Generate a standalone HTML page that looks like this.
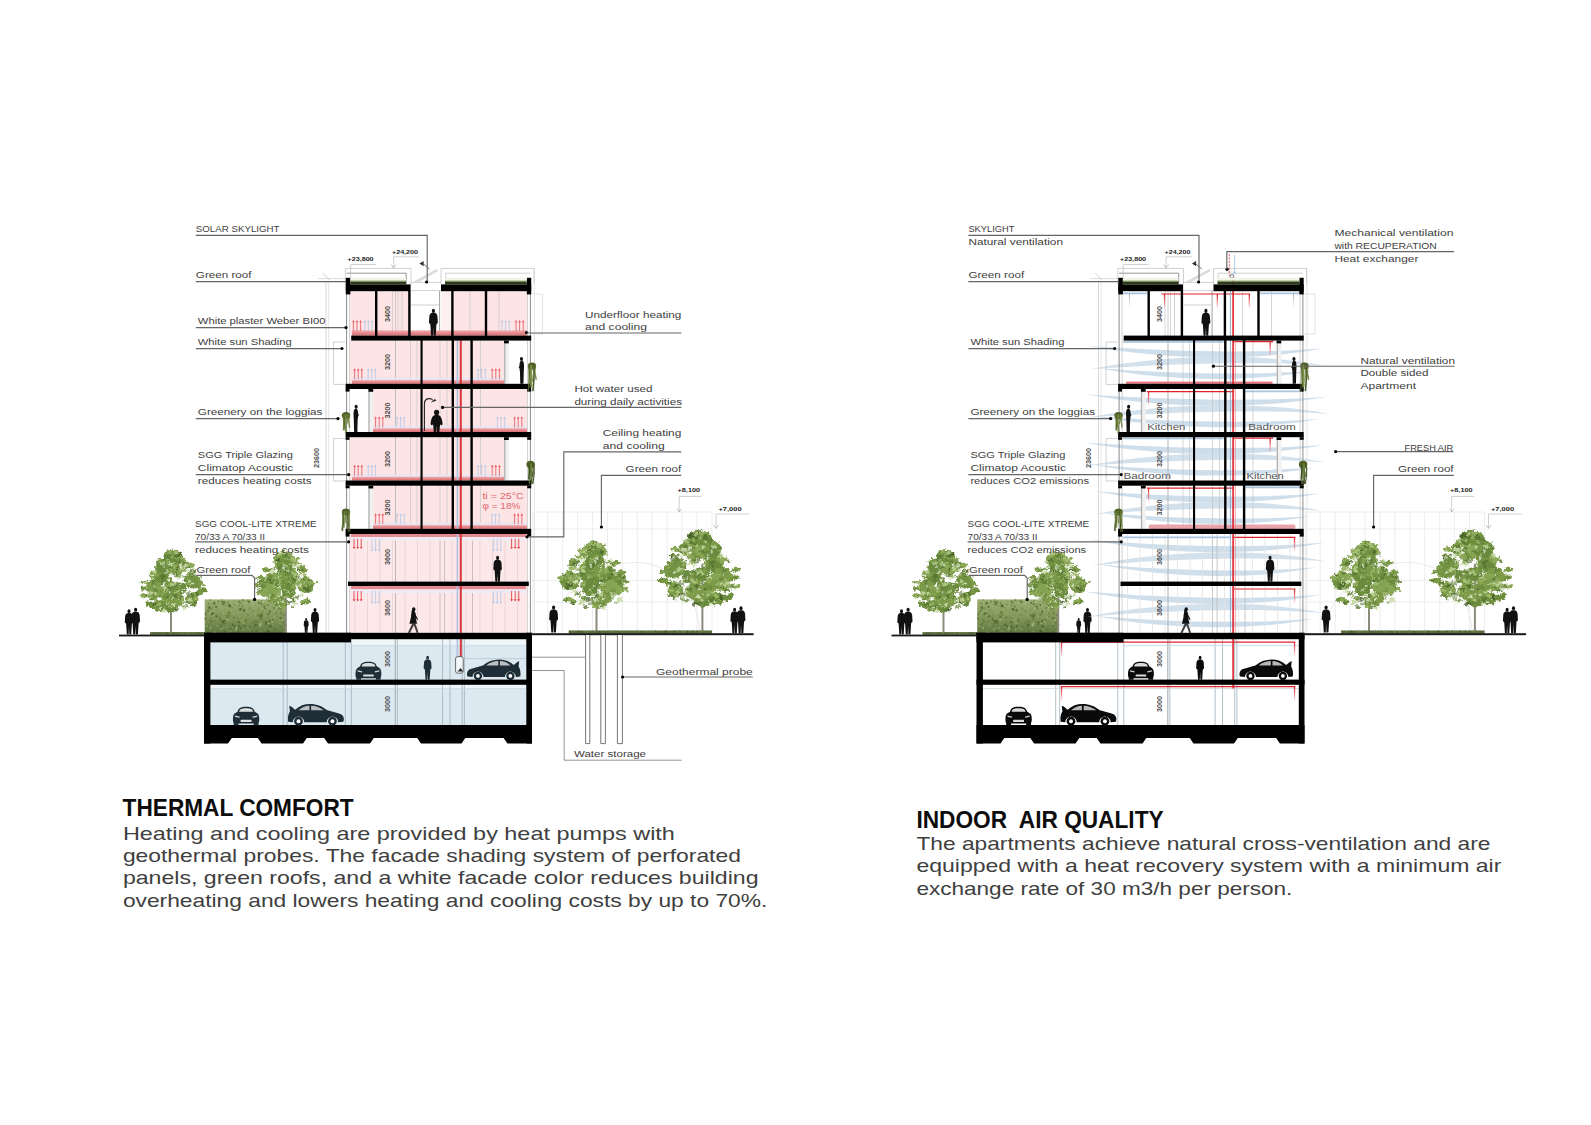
<!DOCTYPE html>
<html lang="en"><head><meta charset="utf-8"><title>Thermal comfort and indoor air quality</title>
<style>html,body{margin:0;padding:0;background:#fff}body{width:1591px;height:1125px;overflow:hidden}svg{display:block;font-family:"Liberation Sans",sans-serif}text{white-space:pre}</style></head><body>
<svg width="1591" height="1125" viewBox="0 0 1591 1125">
<defs><linearGradient id="hg" x1="0" y1="0" x2="0" y2="1"><stop offset="0" stop-color="#9cae76"/><stop offset="0.5" stop-color="#83975a"/><stop offset="1" stop-color="#5f7842"/></linearGradient><linearGradient id="rd" x1="0" y1="0" x2="0" y2="1"><stop offset="0" stop-color="#e0232b"/><stop offset="1" stop-color="#e0232b" stop-opacity="0.1"/></linearGradient><linearGradient id="sg" x1="0" y1="0" x2="0" y2="1"><stop offset="0" stop-color="#f0a9ab"/><stop offset="1" stop-color="#d96c70"/></linearGradient><linearGradient id="gd" x1="0" y1="0" x2="0" y2="1"><stop offset="0" stop-color="#999"/><stop offset="1" stop-color="#999" stop-opacity="0.1"/></linearGradient>
<filter id="rough" x="-15%" y="-15%" width="130%" height="130%"><feTurbulence type="fractalNoise" baseFrequency="0.3" numOctaves="2" seed="4" result="n"/><feDisplacementMap in="SourceGraphic" in2="n" scale="6" xChannelSelector="R" yChannelSelector="G"/></filter>
<g id="trA"><ellipse cx="29.8" cy="46.5" rx="11.9" ry="9.7" fill="#6b8b3d"/><ellipse cx="-21" cy="46.4" rx="13.5" ry="11" fill="#6b8b3d"/><ellipse cx="-31.3" cy="61.5" rx="13.2" ry="10.8" fill="#86a453"/><ellipse cx="11.5" cy="20.1" rx="11.8" ry="9.6" fill="#7b9a48"/><ellipse cx="-3.8" cy="58.6" rx="11" ry="9" fill="#739243"/><ellipse cx="-33.6" cy="61" rx="13.4" ry="10.9" fill="#7b9a48"/><ellipse cx="-18.7" cy="24.2" rx="10.1" ry="8.3" fill="#6b8b3d"/><ellipse cx="-16.9" cy="35.7" rx="12.1" ry="9.9" fill="#739243"/><ellipse cx="12.9" cy="62.4" rx="11.5" ry="9.4" fill="#6b8b3d"/><ellipse cx="4.1" cy="63.7" rx="11" ry="9" fill="#7b9a48"/><ellipse cx="-21.7" cy="68.2" rx="10.5" ry="8.6" fill="#86a453"/><ellipse cx="-4.5" cy="10.5" rx="11.9" ry="9.7" fill="#7b9a48"/><ellipse cx="33.1" cy="80" rx="10.9" ry="8.9" fill="#7b9a48"/><ellipse cx="-16.6" cy="26.1" rx="13.9" ry="11.4" fill="#6b8b3d"/><ellipse cx="-23.6" cy="91.3" rx="11" ry="9" fill="#739243"/><ellipse cx="-32.8" cy="74.2" rx="10.3" ry="8.4" fill="#86a453"/><ellipse cx="4.4" cy="9.3" rx="11.1" ry="9" fill="#739243"/><ellipse cx="-21.6" cy="28.9" rx="9.4" ry="7.7" fill="#6b8b3d"/><ellipse cx="-1.8" cy="23.1" rx="11.9" ry="9.7" fill="#739243"/><ellipse cx="-4.1" cy="91.7" rx="13" ry="10.7" fill="#6b8b3d"/><ellipse cx="-7.6" cy="17.9" rx="11.1" ry="9.1" fill="#86a453"/><ellipse cx="6" cy="81.5" rx="14.2" ry="11.6" fill="#7b9a48"/><ellipse cx="14.7" cy="25.9" rx="11" ry="9" fill="#7b9a48"/><ellipse cx="-1" cy="11.6" rx="9.6" ry="7.9" fill="#7b9a48"/><ellipse cx="-16.1" cy="73.7" rx="10.6" ry="8.7" fill="#7b9a48"/><ellipse cx="3" cy="14.3" rx="9.9" ry="8.1" fill="#7b9a48"/><ellipse cx="-3.8" cy="59.1" rx="10.8" ry="8.9" fill="#6b8b3d"/><ellipse cx="-8.6" cy="78.8" rx="9.5" ry="7.8" fill="#739243"/><ellipse cx="6.3" cy="34.4" rx="10.1" ry="8.2" fill="#739243"/><ellipse cx="1.7" cy="21.5" rx="12.3" ry="10" fill="#6b8b3d"/><ellipse cx="-5.2" cy="83" rx="12.1" ry="9.9" fill="#7b9a48"/><ellipse cx="-6" cy="17.3" rx="11.6" ry="9.5" fill="#6b8b3d"/><ellipse cx="4.2" cy="29.8" rx="13.3" ry="10.9" fill="#86a453"/><ellipse cx="35.3" cy="52.2" rx="13.9" ry="11.4" fill="#739243"/><ellipse cx="-1.6" cy="3" rx="2.5" ry="3.4" fill="#6f8f3e"/><ellipse cx="0.4" cy="6.2" rx="4.1" ry="3.4" fill="#6f8f3e"/><ellipse cx="2.1" cy="9.4" rx="5.7" ry="3.4" fill="#6f8f3e"/><ellipse cx="0.7" cy="12.6" rx="7.3" ry="3.4" fill="#6f8f3e"/><ellipse cx="-1.3" cy="15.8" rx="8.9" ry="3.4" fill="#6f8f3e"/><ellipse cx="-40.4" cy="88.4" rx="5.1" ry="2.2" fill="#6f8f3e" transform="rotate(17.2 -40.4 88.4)"/><ellipse cx="-21.3" cy="19.8" rx="6.9" ry="3" fill="#7a9a47" transform="rotate(31.3 -21.3 19.8)"/><ellipse cx="32.1" cy="26.1" rx="7.4" ry="3.2" fill="#8aa856" transform="rotate(-14.1 32.1 26.1)"/><ellipse cx="-39.9" cy="90.7" rx="6.7" ry="2.9" fill="#6f8f3e" transform="rotate(7 -39.9 90.7)"/><ellipse cx="-34.2" cy="92" rx="5.1" ry="2.2" fill="#7a9a47" transform="rotate(5.8 -34.2 92)"/><ellipse cx="-33.9" cy="40.5" rx="7" ry="3.1" fill="#8aa856" transform="rotate(33.2 -33.9 40.5)"/><ellipse cx="-39.9" cy="89.9" rx="8.5" ry="3.7" fill="#6f8f3e" transform="rotate(31.6 -39.9 89.9)"/><ellipse cx="-50.9" cy="52.9" rx="6.5" ry="2.8" fill="#7a9a47" transform="rotate(0.5 -50.9 52.9)"/><ellipse cx="44.8" cy="60.8" rx="4.8" ry="2.1" fill="#7a9a47" transform="rotate(-31.8 44.8 60.8)"/><ellipse cx="51.2" cy="66.2" rx="7.7" ry="3.4" fill="#6f8f3e" transform="rotate(2.4 51.2 66.2)"/><ellipse cx="44.7" cy="70.5" rx="8.2" ry="3.6" fill="#7a9a47" transform="rotate(-14.3 44.7 70.5)"/><ellipse cx="48.3" cy="56.2" rx="6.7" ry="2.9" fill="#7a9a47" transform="rotate(3.3 48.3 56.2)"/><ellipse cx="24.5" cy="24" rx="4.8" ry="2.1" fill="#6f8f3e" transform="rotate(-29.3 24.5 24)"/><ellipse cx="-49.6" cy="63.9" rx="6.2" ry="2.7" fill="#6f8f3e" transform="rotate(15.1 -49.6 63.9)"/><ellipse cx="36" cy="34.3" rx="5.6" ry="2.4" fill="#6f8f3e" transform="rotate(-2.9 36 34.3)"/><ellipse cx="-50" cy="75.4" rx="6.3" ry="2.8" fill="#8aa856" transform="rotate(-1.8 -50 75.4)"/><ellipse cx="-19.5" cy="23.1" rx="2.6" ry="1.7" fill="#4f6c2b" opacity="0.78"/><ellipse cx="-13.8" cy="94.2" rx="2.1" ry="1.4" fill="#d6e4b8" opacity="0.69"/><ellipse cx="23.1" cy="91.9" rx="2.7" ry="1.8" fill="#68883e" opacity="0.70"/><ellipse cx="23.7" cy="33.3" rx="4.3" ry="2.8" fill="#d6e4b8" opacity="0.63"/><ellipse cx="-18.9" cy="82.6" rx="3.3" ry="2.2" fill="#bbd18c" opacity="0.73"/><ellipse cx="20.1" cy="32.7" rx="1.7" ry="1.2" fill="#8fad57" opacity="0.66"/><ellipse cx="13.4" cy="21.2" rx="2.4" ry="1.6" fill="#8fad57" opacity="0.82"/><ellipse cx="-19.3" cy="97.5" rx="2" ry="1.3" fill="#68883e" opacity="0.76"/><ellipse cx="40.2" cy="80.5" rx="3.5" ry="2.3" fill="#a3bf6e" opacity="0.83"/><ellipse cx="13" cy="27.6" rx="3.7" ry="2.4" fill="#68883e" opacity="0.79"/><ellipse cx="-10.9" cy="20.2" rx="2.6" ry="1.7" fill="#68883e" opacity="0.70"/><ellipse cx="-15.6" cy="98.7" rx="3.9" ry="2.6" fill="#a3bf6e" opacity="0.53"/><ellipse cx="15" cy="92.5" rx="2" ry="1.3" fill="#d6e4b8" opacity="0.58"/><ellipse cx="-38.8" cy="88.2" rx="3.1" ry="2.1" fill="#68883e" opacity="0.82"/><ellipse cx="-2.3" cy="93.6" rx="3.4" ry="2.3" fill="#a3bf6e" opacity="0.54"/><ellipse cx="24.2" cy="86.2" rx="4.1" ry="2.7" fill="#425c23" opacity="0.59"/><ellipse cx="37.1" cy="89.4" rx="4.3" ry="2.8" fill="#68883e" opacity="0.89"/><ellipse cx="-16.1" cy="92.5" rx="3.6" ry="2.4" fill="#4f6c2b" opacity="0.64"/><ellipse cx="-1.8" cy="10.9" rx="3.1" ry="2.1" fill="#bbd18c" opacity="0.69"/><ellipse cx="6.2" cy="5.7" rx="1.8" ry="1.2" fill="#4f6c2b" opacity="0.57"/><ellipse cx="21" cy="35.2" rx="2.1" ry="1.4" fill="#8fad57" opacity="0.90"/><ellipse cx="1.4" cy="89.5" rx="3.5" ry="2.3" fill="#d6e4b8" opacity="0.88"/><ellipse cx="41.5" cy="50.3" rx="1.9" ry="1.3" fill="#a3bf6e" opacity="0.68"/><ellipse cx="32.3" cy="56.6" rx="3.2" ry="2.1" fill="#8fad57" opacity="0.71"/><ellipse cx="5" cy="84" rx="2.5" ry="1.7" fill="#80a04c" opacity="0.88"/><ellipse cx="8.8" cy="86.5" rx="2.5" ry="1.7" fill="#8fad57" opacity="0.89"/><ellipse cx="7" cy="53.3" rx="2.2" ry="1.5" fill="#68883e" opacity="0.55"/><ellipse cx="-1.9" cy="3.5" rx="3.1" ry="2.1" fill="#4f6c2b" opacity="0.71"/><ellipse cx="24.7" cy="41.5" rx="3.2" ry="2.1" fill="#d6e4b8" opacity="0.54"/><ellipse cx="19.8" cy="19" rx="2.9" ry="1.9" fill="#80a04c" opacity="0.61"/><ellipse cx="-33.7" cy="48.4" rx="2.8" ry="1.9" fill="#d6e4b8" opacity="0.71"/><ellipse cx="-2.9" cy="13.4" rx="1.8" ry="1.2" fill="#bbd18c" opacity="0.55"/><ellipse cx="-43.3" cy="77.8" rx="2.2" ry="1.5" fill="#a3bf6e" opacity="0.50"/><ellipse cx="14.6" cy="30.3" rx="2.3" ry="1.6" fill="#d6e4b8" opacity="0.54"/><ellipse cx="-35.6" cy="73.2" rx="3" ry="2" fill="#bbd18c" opacity="0.79"/><ellipse cx="36" cy="70.3" rx="1.7" ry="1.2" fill="#80a04c" opacity="0.83"/><ellipse cx="3.7" cy="62.1" rx="4" ry="2.6" fill="#68883e" opacity="0.76"/><ellipse cx="33.9" cy="53.8" rx="3.3" ry="2.2" fill="#8fad57" opacity="0.59"/><ellipse cx="29.3" cy="74.1" rx="4.1" ry="2.7" fill="#5a7832" opacity="0.74"/><ellipse cx="-23.9" cy="88.5" rx="3.7" ry="2.5" fill="#a3bf6e" opacity="0.86"/><ellipse cx="-10.5" cy="15.9" rx="3.6" ry="2.4" fill="#bbd18c" opacity="0.66"/><ellipse cx="37.9" cy="44.7" rx="3.1" ry="2.1" fill="#8fad57" opacity="0.58"/><ellipse cx="28.8" cy="63.3" rx="1.9" ry="1.3" fill="#c3d79b" opacity="0.77"/><ellipse cx="35" cy="90.5" rx="2" ry="1.3" fill="#68883e" opacity="0.75"/><ellipse cx="36.9" cy="36" rx="3.9" ry="2.6" fill="#425c23" opacity="0.69"/><ellipse cx="5.1" cy="5.3" rx="3.3" ry="2.2" fill="#c3d79b" opacity="0.69"/><ellipse cx="-19.2" cy="21.2" rx="2.1" ry="1.4" fill="#8fad57" opacity="0.90"/><ellipse cx="-28.1" cy="92" rx="1.8" ry="1.2" fill="#d6e4b8" opacity="0.53"/><ellipse cx="-3.7" cy="12.3" rx="2.8" ry="1.9" fill="#5a7832" opacity="0.67"/><ellipse cx="-47.2" cy="60.7" rx="3.5" ry="2.4" fill="#a3bf6e" opacity="0.57"/><ellipse cx="21.1" cy="46.6" rx="2.7" ry="1.8" fill="#a3bf6e" opacity="0.74"/><ellipse cx="9.7" cy="12.1" rx="2.5" ry="1.7" fill="#425c23" opacity="0.82"/><ellipse cx="34.2" cy="70.6" rx="3.3" ry="2.2" fill="#80a04c" opacity="0.73"/><ellipse cx="4.2" cy="21.3" rx="2.6" ry="1.7" fill="#bbd18c" opacity="0.61"/><ellipse cx="9" cy="14.2" rx="2.1" ry="1.4" fill="#80a04c" opacity="0.55"/><ellipse cx="2.8" cy="34.7" rx="2.7" ry="1.8" fill="#80a04c" opacity="0.81"/><ellipse cx="18.4" cy="42" rx="1.9" ry="1.2" fill="#5a7832" opacity="0.62"/><ellipse cx="13.3" cy="12.7" rx="4.3" ry="2.9" fill="#c3d79b" opacity="0.52"/><ellipse cx="29.3" cy="29.2" rx="2.5" ry="1.6" fill="#a3bf6e" opacity="0.76"/><ellipse cx="3.2" cy="57.7" rx="2.7" ry="1.8" fill="#d6e4b8" opacity="0.76"/><ellipse cx="24.9" cy="70.3" rx="4.3" ry="2.8" fill="#4f6c2b" opacity="0.55"/><ellipse cx="-9.4" cy="13.4" rx="2.9" ry="1.9" fill="#68883e" opacity="0.52"/><ellipse cx="-6.3" cy="21.8" rx="1.9" ry="1.3" fill="#bbd18c" opacity="0.61"/><ellipse cx="3" cy="35.7" rx="2.8" ry="1.9" fill="#68883e" opacity="0.73"/><ellipse cx="6.4" cy="98.5" rx="3.8" ry="2.5" fill="#425c23" opacity="0.72"/><ellipse cx="43.5" cy="67.2" rx="2.7" ry="1.8" fill="#8fad57" opacity="0.65"/><ellipse cx="19.5" cy="96.1" rx="3.1" ry="2.1" fill="#c3d79b" opacity="0.52"/><ellipse cx="-5" cy="93.7" rx="3.1" ry="2" fill="#c3d79b" opacity="0.62"/><ellipse cx="-1.6" cy="53.9" rx="2.4" ry="1.6" fill="#bbd18c" opacity="0.77"/><ellipse cx="-44.5" cy="74.8" rx="3.7" ry="2.5" fill="#c3d79b" opacity="0.52"/><ellipse cx="11.2" cy="18" rx="2.7" ry="1.8" fill="#5a7832" opacity="0.80"/><ellipse cx="12.1" cy="7.8" rx="4.2" ry="2.8" fill="#425c23" opacity="0.82"/><ellipse cx="12.2" cy="24.5" rx="2.3" ry="1.6" fill="#a3bf6e" opacity="0.52"/><ellipse cx="10.5" cy="12.5" rx="4.1" ry="2.7" fill="#8fad57" opacity="0.89"/><ellipse cx="9" cy="81.4" rx="2" ry="1.3" fill="#c3d79b" opacity="0.67"/><ellipse cx="13.5" cy="14.3" rx="2.6" ry="1.7" fill="#8fad57" opacity="0.55"/><ellipse cx="14.6" cy="45.5" rx="2.9" ry="1.9" fill="#bbd18c" opacity="0.76"/><ellipse cx="-13" cy="68.5" rx="3.6" ry="2.4" fill="#8fad57" opacity="0.88"/><ellipse cx="-24.7" cy="73.5" rx="2" ry="1.3" fill="#bbd18c" opacity="0.81"/><ellipse cx="-13.6" cy="63" rx="2.4" ry="1.6" fill="#c3d79b" opacity="0.78"/><ellipse cx="-11.1" cy="21.2" rx="2.3" ry="1.5" fill="#a3bf6e" opacity="0.70"/><ellipse cx="-29.2" cy="65.7" rx="3.5" ry="2.3" fill="#4f6c2b" opacity="0.50"/><ellipse cx="-29.1" cy="27.9" rx="1.8" ry="1.2" fill="#a3bf6e" opacity="0.72"/><ellipse cx="-12.1" cy="10" rx="3.5" ry="2.3" fill="#68883e" opacity="0.59"/><ellipse cx="-0.8" cy="97.2" rx="2.6" ry="1.7" fill="#5a7832" opacity="0.64"/><ellipse cx="31.9" cy="74.5" rx="1.9" ry="1.3" fill="#425c23" opacity="0.68"/><ellipse cx="29" cy="81.9" rx="3.7" ry="2.5" fill="#d6e4b8" opacity="0.67"/><ellipse cx="19" cy="27.8" rx="2.7" ry="1.8" fill="#c3d79b" opacity="0.63"/><ellipse cx="24.1" cy="55.7" rx="4.1" ry="2.7" fill="#80a04c" opacity="0.76"/><ellipse cx="-3.7" cy="58.7" rx="2.5" ry="1.7" fill="#68883e" opacity="0.53"/><ellipse cx="-1.5" cy="57.2" rx="3.5" ry="2.3" fill="#bbd18c" opacity="0.83"/><ellipse cx="-3.1" cy="3.9" rx="4.1" ry="2.7" fill="#c3d79b" opacity="0.53"/><ellipse cx="15.3" cy="32.2" rx="3.5" ry="2.3" fill="#bbd18c" opacity="0.85"/><ellipse cx="8.7" cy="24" rx="2.5" ry="1.7" fill="#425c23" opacity="0.63"/><ellipse cx="8.2" cy="45.3" rx="4.1" ry="2.7" fill="#bbd18c" opacity="0.68"/><ellipse cx="-17.2" cy="80.1" rx="2.5" ry="1.7" fill="#80a04c" opacity="0.89"/><ellipse cx="1.5" cy="73.1" rx="1.9" ry="1.3" fill="#5a7832" opacity="0.51"/><ellipse cx="8.1" cy="68" rx="3.8" ry="2.5" fill="#c3d79b" opacity="0.65"/><ellipse cx="-27.9" cy="40.5" rx="3.2" ry="2.2" fill="#8fad57" opacity="0.57"/><ellipse cx="35.5" cy="75.9" rx="2.4" ry="1.6" fill="#4f6c2b" opacity="0.59"/><ellipse cx="-9" cy="8.5" rx="2.5" ry="1.6" fill="#4f6c2b" opacity="0.76"/><ellipse cx="-38.3" cy="80.2" rx="3.1" ry="2.1" fill="#68883e" opacity="0.53"/><ellipse cx="7.3" cy="10.8" rx="4.1" ry="2.7" fill="#425c23" opacity="0.51"/><ellipse cx="-38.6" cy="65.7" rx="3.8" ry="2.6" fill="#80a04c" opacity="0.60"/><ellipse cx="14.7" cy="24.2" rx="3.1" ry="2" fill="#d6e4b8" opacity="0.66"/><ellipse cx="34.3" cy="35.4" rx="3.5" ry="2.3" fill="#d6e4b8" opacity="0.70"/><ellipse cx="-37.6" cy="80.3" rx="3.3" ry="2.2" fill="#4f6c2b" opacity="0.66"/><ellipse cx="14.3" cy="82.3" rx="3.9" ry="2.6" fill="#80a04c" opacity="0.83"/><ellipse cx="35.9" cy="88.3" rx="3.4" ry="2.2" fill="#68883e" opacity="0.64"/><ellipse cx="-6.4" cy="4" rx="4.1" ry="2.7" fill="#8fad57" opacity="0.60"/><ellipse cx="6.1" cy="18.6" rx="3.5" ry="2.3" fill="#5a7832" opacity="0.58"/><ellipse cx="-17.6" cy="43.8" rx="4.2" ry="2.8" fill="#4f6c2b" opacity="0.69"/><ellipse cx="-18.6" cy="73.2" rx="2.1" ry="1.4" fill="#8fad57" opacity="0.86"/><ellipse cx="-45.3" cy="75.3" rx="3" ry="2" fill="#4f6c2b" opacity="0.63"/><ellipse cx="-7.2" cy="22" rx="3.2" ry="2.2" fill="#c3d79b" opacity="0.79"/><ellipse cx="-26.8" cy="60.1" rx="2.2" ry="1.4" fill="#bbd18c" opacity="0.66"/><ellipse cx="32.8" cy="90.4" rx="3.3" ry="2.2" fill="#68883e" opacity="0.69"/><ellipse cx="23.8" cy="28" rx="4.1" ry="2.7" fill="#5a7832" opacity="0.76"/><ellipse cx="-37.3" cy="77.1" rx="4" ry="2.6" fill="#80a04c" opacity="0.52"/><ellipse cx="18.8" cy="94" rx="2.7" ry="1.8" fill="#68883e" opacity="0.82"/><ellipse cx="26.3" cy="77.3" rx="1.8" ry="1.2" fill="#a3bf6e" opacity="0.86"/><ellipse cx="32.4" cy="86.9" rx="2.9" ry="1.9" fill="#a3bf6e" opacity="0.79"/><ellipse cx="-33.2" cy="61.2" rx="2.1" ry="1.4" fill="#5a7832" opacity="0.56"/><ellipse cx="23.5" cy="90.2" rx="2" ry="1.4" fill="#c3d79b" opacity="0.61"/><ellipse cx="-34" cy="54.3" rx="3.7" ry="2.5" fill="#4f6c2b" opacity="0.58"/><ellipse cx="-25.6" cy="91" rx="2" ry="1.3" fill="#5a7832" opacity="0.61"/><ellipse cx="-38.2" cy="71.8" rx="2.9" ry="2" fill="#d6e4b8" opacity="0.53"/><ellipse cx="4.1" cy="74.9" rx="3" ry="2" fill="#4f6c2b" opacity="0.82"/><ellipse cx="35" cy="43" rx="1.9" ry="1.3" fill="#d6e4b8" opacity="0.58"/><ellipse cx="2.5" cy="55.2" rx="2.1" ry="1.4" fill="#bbd18c" opacity="0.63"/><ellipse cx="4.7" cy="41.9" rx="4.3" ry="2.9" fill="#425c23" opacity="0.64"/><ellipse cx="-37.6" cy="69" rx="2.7" ry="1.8" fill="#d6e4b8" opacity="0.80"/><ellipse cx="-34.1" cy="78.3" rx="2.9" ry="1.9" fill="#80a04c" opacity="0.78"/><ellipse cx="-18.7" cy="48.6" rx="2" ry="1.3" fill="#4f6c2b" opacity="0.84"/><ellipse cx="18.3" cy="84.1" rx="4.1" ry="2.7" fill="#8fad57" opacity="0.62"/><ellipse cx="3.1" cy="39.1" rx="2.5" ry="1.6" fill="#5a7832" opacity="0.80"/><ellipse cx="-40.4" cy="56.3" rx="2.2" ry="1.5" fill="#80a04c" opacity="0.79"/><ellipse cx="32" cy="34.6" rx="3.2" ry="2.1" fill="#5a7832" opacity="0.68"/><ellipse cx="-31.8" cy="39.7" rx="3.3" ry="2.2" fill="#8fad57" opacity="0.77"/><ellipse cx="-30.4" cy="71" rx="2.7" ry="1.8" fill="#d6e4b8" opacity="0.74"/><ellipse cx="-8.9" cy="11.6" rx="2.1" ry="1.4" fill="#425c23" opacity="0.67"/><ellipse cx="-14.5" cy="77" rx="3.9" ry="2.6" fill="#68883e" opacity="0.56"/><ellipse cx="-18.5" cy="22.7" rx="3.5" ry="2.3" fill="#d6e4b8" opacity="0.63"/><ellipse cx="-40.4" cy="42.6" rx="2.7" ry="1.8" fill="#5a7832" opacity="0.89"/><ellipse cx="14.4" cy="78.8" rx="3.3" ry="2.2" fill="#4f6c2b" opacity="0.60"/><ellipse cx="-9.6" cy="21.1" rx="2.8" ry="1.9" fill="#68883e" opacity="0.65"/><ellipse cx="27.2" cy="51.9" rx="3.9" ry="2.6" fill="#c3d79b" opacity="0.79"/><ellipse cx="2.4" cy="27.4" rx="2.5" ry="1.6" fill="#a3bf6e" opacity="0.64"/><ellipse cx="-33.4" cy="51" rx="3.6" ry="2.4" fill="#68883e" opacity="0.90"/><ellipse cx="41.4" cy="70.9" rx="3.2" ry="2.1" fill="#4f6c2b" opacity="0.75"/><ellipse cx="-21.4" cy="22" rx="2.3" ry="1.6" fill="#c3d79b" opacity="0.67"/><ellipse cx="-29.6" cy="35" rx="4" ry="2.7" fill="#bbd18c" opacity="0.69"/><ellipse cx="18.2" cy="14.9" rx="2" ry="1.4" fill="#c3d79b" opacity="0.72"/><ellipse cx="5.9" cy="56.8" rx="2.4" ry="1.6" fill="#5a7832" opacity="0.74"/><ellipse cx="12.4" cy="14.8" rx="2.4" ry="1.6" fill="#5a7832" opacity="0.60"/><ellipse cx="32.2" cy="58.1" rx="2.2" ry="1.4" fill="#68883e" opacity="0.82"/><ellipse cx="-8.5" cy="46.6" rx="3.7" ry="2.5" fill="#8fad57" opacity="0.62"/><ellipse cx="22.7" cy="67.4" rx="2.7" ry="1.8" fill="#c3d79b" opacity="0.76"/><ellipse cx="-31.6" cy="76.3" rx="2.8" ry="1.8" fill="#4f6c2b" opacity="0.56"/><ellipse cx="5.6" cy="40.1" rx="2.1" ry="1.4" fill="#68883e" opacity="0.55"/><ellipse cx="25.5" cy="26.4" rx="1.8" ry="1.2" fill="#4f6c2b" opacity="0.79"/><ellipse cx="-8.7" cy="78.6" rx="3" ry="2" fill="#425c23" opacity="0.69"/><ellipse cx="10.3" cy="42.5" rx="3.5" ry="2.3" fill="#80a04c" opacity="0.80"/><ellipse cx="45.4" cy="49.6" rx="3.9" ry="2.6" fill="#80a04c" opacity="0.83"/><ellipse cx="-14.3" cy="14.3" rx="4.2" ry="2.8" fill="#5a7832" opacity="0.71"/><ellipse cx="34.6" cy="44.5" rx="2.5" ry="1.7" fill="#4f6c2b" opacity="0.62"/><ellipse cx="-6.5" cy="62.2" rx="2.7" ry="1.8" fill="#5a7832" opacity="0.80"/><ellipse cx="6.4" cy="32.3" rx="1.9" ry="1.2" fill="#425c23" opacity="0.84"/><ellipse cx="21.9" cy="26.3" rx="4.2" ry="2.8" fill="#d6e4b8" opacity="0.78"/><ellipse cx="-25.1" cy="53.5" rx="2.5" ry="1.7" fill="#80a04c" opacity="0.88"/><ellipse cx="39.7" cy="87.5" rx="3.6" ry="2.4" fill="#5a7832" opacity="0.85"/><ellipse cx="25.8" cy="43.5" rx="2.3" ry="1.5" fill="#80a04c" opacity="0.73"/><ellipse cx="-30.8" cy="89.7" rx="3.8" ry="2.5" fill="#425c23" opacity="0.85"/><ellipse cx="-4.6" cy="58.3" rx="2.5" ry="1.6" fill="#bbd18c" opacity="0.51"/><ellipse cx="-2.8" cy="19.5" rx="2.9" ry="1.9" fill="#68883e" opacity="0.66"/><ellipse cx="6.5" cy="37.2" rx="1.8" ry="1.2" fill="#4f6c2b" opacity="0.68"/><ellipse cx="-12.2" cy="33.1" rx="2.1" ry="1.4" fill="#d6e4b8" opacity="0.85"/><ellipse cx="18.7" cy="22.5" rx="3.5" ry="2.3" fill="#4f6c2b" opacity="0.58"/><ellipse cx="-12.3" cy="83.4" rx="2.9" ry="2" fill="#8fad57" opacity="0.75"/><ellipse cx="5.7" cy="70" rx="3.1" ry="2.1" fill="#a3bf6e" opacity="0.58"/><ellipse cx="-35.7" cy="87.5" rx="2" ry="1.3" fill="#5a7832" opacity="0.88"/><ellipse cx="-5.1" cy="29.3" rx="4" ry="2.7" fill="#5a7832" opacity="0.78"/><ellipse cx="-3.6" cy="93" rx="1.9" ry="1.3" fill="#a3bf6e" opacity="0.84"/><ellipse cx="7.2" cy="14.6" rx="2.4" ry="1.6" fill="#a3bf6e" opacity="0.70"/><ellipse cx="-15.1" cy="31.4" rx="3.8" ry="2.5" fill="#68883e" opacity="0.85"/><ellipse cx="-26.3" cy="59.6" rx="2.5" ry="1.6" fill="#8fad57" opacity="0.77"/><ellipse cx="9" cy="29.6" rx="1.9" ry="1.3" fill="#425c23" opacity="0.68"/><ellipse cx="3" cy="53.7" rx="1.8" ry="1.2" fill="#c3d79b" opacity="0.73"/><ellipse cx="-7.5" cy="54.6" rx="3.2" ry="2.1" fill="#8fad57" opacity="0.61"/><ellipse cx="-23.7" cy="75.5" rx="2.4" ry="1.6" fill="#68883e" opacity="0.51"/><circle cx="-24.9" cy="80.9" r="2.1" fill="#fff" opacity="0.6"/><circle cx="32.5" cy="67.9" r="1.6" fill="#fff" opacity="0.6"/><circle cx="15.4" cy="20.2" r="0.9" fill="#fff" opacity="0.6"/><circle cx="12.8" cy="24.9" r="2.1" fill="#fff" opacity="0.6"/><circle cx="-1.2" cy="44.7" r="0.8" fill="#fff" opacity="0.6"/><circle cx="22.2" cy="42.4" r="1.7" fill="#fff" opacity="0.6"/><circle cx="11.2" cy="95.7" r="1.5" fill="#fff" opacity="0.6"/><circle cx="21.2" cy="65.7" r="1" fill="#fff" opacity="0.6"/><circle cx="13.2" cy="53.5" r="1.6" fill="#fff" opacity="0.6"/><circle cx="14.1" cy="39.7" r="1.8" fill="#fff" opacity="0.6"/><circle cx="2.9" cy="40" r="2" fill="#fff" opacity="0.6"/><circle cx="-18.7" cy="66.5" r="1.1" fill="#fff" opacity="0.6"/><circle cx="-21.8" cy="94.7" r="1.4" fill="#fff" opacity="0.6"/><circle cx="-11.3" cy="87.8" r="1.7" fill="#fff" opacity="0.6"/><circle cx="23.9" cy="66.9" r="1.5" fill="#fff" opacity="0.6"/><circle cx="27.2" cy="75.7" r="0.8" fill="#fff" opacity="0.6"/><circle cx="-16.5" cy="28.8" r="1.7" fill="#fff" opacity="0.6"/><circle cx="17.4" cy="64.6" r="1.7" fill="#fff" opacity="0.6"/><circle cx="-3.4" cy="24.2" r="1.8" fill="#fff" opacity="0.6"/><circle cx="16.5" cy="83.1" r="1.9" fill="#fff" opacity="0.6"/><circle cx="-0.1" cy="78.9" r="1.7" fill="#fff" opacity="0.6"/><circle cx="-9.6" cy="59.3" r="1.1" fill="#fff" opacity="0.6"/><circle cx="12.6" cy="58.3" r="1.6" fill="#fff" opacity="0.6"/><circle cx="-14.7" cy="55" r="1.5" fill="#fff" opacity="0.6"/><circle cx="15.7" cy="73.8" r="2.1" fill="#fff" opacity="0.6"/><circle cx="13.4" cy="29.9" r="1.6" fill="#fff" opacity="0.6"/><circle cx="13" cy="30.4" r="1.5" fill="#fff" opacity="0.6"/><circle cx="-22.6" cy="95.9" r="1.4" fill="#fff" opacity="0.6"/><circle cx="-32.3" cy="60.5" r="1.6" fill="#fff" opacity="0.6"/><circle cx="34.8" cy="56.3" r="2.2" fill="#fff" opacity="0.6"/><circle cx="16.8" cy="72.3" r="2.2" fill="#fff" opacity="0.6"/><circle cx="-15.9" cy="67.2" r="1" fill="#fff" opacity="0.6"/><circle cx="-5.4" cy="85.9" r="0.9" fill="#fff" opacity="0.6"/><circle cx="-11.9" cy="37.5" r="2.1" fill="#fff" opacity="0.6"/></g>
<g id="trB"><ellipse cx="11.9" cy="48.3" rx="12.4" ry="10.2" fill="#739243"/><ellipse cx="-1" cy="40.4" rx="14.3" ry="11.7" fill="#6b8b3d"/><ellipse cx="4.5" cy="66.7" rx="12.1" ry="9.9" fill="#739243"/><ellipse cx="-9" cy="91.1" rx="10.8" ry="8.9" fill="#739243"/><ellipse cx="-5.9" cy="13" rx="13.3" ry="10.9" fill="#86a453"/><ellipse cx="-31.5" cy="65.9" rx="13.2" ry="10.8" fill="#7b9a48"/><ellipse cx="-20" cy="77.7" rx="12.4" ry="10.2" fill="#6b8b3d"/><ellipse cx="-4.9" cy="88.5" rx="9.4" ry="7.7" fill="#739243"/><ellipse cx="4.4" cy="53.9" rx="13.7" ry="11.2" fill="#7b9a48"/><ellipse cx="-33.7" cy="55.2" rx="11.6" ry="9.5" fill="#6b8b3d"/><ellipse cx="8.7" cy="64.8" rx="11.4" ry="9.3" fill="#7b9a48"/><ellipse cx="-25.7" cy="62.5" rx="9.3" ry="7.6" fill="#86a453"/><ellipse cx="11.7" cy="38.3" rx="10.8" ry="8.8" fill="#86a453"/><ellipse cx="-3.8" cy="17.7" rx="10.1" ry="8.3" fill="#739243"/><ellipse cx="-0.6" cy="10.4" rx="13.3" ry="10.9" fill="#7b9a48"/><ellipse cx="-4.8" cy="26.9" rx="11.1" ry="9.1" fill="#7b9a48"/><ellipse cx="-33.8" cy="72" rx="10" ry="8.2" fill="#86a453"/><ellipse cx="-2.4" cy="11.1" rx="10.3" ry="8.4" fill="#7b9a48"/><ellipse cx="-12.6" cy="51.7" rx="10.8" ry="8.9" fill="#6b8b3d"/><ellipse cx="-1.3" cy="48.5" rx="14.1" ry="11.5" fill="#739243"/><ellipse cx="-22.8" cy="47.5" rx="11.8" ry="9.7" fill="#739243"/><ellipse cx="-16" cy="85.5" rx="8.8" ry="7.2" fill="#86a453"/><ellipse cx="0" cy="23.3" rx="13.2" ry="10.8" fill="#739243"/><ellipse cx="37.7" cy="60.6" rx="14.2" ry="11.6" fill="#739243"/><ellipse cx="3.7" cy="10" rx="10.6" ry="8.7" fill="#86a453"/><ellipse cx="2.2" cy="62.3" rx="10.1" ry="8.2" fill="#6b8b3d"/><ellipse cx="14" cy="49.6" rx="10.7" ry="8.8" fill="#6b8b3d"/><ellipse cx="-14.5" cy="84" rx="9.7" ry="7.9" fill="#7b9a48"/><ellipse cx="0.7" cy="31.7" rx="14" ry="11.4" fill="#6b8b3d"/><ellipse cx="-17.4" cy="67.9" rx="10" ry="8.2" fill="#86a453"/><ellipse cx="-7.7" cy="10.4" rx="8.8" ry="7.2" fill="#86a453"/><ellipse cx="-4.5" cy="43.7" rx="10.1" ry="8.3" fill="#7b9a48"/><ellipse cx="33.5" cy="55.6" rx="12.2" ry="10" fill="#86a453"/><ellipse cx="6.9" cy="72.6" rx="11.1" ry="9.1" fill="#6b8b3d"/><ellipse cx="1.7" cy="3" rx="2.5" ry="3.4" fill="#6f8f3e"/><ellipse cx="0.5" cy="6.2" rx="4.1" ry="3.4" fill="#6f8f3e"/><ellipse cx="-0.9" cy="9.4" rx="5.7" ry="3.4" fill="#6f8f3e"/><ellipse cx="-0.8" cy="12.6" rx="7.3" ry="3.4" fill="#6f8f3e"/><ellipse cx="1.4" cy="15.8" rx="8.9" ry="3.4" fill="#6f8f3e"/><ellipse cx="-49.1" cy="60.1" rx="5.4" ry="2.4" fill="#7a9a47" transform="rotate(3.1 -49.1 60.1)"/><ellipse cx="38.9" cy="86.8" rx="8" ry="3.5" fill="#6f8f3e" transform="rotate(-3.3 38.9 86.8)"/><ellipse cx="-42.9" cy="71.8" rx="8.5" ry="3.7" fill="#8aa856" transform="rotate(7.5 -42.9 71.8)"/><ellipse cx="-42.6" cy="54.3" rx="7.2" ry="3.1" fill="#8aa856" transform="rotate(19.2 -42.6 54.3)"/><ellipse cx="33" cy="34.7" rx="5.1" ry="2.2" fill="#6f8f3e" transform="rotate(-29.3 33 34.7)"/><ellipse cx="23.4" cy="22.2" rx="5.5" ry="2.4" fill="#8aa856" transform="rotate(-8.6 23.4 22.2)"/><ellipse cx="33.2" cy="89.8" rx="5.6" ry="2.5" fill="#8aa856" transform="rotate(-17.3 33.2 89.8)"/><ellipse cx="30.1" cy="29.3" rx="8.3" ry="3.6" fill="#7a9a47" transform="rotate(2.8 30.1 29.3)"/><ellipse cx="18.3" cy="15.6" rx="8.2" ry="3.6" fill="#8aa856" transform="rotate(-17.7 18.3 15.6)"/><ellipse cx="-33" cy="32.6" rx="7.6" ry="3.3" fill="#7a9a47" transform="rotate(15 -33 32.6)"/><ellipse cx="-41.5" cy="46.1" rx="7.9" ry="3.5" fill="#7a9a47" transform="rotate(1.7 -41.5 46.1)"/><ellipse cx="33.6" cy="33.2" rx="6.6" ry="2.9" fill="#7a9a47" transform="rotate(3.9 33.6 33.2)"/><ellipse cx="44.5" cy="59.3" rx="7.7" ry="3.4" fill="#6f8f3e" transform="rotate(-4 44.5 59.3)"/><ellipse cx="34.8" cy="86.7" rx="6.7" ry="2.9" fill="#8aa856" transform="rotate(-29.6 34.8 86.7)"/><ellipse cx="51" cy="54.6" rx="5.9" ry="2.6" fill="#8aa856" transform="rotate(-11 51 54.6)"/><ellipse cx="37.6" cy="46.1" rx="5.8" ry="2.6" fill="#7a9a47" transform="rotate(-1.3 37.6 46.1)"/><ellipse cx="27.5" cy="61.4" rx="2.8" ry="1.8" fill="#c3d79b" opacity="0.76"/><ellipse cx="19.7" cy="35.6" rx="3" ry="2" fill="#80a04c" opacity="0.83"/><ellipse cx="14.1" cy="20.5" rx="3.9" ry="2.6" fill="#425c23" opacity="0.89"/><ellipse cx="-42.9" cy="53.2" rx="3.9" ry="2.6" fill="#5a7832" opacity="0.89"/><ellipse cx="19.9" cy="90.8" rx="3.9" ry="2.6" fill="#bbd18c" opacity="0.83"/><ellipse cx="20.4" cy="23.3" rx="1.7" ry="1.2" fill="#bbd18c" opacity="0.52"/><ellipse cx="-26.6" cy="80.8" rx="2.2" ry="1.5" fill="#bbd18c" opacity="0.87"/><ellipse cx="13.9" cy="97.2" rx="3.1" ry="2.1" fill="#4f6c2b" opacity="0.74"/><ellipse cx="6.4" cy="12.8" rx="3.1" ry="2.1" fill="#d6e4b8" opacity="0.54"/><ellipse cx="-5.8" cy="3.6" rx="2.7" ry="1.8" fill="#d6e4b8" opacity="0.75"/><ellipse cx="12" cy="47.9" rx="2.7" ry="1.8" fill="#80a04c" opacity="0.86"/><ellipse cx="6.9" cy="5.7" rx="1.7" ry="1.2" fill="#8fad57" opacity="0.70"/><ellipse cx="15.6" cy="85.1" rx="4.2" ry="2.8" fill="#80a04c" opacity="0.72"/><ellipse cx="-7.2" cy="95.4" rx="1.9" ry="1.2" fill="#8fad57" opacity="0.64"/><ellipse cx="-4.4" cy="25.2" rx="3.8" ry="2.5" fill="#4f6c2b" opacity="0.87"/><ellipse cx="3.9" cy="6" rx="3.2" ry="2.1" fill="#4f6c2b" opacity="0.74"/><ellipse cx="29.5" cy="59.4" rx="3.3" ry="2.2" fill="#d6e4b8" opacity="0.80"/><ellipse cx="3.6" cy="43.7" rx="2.5" ry="1.7" fill="#a3bf6e" opacity="0.66"/><ellipse cx="-15.6" cy="66" rx="1.8" ry="1.2" fill="#5a7832" opacity="0.56"/><ellipse cx="-0.5" cy="14.8" rx="2" ry="1.4" fill="#bbd18c" opacity="0.51"/><ellipse cx="-1" cy="24.9" rx="3.6" ry="2.4" fill="#80a04c" opacity="0.80"/><ellipse cx="-8.7" cy="35.6" rx="4" ry="2.6" fill="#d6e4b8" opacity="0.64"/><ellipse cx="10.6" cy="88.4" rx="3.3" ry="2.2" fill="#425c23" opacity="0.59"/><ellipse cx="9" cy="40" rx="2" ry="1.3" fill="#68883e" opacity="0.77"/><ellipse cx="-19.1" cy="45.3" rx="2.6" ry="1.7" fill="#425c23" opacity="0.55"/><ellipse cx="-0.7" cy="59.3" rx="2.6" ry="1.8" fill="#8fad57" opacity="0.74"/><ellipse cx="-11.8" cy="58.4" rx="2.5" ry="1.7" fill="#5a7832" opacity="0.86"/><ellipse cx="32.4" cy="91" rx="3.3" ry="2.2" fill="#425c23" opacity="0.57"/><ellipse cx="-24.2" cy="41.4" rx="2.5" ry="1.7" fill="#5a7832" opacity="0.75"/><ellipse cx="-29.3" cy="85.4" rx="2.6" ry="1.7" fill="#80a04c" opacity="0.52"/><ellipse cx="2.7" cy="34.5" rx="3.9" ry="2.6" fill="#68883e" opacity="0.54"/><ellipse cx="18.6" cy="27" rx="4.3" ry="2.9" fill="#bbd18c" opacity="0.57"/><ellipse cx="-18.8" cy="45.1" rx="3.9" ry="2.6" fill="#a3bf6e" opacity="0.58"/><ellipse cx="-24" cy="29.3" rx="2.2" ry="1.5" fill="#8fad57" opacity="0.69"/><ellipse cx="-2.4" cy="95.1" rx="4.2" ry="2.8" fill="#80a04c" opacity="0.68"/><ellipse cx="-18.3" cy="40.3" rx="4.1" ry="2.7" fill="#a3bf6e" opacity="0.60"/><ellipse cx="21.8" cy="53.5" rx="3" ry="2" fill="#c3d79b" opacity="0.84"/><ellipse cx="-7.4" cy="35.6" rx="2" ry="1.4" fill="#425c23" opacity="0.86"/><ellipse cx="-9.8" cy="78.8" rx="4.2" ry="2.8" fill="#d6e4b8" opacity="0.56"/><ellipse cx="-6.7" cy="83.3" rx="2.5" ry="1.7" fill="#bbd18c" opacity="0.67"/><ellipse cx="-30.4" cy="82.8" rx="2.9" ry="1.9" fill="#68883e" opacity="0.62"/><ellipse cx="-16.8" cy="18.2" rx="3.9" ry="2.6" fill="#80a04c" opacity="0.70"/><ellipse cx="-27.9" cy="32.5" rx="2.2" ry="1.5" fill="#a3bf6e" opacity="0.65"/><ellipse cx="-23.5" cy="53.8" rx="4.2" ry="2.8" fill="#5a7832" opacity="0.81"/><ellipse cx="-11.3" cy="15.1" rx="3.9" ry="2.6" fill="#425c23" opacity="0.82"/><ellipse cx="2.1" cy="28" rx="4.1" ry="2.7" fill="#425c23" opacity="0.70"/><ellipse cx="44.4" cy="52.9" rx="3.2" ry="2.1" fill="#4f6c2b" opacity="0.67"/><ellipse cx="-0.1" cy="5.1" rx="2.6" ry="1.8" fill="#80a04c" opacity="0.53"/><ellipse cx="40.2" cy="55.4" rx="2.9" ry="1.9" fill="#68883e" opacity="0.66"/><ellipse cx="0.1" cy="3.8" rx="2.8" ry="1.9" fill="#8fad57" opacity="0.51"/><ellipse cx="2.5" cy="79.4" rx="3.3" ry="2.2" fill="#bbd18c" opacity="0.59"/><ellipse cx="24.8" cy="42.1" rx="3.7" ry="2.4" fill="#68883e" opacity="0.53"/><ellipse cx="-43.4" cy="68.2" rx="2.4" ry="1.6" fill="#5a7832" opacity="0.78"/><ellipse cx="11.5" cy="36.3" rx="3.9" ry="2.6" fill="#425c23" opacity="0.89"/><ellipse cx="4.2" cy="16.5" rx="2" ry="1.4" fill="#68883e" opacity="0.71"/><ellipse cx="15.6" cy="20" rx="4" ry="2.6" fill="#a3bf6e" opacity="0.83"/><ellipse cx="-6.5" cy="4.9" rx="2.9" ry="1.9" fill="#d6e4b8" opacity="0.78"/><ellipse cx="30.4" cy="75.1" rx="3.7" ry="2.4" fill="#bbd18c" opacity="0.67"/><ellipse cx="-27.2" cy="76.3" rx="4.2" ry="2.8" fill="#c3d79b" opacity="0.64"/><ellipse cx="7.5" cy="31.1" rx="2.7" ry="1.8" fill="#5a7832" opacity="0.63"/><ellipse cx="3.8" cy="57.4" rx="3.1" ry="2.1" fill="#68883e" opacity="0.86"/><ellipse cx="25" cy="31.7" rx="2.5" ry="1.7" fill="#4f6c2b" opacity="0.87"/><ellipse cx="2.6" cy="26" rx="3.7" ry="2.5" fill="#a3bf6e" opacity="0.85"/><ellipse cx="14.6" cy="11.4" rx="3.3" ry="2.2" fill="#80a04c" opacity="0.90"/><ellipse cx="-7.8" cy="97.7" rx="2.4" ry="1.6" fill="#4f6c2b" opacity="0.67"/><ellipse cx="-13.7" cy="90.5" rx="1.8" ry="1.2" fill="#5a7832" opacity="0.76"/><ellipse cx="-27" cy="49.1" rx="2.3" ry="1.5" fill="#425c23" opacity="0.83"/><ellipse cx="-0.6" cy="67.2" rx="3.8" ry="2.5" fill="#8fad57" opacity="0.71"/><ellipse cx="-3.1" cy="67.7" rx="3.7" ry="2.5" fill="#5a7832" opacity="0.89"/><ellipse cx="14.8" cy="84.2" rx="3.2" ry="2.2" fill="#8fad57" opacity="0.71"/><ellipse cx="46" cy="71.9" rx="2" ry="1.3" fill="#80a04c" opacity="0.59"/><ellipse cx="-26.2" cy="27.6" rx="2.9" ry="1.9" fill="#d6e4b8" opacity="0.71"/><ellipse cx="-9.3" cy="44.7" rx="2.2" ry="1.5" fill="#c3d79b" opacity="0.76"/><ellipse cx="-34.2" cy="65.4" rx="3.1" ry="2.1" fill="#8fad57" opacity="0.79"/><ellipse cx="15.7" cy="63.1" rx="1.8" ry="1.2" fill="#d6e4b8" opacity="0.79"/><ellipse cx="35.7" cy="49.5" rx="2.1" ry="1.4" fill="#425c23" opacity="0.84"/><ellipse cx="43.9" cy="47.2" rx="3.2" ry="2.1" fill="#a3bf6e" opacity="0.56"/><ellipse cx="-0.2" cy="96.9" rx="4.1" ry="2.7" fill="#8fad57" opacity="0.86"/><ellipse cx="9" cy="52.6" rx="3.1" ry="2" fill="#bbd18c" opacity="0.60"/><ellipse cx="3.9" cy="40.7" rx="4.1" ry="2.7" fill="#68883e" opacity="0.85"/><ellipse cx="-7" cy="67.3" rx="1.8" ry="1.2" fill="#68883e" opacity="0.55"/><ellipse cx="-3.4" cy="22.2" rx="4" ry="2.6" fill="#8fad57" opacity="0.77"/><ellipse cx="-46" cy="67.5" rx="2" ry="1.3" fill="#68883e" opacity="0.56"/><ellipse cx="-19.7" cy="31.7" rx="2.8" ry="1.9" fill="#68883e" opacity="0.83"/><ellipse cx="27.7" cy="52" rx="1.9" ry="1.2" fill="#8fad57" opacity="0.87"/><ellipse cx="-3.2" cy="5.4" rx="4.2" ry="2.8" fill="#8fad57" opacity="0.54"/><ellipse cx="4.3" cy="4" rx="2.7" ry="1.8" fill="#bbd18c" opacity="0.79"/><ellipse cx="5.9" cy="14.4" rx="2.1" ry="1.4" fill="#c3d79b" opacity="0.82"/><ellipse cx="6.7" cy="12.3" rx="3.9" ry="2.6" fill="#80a04c" opacity="0.65"/><ellipse cx="-8.9" cy="29.9" rx="2" ry="1.3" fill="#5a7832" opacity="0.61"/><ellipse cx="36.7" cy="69.8" rx="2.4" ry="1.6" fill="#d6e4b8" opacity="0.69"/><ellipse cx="-6.3" cy="3.4" rx="1.7" ry="1.1" fill="#a3bf6e" opacity="0.68"/><ellipse cx="3.5" cy="50.9" rx="3.9" ry="2.6" fill="#80a04c" opacity="0.85"/><ellipse cx="-10.5" cy="76.5" rx="1.9" ry="1.2" fill="#8fad57" opacity="0.74"/><ellipse cx="22.6" cy="19.1" rx="3.9" ry="2.6" fill="#d6e4b8" opacity="0.62"/><ellipse cx="15.3" cy="31.6" rx="1.8" ry="1.2" fill="#a3bf6e" opacity="0.63"/><ellipse cx="-15.2" cy="40.7" rx="3.6" ry="2.4" fill="#8fad57" opacity="0.87"/><ellipse cx="-7.6" cy="80.1" rx="1.9" ry="1.3" fill="#5a7832" opacity="0.90"/><ellipse cx="-0.6" cy="3.6" rx="2.6" ry="1.7" fill="#bbd18c" opacity="0.64"/><ellipse cx="-3" cy="5" rx="2.3" ry="1.5" fill="#a3bf6e" opacity="0.52"/><ellipse cx="17.2" cy="15.9" rx="3.6" ry="2.4" fill="#c3d79b" opacity="0.83"/><ellipse cx="-25.8" cy="73.9" rx="2" ry="1.3" fill="#8fad57" opacity="0.51"/><ellipse cx="27.8" cy="38.4" rx="2.7" ry="1.8" fill="#8fad57" opacity="0.89"/><ellipse cx="-39.5" cy="62.8" rx="1.9" ry="1.3" fill="#68883e" opacity="0.64"/><ellipse cx="-33" cy="48.9" rx="2.2" ry="1.4" fill="#d6e4b8" opacity="0.63"/><ellipse cx="8.2" cy="12.7" rx="2.5" ry="1.7" fill="#425c23" opacity="0.87"/><ellipse cx="-8.9" cy="5.7" rx="3" ry="2" fill="#a3bf6e" opacity="0.81"/><ellipse cx="42.8" cy="70.7" rx="2.1" ry="1.4" fill="#80a04c" opacity="0.75"/><ellipse cx="-14" cy="85.9" rx="2" ry="1.3" fill="#d6e4b8" opacity="0.89"/><ellipse cx="46.3" cy="67.9" rx="1.8" ry="1.2" fill="#80a04c" opacity="0.81"/><ellipse cx="14.4" cy="58.7" rx="3" ry="2" fill="#80a04c" opacity="0.73"/><ellipse cx="-9.3" cy="55.6" rx="3.3" ry="2.2" fill="#c3d79b" opacity="0.50"/><ellipse cx="42.2" cy="47.7" rx="2.1" ry="1.4" fill="#a3bf6e" opacity="0.82"/><ellipse cx="6.1" cy="30" rx="3.7" ry="2.5" fill="#a3bf6e" opacity="0.56"/><ellipse cx="5.8" cy="20.5" rx="2.1" ry="1.4" fill="#68883e" opacity="0.82"/><ellipse cx="35.7" cy="64.9" rx="4.3" ry="2.9" fill="#80a04c" opacity="0.77"/><ellipse cx="18.6" cy="18.7" rx="4" ry="2.7" fill="#68883e" opacity="0.70"/><ellipse cx="40.5" cy="68.5" rx="4.3" ry="2.9" fill="#4f6c2b" opacity="0.88"/><ellipse cx="36.6" cy="54.8" rx="2.3" ry="1.6" fill="#c3d79b" opacity="0.60"/><ellipse cx="6" cy="71.7" rx="2.9" ry="1.9" fill="#d6e4b8" opacity="0.67"/><ellipse cx="3.5" cy="9.4" rx="2" ry="1.3" fill="#68883e" opacity="0.85"/><ellipse cx="4" cy="54.5" rx="2.1" ry="1.4" fill="#a3bf6e" opacity="0.71"/><ellipse cx="-34.5" cy="91" rx="3.9" ry="2.6" fill="#80a04c" opacity="0.65"/><ellipse cx="-45.4" cy="62.7" rx="2.9" ry="1.9" fill="#80a04c" opacity="0.52"/><ellipse cx="-22.5" cy="36.6" rx="2.7" ry="1.8" fill="#bbd18c" opacity="0.77"/><ellipse cx="-21.2" cy="64.2" rx="3.2" ry="2.1" fill="#80a04c" opacity="0.58"/><ellipse cx="25.1" cy="26.5" rx="2.2" ry="1.5" fill="#d6e4b8" opacity="0.74"/><ellipse cx="37.9" cy="87" rx="2.2" ry="1.5" fill="#8fad57" opacity="0.75"/><ellipse cx="-40" cy="54.9" rx="3.2" ry="2.1" fill="#80a04c" opacity="0.82"/><ellipse cx="-11.8" cy="77" rx="3" ry="2" fill="#c3d79b" opacity="0.83"/><ellipse cx="15.7" cy="50.7" rx="1.8" ry="1.2" fill="#a3bf6e" opacity="0.56"/><ellipse cx="-4.6" cy="80.9" rx="3.5" ry="2.3" fill="#5a7832" opacity="0.61"/><ellipse cx="10" cy="22.7" rx="2.8" ry="1.9" fill="#c3d79b" opacity="0.83"/><ellipse cx="15" cy="11.3" rx="3.9" ry="2.6" fill="#68883e" opacity="0.87"/><ellipse cx="-17.1" cy="29.3" rx="1.8" ry="1.2" fill="#c3d79b" opacity="0.88"/><ellipse cx="-4.2" cy="88.5" rx="3.3" ry="2.2" fill="#d6e4b8" opacity="0.52"/><ellipse cx="9.9" cy="36.2" rx="1.7" ry="1.1" fill="#bbd18c" opacity="0.74"/><ellipse cx="33.6" cy="62.8" rx="3.3" ry="2.2" fill="#8fad57" opacity="0.55"/><ellipse cx="45.6" cy="50.1" rx="3.2" ry="2.2" fill="#4f6c2b" opacity="0.89"/><ellipse cx="-1.6" cy="13" rx="2.5" ry="1.7" fill="#80a04c" opacity="0.59"/><ellipse cx="4.5" cy="92.4" rx="4" ry="2.6" fill="#5a7832" opacity="0.55"/><ellipse cx="-24.4" cy="31.5" rx="3.9" ry="2.6" fill="#80a04c" opacity="0.83"/><ellipse cx="36.7" cy="63.3" rx="4.3" ry="2.8" fill="#425c23" opacity="0.78"/><ellipse cx="16.5" cy="24.9" rx="3.6" ry="2.4" fill="#c3d79b" opacity="0.67"/><ellipse cx="30" cy="32.9" rx="3.5" ry="2.3" fill="#425c23" opacity="0.61"/><ellipse cx="16" cy="49.1" rx="3.4" ry="2.3" fill="#5a7832" opacity="0.89"/><ellipse cx="23.5" cy="22.4" rx="2.8" ry="1.9" fill="#8fad57" opacity="0.84"/><ellipse cx="38.2" cy="60.7" rx="2.4" ry="1.6" fill="#bbd18c" opacity="0.86"/><ellipse cx="-0.5" cy="47.1" rx="2.4" ry="1.6" fill="#68883e" opacity="0.58"/><ellipse cx="-28.5" cy="74.2" rx="3.3" ry="2.2" fill="#4f6c2b" opacity="0.50"/><ellipse cx="8.3" cy="86.8" rx="3.8" ry="2.5" fill="#425c23" opacity="0.68"/><ellipse cx="-14.7" cy="98.9" rx="2.9" ry="2" fill="#c3d79b" opacity="0.74"/><ellipse cx="20.9" cy="80.6" rx="2.5" ry="1.7" fill="#8fad57" opacity="0.83"/><ellipse cx="18.6" cy="44" rx="2.8" ry="1.8" fill="#c3d79b" opacity="0.65"/><ellipse cx="16.2" cy="38.2" rx="3.4" ry="2.3" fill="#c3d79b" opacity="0.64"/><ellipse cx="-38.9" cy="87" rx="4.2" ry="2.8" fill="#c3d79b" opacity="0.76"/><ellipse cx="-13.6" cy="45.8" rx="3" ry="2" fill="#8fad57" opacity="0.67"/><ellipse cx="44.3" cy="55.1" rx="3.8" ry="2.5" fill="#8fad57" opacity="0.89"/><ellipse cx="-17.5" cy="62.5" rx="1.9" ry="1.3" fill="#c3d79b" opacity="0.67"/><ellipse cx="-8.1" cy="16.4" rx="3.2" ry="2.2" fill="#68883e" opacity="0.66"/><ellipse cx="-8.8" cy="11.3" rx="3.2" ry="2.1" fill="#80a04c" opacity="0.77"/><ellipse cx="22.2" cy="50.8" rx="2.2" ry="1.5" fill="#80a04c" opacity="0.69"/><ellipse cx="-11.2" cy="89.5" rx="3.5" ry="2.4" fill="#68883e" opacity="0.54"/><ellipse cx="15.3" cy="60.3" rx="3.2" ry="2.1" fill="#8fad57" opacity="0.68"/><ellipse cx="-0.8" cy="14.5" rx="1.8" ry="1.2" fill="#68883e" opacity="0.55"/><ellipse cx="-7.1" cy="50.6" rx="3.4" ry="2.2" fill="#a3bf6e" opacity="0.84"/><ellipse cx="16" cy="91.9" rx="2.9" ry="1.9" fill="#c3d79b" opacity="0.79"/><ellipse cx="26.9" cy="42" rx="3.2" ry="2.1" fill="#c3d79b" opacity="0.88"/><ellipse cx="9.9" cy="14.6" rx="4.1" ry="2.7" fill="#80a04c" opacity="0.66"/><ellipse cx="40.4" cy="63.1" rx="3.5" ry="2.4" fill="#425c23" opacity="0.50"/><ellipse cx="0.5" cy="11.6" rx="3.5" ry="2.3" fill="#68883e" opacity="0.77"/><ellipse cx="14.8" cy="12.8" rx="4" ry="2.7" fill="#a3bf6e" opacity="0.86"/><ellipse cx="15.5" cy="83.2" rx="3.7" ry="2.5" fill="#4f6c2b" opacity="0.61"/><ellipse cx="28.8" cy="78.6" rx="2.6" ry="1.8" fill="#a3bf6e" opacity="0.70"/><ellipse cx="0.6" cy="35.6" rx="2.5" ry="1.7" fill="#4f6c2b" opacity="0.88"/><ellipse cx="-7.6" cy="77.8" rx="3" ry="2" fill="#c3d79b" opacity="0.68"/><ellipse cx="1.5" cy="92.1" rx="3.6" ry="2.4" fill="#80a04c" opacity="0.56"/><ellipse cx="-1.3" cy="6" rx="3.1" ry="2.1" fill="#5a7832" opacity="0.83"/><ellipse cx="34.8" cy="40.7" rx="4.3" ry="2.9" fill="#8fad57" opacity="0.86"/><ellipse cx="-12.5" cy="38" rx="4" ry="2.7" fill="#68883e" opacity="0.74"/><ellipse cx="-47.7" cy="56.7" rx="3.2" ry="2.1" fill="#4f6c2b" opacity="0.60"/><ellipse cx="-26.4" cy="31.8" rx="2.4" ry="1.6" fill="#4f6c2b" opacity="0.63"/><ellipse cx="7.3" cy="76.9" rx="2" ry="1.4" fill="#80a04c" opacity="0.51"/><ellipse cx="17.8" cy="42.6" rx="3.2" ry="2.1" fill="#bbd18c" opacity="0.86"/><ellipse cx="0.3" cy="12.2" rx="2.3" ry="1.6" fill="#c3d79b" opacity="0.71"/><ellipse cx="1.4" cy="65.4" rx="1.9" ry="1.2" fill="#c3d79b" opacity="0.67"/><ellipse cx="-32.4" cy="56.4" rx="4.1" ry="2.7" fill="#80a04c" opacity="0.52"/><ellipse cx="24" cy="77.5" rx="4" ry="2.7" fill="#4f6c2b" opacity="0.71"/><ellipse cx="23.7" cy="44.3" rx="3.3" ry="2.2" fill="#4f6c2b" opacity="0.64"/><ellipse cx="11" cy="12.5" rx="2.5" ry="1.7" fill="#bbd18c" opacity="0.80"/><circle cx="-13.3" cy="88.2" r="1.7" fill="#fff" opacity="0.6"/><circle cx="-12.5" cy="63.2" r="1.2" fill="#fff" opacity="0.6"/><circle cx="16.4" cy="26.8" r="1.2" fill="#fff" opacity="0.6"/><circle cx="-17.7" cy="46.7" r="1.6" fill="#fff" opacity="0.6"/><circle cx="29.1" cy="58.1" r="0.9" fill="#fff" opacity="0.6"/><circle cx="24.1" cy="46.4" r="1.9" fill="#fff" opacity="0.6"/><circle cx="-2.5" cy="24.9" r="2.2" fill="#fff" opacity="0.6"/><circle cx="-8.5" cy="95.4" r="1.8" fill="#fff" opacity="0.6"/><circle cx="-30.9" cy="45.5" r="2.1" fill="#fff" opacity="0.6"/><circle cx="25.8" cy="29.7" r="1.4" fill="#fff" opacity="0.6"/><circle cx="-1.6" cy="85.7" r="2.1" fill="#fff" opacity="0.6"/><circle cx="-24.4" cy="77.5" r="0.8" fill="#fff" opacity="0.6"/><circle cx="6" cy="33.1" r="1" fill="#fff" opacity="0.6"/><circle cx="-5.6" cy="25.7" r="0.9" fill="#fff" opacity="0.6"/><circle cx="9" cy="43.7" r="1.1" fill="#fff" opacity="0.6"/><circle cx="-17" cy="80.9" r="1.3" fill="#fff" opacity="0.6"/><circle cx="26.6" cy="51.1" r="0.9" fill="#fff" opacity="0.6"/><circle cx="-28.2" cy="82.5" r="2.2" fill="#fff" opacity="0.6"/><circle cx="19.7" cy="62.8" r="1.5" fill="#fff" opacity="0.6"/><circle cx="14.4" cy="71.6" r="1" fill="#fff" opacity="0.6"/><circle cx="24.2" cy="34.9" r="1.1" fill="#fff" opacity="0.6"/><circle cx="-28.7" cy="38.7" r="1.8" fill="#fff" opacity="0.6"/><circle cx="-33" cy="80.7" r="2" fill="#fff" opacity="0.6"/><circle cx="-0.2" cy="28.8" r="1.5" fill="#fff" opacity="0.6"/><circle cx="-11.4" cy="39.5" r="1.5" fill="#fff" opacity="0.6"/><circle cx="-17.6" cy="80.3" r="1.1" fill="#fff" opacity="0.6"/><circle cx="-11.1" cy="95.2" r="0.9" fill="#fff" opacity="0.6"/><circle cx="24.4" cy="91.7" r="1.1" fill="#fff" opacity="0.6"/><circle cx="29.5" cy="60.8" r="1.2" fill="#fff" opacity="0.6"/><circle cx="-35.5" cy="46.3" r="1" fill="#fff" opacity="0.6"/><circle cx="-0.3" cy="66.8" r="2" fill="#fff" opacity="0.6"/><circle cx="-18.1" cy="54.3" r="1.4" fill="#fff" opacity="0.6"/><circle cx="-1.1" cy="30.8" r="1.8" fill="#fff" opacity="0.6"/><circle cx="4.9" cy="34.2" r="2.2" fill="#fff" opacity="0.6"/></g>
</defs>
<rect width="1591" height="1125" fill="#fff"/>
<g id="left">
<g id="scenery"><line x1="532.8" y1="512" x2="532.8" y2="633" stroke="#e9e9e9" stroke-width="0.8"/>
<line x1="547.7" y1="512" x2="547.7" y2="633" stroke="#e9e9e9" stroke-width="0.8"/>
<line x1="562.7" y1="512" x2="562.7" y2="633" stroke="#e9e9e9" stroke-width="0.8"/>
<line x1="577.6" y1="512" x2="577.6" y2="633" stroke="#e9e9e9" stroke-width="0.8"/>
<line x1="592.5" y1="512" x2="592.5" y2="633" stroke="#e9e9e9" stroke-width="0.8"/>
<line x1="607.4" y1="512" x2="607.4" y2="633" stroke="#e9e9e9" stroke-width="0.8"/>
<line x1="622.4" y1="512" x2="622.4" y2="633" stroke="#e9e9e9" stroke-width="0.8"/>
<line x1="637.3" y1="512" x2="637.3" y2="633" stroke="#e9e9e9" stroke-width="0.8"/>
<line x1="652.2" y1="512" x2="652.2" y2="633" stroke="#e9e9e9" stroke-width="0.8"/>
<line x1="667.2" y1="512" x2="667.2" y2="633" stroke="#e9e9e9" stroke-width="0.8"/>
<line x1="682.1" y1="512" x2="682.1" y2="633" stroke="#e9e9e9" stroke-width="0.8"/>
<line x1="697" y1="512" x2="697" y2="633" stroke="#e9e9e9" stroke-width="0.8"/>
<line x1="712" y1="512" x2="712" y2="633" stroke="#e9e9e9" stroke-width="0.8"/>
<line x1="532.8" y1="512" x2="712" y2="512" stroke="#e9e9e9" stroke-width="0.8"/>
<line x1="532.8" y1="529" x2="712" y2="529" stroke="#e9e9e9" stroke-width="0.8"/>
<line x1="532.8" y1="580.4" x2="712" y2="580.4" stroke="#e9e9e9" stroke-width="0.8"/>
<line x1="532.8" y1="602" x2="712" y2="602" stroke="#e9e9e9" stroke-width="0.8"/>
<path d="M552 633C556 560 690 520 700 633" fill="none" stroke="#e4e4e4" stroke-width="0.8"/>
<line x1="171" y1="634.6" x2="171" y2="577.2" stroke="#8c8a7c" stroke-width="2"/><g filter="url(#rough)"><use href="#trA" transform="translate(173 549.6) scale(0.580 0.614)"/></g>
<g><rect x="204.7" y="599.4" width="81.8" height="34.6" fill="url(#hg)"/><circle cx="255.5" cy="624.9" r="1.2" fill="#3f5622" opacity="0.64"/><circle cx="248" cy="628.2" r="1.2" fill="#8da35e" opacity="0.64"/><circle cx="277.9" cy="603.8" r="0.9" fill="#8da35e" opacity="0.52"/><circle cx="213.5" cy="608.4" r="1.2" fill="#a5b87c" opacity="0.48"/><circle cx="279.2" cy="625.7" r="0.6" fill="#5a7232" opacity="0.41"/><circle cx="255.1" cy="604.3" r="0.5" fill="#5a7232" opacity="0.44"/><circle cx="222.7" cy="633" r="1.3" fill="#4a6128" opacity="0.49"/><circle cx="221.3" cy="629.4" r="1.1" fill="#8da35e" opacity="0.77"/><circle cx="261" cy="632.5" r="1.3" fill="#4a6128" opacity="0.36"/><circle cx="238.7" cy="631.4" r="0.7" fill="#4a6128" opacity="0.49"/><circle cx="253.9" cy="600.1" r="1.1" fill="#4a6128" opacity="0.38"/><circle cx="233.9" cy="610.3" r="1.1" fill="#8da35e" opacity="0.57"/><circle cx="262.1" cy="601.9" r="1.4" fill="#5a7232" opacity="0.78"/><circle cx="234.1" cy="613.6" r="1" fill="#a5b87c" opacity="0.51"/><circle cx="251.9" cy="600.3" r="0.5" fill="#8da35e" opacity="0.63"/><circle cx="282.2" cy="604" r="0.7" fill="#a5b87c" opacity="0.50"/><circle cx="233.9" cy="617.6" r="1.2" fill="#5a7232" opacity="0.62"/><circle cx="268.2" cy="612.3" r="0.8" fill="#a5b87c" opacity="0.78"/><circle cx="212.6" cy="611.4" r="1" fill="#8da35e" opacity="0.50"/><circle cx="279.8" cy="618.3" r="0.8" fill="#4a6128" opacity="0.49"/><circle cx="269.7" cy="621.1" r="1.1" fill="#4a6128" opacity="0.80"/><circle cx="218.3" cy="601.6" r="1.4" fill="#6f8844" opacity="0.77"/><circle cx="207.9" cy="624.9" r="0.8" fill="#4a6128" opacity="0.56"/><circle cx="239.3" cy="601.9" r="1.3" fill="#5a7232" opacity="0.71"/><circle cx="232.2" cy="607" r="1.4" fill="#6f8844" opacity="0.78"/><circle cx="256.1" cy="626.5" r="0.6" fill="#a5b87c" opacity="0.52"/><circle cx="210" cy="614.1" r="0.6" fill="#6f8844" opacity="0.73"/><circle cx="284" cy="615.2" r="0.9" fill="#3f5622" opacity="0.49"/><circle cx="227.4" cy="615.8" r="1.3" fill="#5a7232" opacity="0.52"/><circle cx="285" cy="632.2" r="1.1" fill="#a5b87c" opacity="0.74"/><circle cx="219.8" cy="616.5" r="1" fill="#6f8844" opacity="0.74"/><circle cx="234.4" cy="626.4" r="1.2" fill="#3f5622" opacity="0.61"/><circle cx="208.1" cy="610.3" r="1" fill="#3f5622" opacity="0.48"/><circle cx="244.4" cy="625.9" r="1.1" fill="#4a6128" opacity="0.78"/><circle cx="232.7" cy="606" r="1.3" fill="#a5b87c" opacity="0.60"/><circle cx="225.5" cy="622.6" r="0.9" fill="#6f8844" opacity="0.64"/><circle cx="269.6" cy="611.7" r="1.1" fill="#3f5622" opacity="0.77"/><circle cx="238.2" cy="631" r="0.7" fill="#3f5622" opacity="0.55"/><circle cx="234.7" cy="611.2" r="0.6" fill="#8da35e" opacity="0.44"/><circle cx="234.5" cy="628.7" r="0.8" fill="#5a7232" opacity="0.67"/><circle cx="264.2" cy="605.8" r="1.2" fill="#6f8844" opacity="0.58"/><circle cx="280.8" cy="610.2" r="1" fill="#3f5622" opacity="0.47"/><circle cx="285.6" cy="606.6" r="1" fill="#6f8844" opacity="0.64"/><circle cx="223" cy="623" r="1.1" fill="#5a7232" opacity="0.79"/><circle cx="284.3" cy="605.6" r="1.3" fill="#5a7232" opacity="0.49"/><circle cx="219.9" cy="606.5" r="0.5" fill="#a5b87c" opacity="0.51"/><circle cx="258.7" cy="602.4" r="0.7" fill="#3f5622" opacity="0.76"/><circle cx="205.4" cy="613.6" r="0.8" fill="#a5b87c" opacity="0.74"/><circle cx="260.8" cy="618.4" r="1.4" fill="#6f8844" opacity="0.63"/><circle cx="212.9" cy="618.3" r="0.8" fill="#6f8844" opacity="0.48"/><circle cx="233.6" cy="604.3" r="0.9" fill="#6f8844" opacity="0.64"/><circle cx="235.1" cy="604.8" r="1" fill="#6f8844" opacity="0.56"/><circle cx="221.4" cy="604.5" r="0.6" fill="#3f5622" opacity="0.35"/><circle cx="214" cy="619" r="1.1" fill="#8da35e" opacity="0.50"/><circle cx="275.9" cy="619" r="0.9" fill="#8da35e" opacity="0.57"/><circle cx="244" cy="623.8" r="0.8" fill="#8da35e" opacity="0.62"/><circle cx="226.2" cy="633" r="0.9" fill="#a5b87c" opacity="0.36"/><circle cx="281.5" cy="610.3" r="1.3" fill="#8da35e" opacity="0.56"/><circle cx="215.1" cy="620.9" r="0.9" fill="#4a6128" opacity="0.37"/><circle cx="216.3" cy="613.2" r="0.9" fill="#6f8844" opacity="0.47"/><circle cx="280.7" cy="626.3" r="0.7" fill="#4a6128" opacity="0.73"/><circle cx="263.4" cy="609.6" r="0.9" fill="#a5b87c" opacity="0.58"/><circle cx="274.9" cy="629.6" r="1.3" fill="#5a7232" opacity="0.69"/><circle cx="229.5" cy="617.9" r="0.8" fill="#4a6128" opacity="0.68"/><circle cx="207.4" cy="611.8" r="1.1" fill="#6f8844" opacity="0.41"/><circle cx="205.5" cy="618.6" r="1.1" fill="#5a7232" opacity="0.75"/><circle cx="249.3" cy="600.5" r="1.2" fill="#a5b87c" opacity="0.62"/><circle cx="260.8" cy="632" r="1.1" fill="#a5b87c" opacity="0.56"/><circle cx="260.3" cy="624.2" r="1.3" fill="#a5b87c" opacity="0.72"/><circle cx="210.6" cy="628.1" r="1.1" fill="#a5b87c" opacity="0.61"/><circle cx="257.6" cy="615.9" r="0.8" fill="#8da35e" opacity="0.57"/><circle cx="249.6" cy="616.7" r="0.8" fill="#8da35e" opacity="0.54"/><circle cx="248.9" cy="601.6" r="1.2" fill="#4a6128" opacity="0.72"/><circle cx="269.1" cy="622.3" r="0.5" fill="#3f5622" opacity="0.54"/><circle cx="210.8" cy="613.6" r="0.9" fill="#5a7232" opacity="0.73"/><circle cx="223" cy="621.7" r="1.4" fill="#3f5622" opacity="0.75"/><circle cx="285.4" cy="623.7" r="0.9" fill="#8da35e" opacity="0.62"/><circle cx="238.7" cy="605.4" r="1.1" fill="#5a7232" opacity="0.60"/><circle cx="258.5" cy="625" r="0.8" fill="#6f8844" opacity="0.61"/><circle cx="265.1" cy="629.5" r="0.6" fill="#a5b87c" opacity="0.39"/><circle cx="260.5" cy="616.4" r="0.8" fill="#3f5622" opacity="0.52"/><circle cx="209.8" cy="623.4" r="0.6" fill="#3f5622" opacity="0.66"/><circle cx="228.7" cy="631.7" r="1" fill="#8da35e" opacity="0.47"/><circle cx="249.8" cy="608.5" r="1.2" fill="#6f8844" opacity="0.79"/><circle cx="270.4" cy="629" r="0.9" fill="#a5b87c" opacity="0.43"/><circle cx="262.8" cy="622" r="0.6" fill="#3f5622" opacity="0.37"/><circle cx="274.9" cy="617" r="0.9" fill="#a5b87c" opacity="0.74"/><circle cx="244" cy="610.9" r="1.2" fill="#5a7232" opacity="0.59"/><circle cx="236.3" cy="628.5" r="1.4" fill="#a5b87c" opacity="0.66"/><circle cx="223.3" cy="603.9" r="1.4" fill="#3f5622" opacity="0.57"/><circle cx="222.3" cy="623.6" r="0.8" fill="#8da35e" opacity="0.48"/><circle cx="280.3" cy="623.7" r="1.2" fill="#a5b87c" opacity="0.41"/><circle cx="272.3" cy="621.8" r="1.2" fill="#a5b87c" opacity="0.78"/><circle cx="234.5" cy="601.2" r="1.4" fill="#8da35e" opacity="0.68"/><circle cx="237.2" cy="603.3" r="0.5" fill="#8da35e" opacity="0.44"/><circle cx="244.8" cy="631.5" r="1.1" fill="#4a6128" opacity="0.35"/><circle cx="243.2" cy="629.9" r="1.1" fill="#a5b87c" opacity="0.50"/><circle cx="242.5" cy="606.4" r="1.1" fill="#5a7232" opacity="0.52"/><circle cx="236.4" cy="629.6" r="0.6" fill="#4a6128" opacity="0.40"/><circle cx="271.3" cy="625.2" r="1.1" fill="#5a7232" opacity="0.57"/><circle cx="207.9" cy="631.1" r="0.8" fill="#5a7232" opacity="0.66"/><circle cx="259.6" cy="615.9" r="1.4" fill="#5a7232" opacity="0.70"/><circle cx="231.4" cy="615.3" r="0.7" fill="#8da35e" opacity="0.37"/><circle cx="262.9" cy="619.3" r="1.1" fill="#6f8844" opacity="0.53"/><circle cx="283.8" cy="612.2" r="0.8" fill="#a5b87c" opacity="0.51"/><circle cx="210.7" cy="633.4" r="0.9" fill="#8da35e" opacity="0.43"/><circle cx="222.1" cy="601.5" r="1" fill="#3f5622" opacity="0.79"/><circle cx="205.8" cy="602" r="1.2" fill="#a5b87c" opacity="0.43"/><circle cx="208" cy="628.1" r="1.3" fill="#6f8844" opacity="0.51"/><circle cx="212.9" cy="602.4" r="1.3" fill="#a5b87c" opacity="0.39"/><circle cx="243.3" cy="622.9" r="1.1" fill="#a5b87c" opacity="0.53"/><circle cx="210.1" cy="608.6" r="0.9" fill="#4a6128" opacity="0.64"/><circle cx="275.8" cy="631.9" r="0.7" fill="#3f5622" opacity="0.58"/><circle cx="237.7" cy="617.9" r="0.6" fill="#4a6128" opacity="0.71"/><circle cx="212.3" cy="633.1" r="0.6" fill="#5a7232" opacity="0.74"/><circle cx="222.6" cy="600.6" r="1" fill="#a5b87c" opacity="0.54"/><circle cx="267.2" cy="617.5" r="0.6" fill="#5a7232" opacity="0.76"/><circle cx="230.1" cy="615.1" r="1.2" fill="#8da35e" opacity="0.60"/><circle cx="216.5" cy="616.2" r="1.2" fill="#4a6128" opacity="0.72"/><circle cx="230.5" cy="604.4" r="0.6" fill="#8da35e" opacity="0.66"/><circle cx="269.7" cy="632.5" r="1.1" fill="#4a6128" opacity="0.38"/><circle cx="261.8" cy="601.6" r="0.7" fill="#4a6128" opacity="0.75"/><circle cx="276.7" cy="602.4" r="1.2" fill="#a5b87c" opacity="0.69"/><circle cx="250.1" cy="630.1" r="1.1" fill="#8da35e" opacity="0.61"/><circle cx="240.9" cy="627.4" r="1.1" fill="#5a7232" opacity="0.68"/><circle cx="261.8" cy="609" r="1.2" fill="#a5b87c" opacity="0.60"/><circle cx="231.2" cy="610.3" r="0.6" fill="#a5b87c" opacity="0.65"/><circle cx="228.3" cy="602.1" r="1.2" fill="#6f8844" opacity="0.36"/><circle cx="215.1" cy="632.6" r="1.2" fill="#a5b87c" opacity="0.74"/><circle cx="281.8" cy="620.6" r="0.7" fill="#a5b87c" opacity="0.41"/><circle cx="221.5" cy="612" r="0.6" fill="#6f8844" opacity="0.72"/><circle cx="263.9" cy="603.2" r="1" fill="#8da35e" opacity="0.63"/><circle cx="216.9" cy="625.7" r="0.9" fill="#a5b87c" opacity="0.40"/><circle cx="230.9" cy="630.7" r="0.9" fill="#a5b87c" opacity="0.43"/><circle cx="209.2" cy="622.4" r="0.6" fill="#a5b87c" opacity="0.79"/><circle cx="253.3" cy="603.5" r="1.2" fill="#a5b87c" opacity="0.66"/><circle cx="222" cy="600" r="1.3" fill="#8da35e" opacity="0.57"/><circle cx="276.4" cy="613.2" r="0.7" fill="#4a6128" opacity="0.72"/><circle cx="229.7" cy="617.3" r="1.2" fill="#8da35e" opacity="0.51"/><circle cx="270.5" cy="627.4" r="1.1" fill="#5a7232" opacity="0.63"/><circle cx="237.6" cy="604.8" r="1.2" fill="#a5b87c" opacity="0.52"/><circle cx="212.9" cy="613.3" r="1.2" fill="#4a6128" opacity="0.76"/><circle cx="221.4" cy="626.8" r="0.8" fill="#3f5622" opacity="0.56"/><circle cx="248.3" cy="603.1" r="0.7" fill="#3f5622" opacity="0.35"/><circle cx="246.5" cy="619.7" r="0.7" fill="#a5b87c" opacity="0.36"/><circle cx="259.9" cy="620.5" r="1" fill="#6f8844" opacity="0.56"/><circle cx="262" cy="613.4" r="1.4" fill="#6f8844" opacity="0.77"/><circle cx="261.1" cy="622.5" r="1" fill="#a5b87c" opacity="0.51"/><circle cx="253.1" cy="622.8" r="1" fill="#4a6128" opacity="0.48"/><circle cx="207.5" cy="626" r="1" fill="#3f5622" opacity="0.54"/><circle cx="283.4" cy="600.5" r="1.3" fill="#8da35e" opacity="0.38"/><circle cx="266" cy="622.5" r="1.4" fill="#4a6128" opacity="0.66"/><circle cx="272.9" cy="624.8" r="1" fill="#8da35e" opacity="0.57"/><circle cx="212.7" cy="604.1" r="0.8" fill="#6f8844" opacity="0.54"/><circle cx="283.4" cy="622.6" r="0.8" fill="#3f5622" opacity="0.59"/><circle cx="222" cy="622.8" r="0.8" fill="#4a6128" opacity="0.40"/><circle cx="260.8" cy="618.6" r="1.1" fill="#4a6128" opacity="0.46"/><circle cx="213.4" cy="609.9" r="1.2" fill="#6f8844" opacity="0.39"/><circle cx="281.9" cy="602.6" r="0.9" fill="#8da35e" opacity="0.45"/><circle cx="210.4" cy="619" r="1.2" fill="#6f8844" opacity="0.68"/><circle cx="238.9" cy="614.3" r="1" fill="#8da35e" opacity="0.49"/><circle cx="227.9" cy="620.3" r="1.4" fill="#8da35e" opacity="0.54"/><circle cx="217.3" cy="609.9" r="1" fill="#6f8844" opacity="0.43"/><circle cx="220.6" cy="620" r="1.1" fill="#3f5622" opacity="0.50"/><circle cx="211.4" cy="632" r="0.6" fill="#6f8844" opacity="0.78"/><circle cx="231" cy="628.6" r="1.1" fill="#8da35e" opacity="0.75"/><circle cx="254.9" cy="626.8" r="1.3" fill="#5a7232" opacity="0.44"/><circle cx="217.9" cy="603.1" r="0.6" fill="#6f8844" opacity="0.69"/><circle cx="251.6" cy="614.8" r="0.8" fill="#8da35e" opacity="0.67"/><circle cx="279.8" cy="632.2" r="1.1" fill="#5a7232" opacity="0.51"/><circle cx="270.9" cy="606.6" r="0.8" fill="#8da35e" opacity="0.56"/><circle cx="260.1" cy="625" r="0.6" fill="#a5b87c" opacity="0.77"/><circle cx="242.9" cy="600.2" r="1.4" fill="#4a6128" opacity="0.41"/><circle cx="205.6" cy="612.8" r="0.8" fill="#3f5622" opacity="0.38"/><circle cx="266.5" cy="624.2" r="0.8" fill="#5a7232" opacity="0.71"/><circle cx="285.8" cy="625.2" r="0.7" fill="#4a6128" opacity="0.52"/><circle cx="228.7" cy="616.8" r="1.1" fill="#5a7232" opacity="0.61"/><circle cx="229.2" cy="611.3" r="1.3" fill="#6f8844" opacity="0.54"/><circle cx="223.1" cy="633.1" r="0.7" fill="#3f5622" opacity="0.38"/><circle cx="227.1" cy="603.2" r="0.9" fill="#8da35e" opacity="0.59"/><circle cx="236.4" cy="631.4" r="0.6" fill="#4a6128" opacity="0.41"/><circle cx="212" cy="627.5" r="0.6" fill="#5a7232" opacity="0.36"/><circle cx="250.6" cy="632.1" r="1.3" fill="#5a7232" opacity="0.37"/><circle cx="222.9" cy="632.7" r="0.9" fill="#a5b87c" opacity="0.58"/><circle cx="282.4" cy="620.1" r="1.3" fill="#a5b87c" opacity="0.58"/><circle cx="209.6" cy="613.2" r="1.2" fill="#a5b87c" opacity="0.74"/><circle cx="281" cy="622.2" r="1.1" fill="#6f8844" opacity="0.37"/><circle cx="207.2" cy="625.9" r="0.9" fill="#a5b87c" opacity="0.76"/><circle cx="235.8" cy="633.6" r="1.2" fill="#4a6128" opacity="0.42"/><circle cx="268.2" cy="614.2" r="1.4" fill="#4a6128" opacity="0.45"/><circle cx="239.3" cy="609.1" r="0.9" fill="#4a6128" opacity="0.35"/><circle cx="256.3" cy="625.8" r="1.2" fill="#5a7232" opacity="0.38"/><circle cx="236" cy="630.2" r="1.3" fill="#8da35e" opacity="0.64"/><circle cx="265.5" cy="616.6" r="0.8" fill="#a5b87c" opacity="0.41"/><circle cx="224.4" cy="630.9" r="1.3" fill="#5a7232" opacity="0.36"/><circle cx="270.8" cy="602.9" r="0.6" fill="#3f5622" opacity="0.52"/><circle cx="267.8" cy="605.1" r="1" fill="#3f5622" opacity="0.60"/><circle cx="228.2" cy="603.6" r="0.9" fill="#4a6128" opacity="0.52"/><circle cx="243.8" cy="619.5" r="1.4" fill="#8da35e" opacity="0.78"/><circle cx="216.6" cy="600.6" r="0.5" fill="#a5b87c" opacity="0.41"/><circle cx="244.1" cy="623.7" r="0.5" fill="#8da35e" opacity="0.54"/><circle cx="245.9" cy="620.5" r="1.2" fill="#5a7232" opacity="0.71"/><circle cx="224.5" cy="623.3" r="1.3" fill="#5a7232" opacity="0.60"/><circle cx="240.7" cy="603.4" r="0.6" fill="#4a6128" opacity="0.61"/><circle cx="227.5" cy="619.6" r="1" fill="#a5b87c" opacity="0.79"/><circle cx="229.6" cy="605.6" r="1.3" fill="#5a7232" opacity="0.64"/><circle cx="209.7" cy="607.1" r="1.1" fill="#5a7232" opacity="0.77"/><circle cx="229.4" cy="618.5" r="1.2" fill="#8da35e" opacity="0.56"/><circle cx="210.4" cy="600.1" r="1" fill="#6f8844" opacity="0.55"/><circle cx="210.1" cy="603" r="0.8" fill="#8da35e" opacity="0.52"/><circle cx="232.8" cy="627.4" r="0.9" fill="#8da35e" opacity="0.68"/><circle cx="226.4" cy="627.9" r="1.1" fill="#a5b87c" opacity="0.42"/><circle cx="268.9" cy="623.6" r="1" fill="#a5b87c" opacity="0.76"/><circle cx="272.7" cy="620" r="1" fill="#3f5622" opacity="0.51"/><circle cx="215.3" cy="615.3" r="1.1" fill="#6f8844" opacity="0.57"/><circle cx="275.5" cy="601.3" r="1" fill="#5a7232" opacity="0.54"/><circle cx="248.1" cy="614.9" r="1" fill="#6f8844" opacity="0.78"/><circle cx="214.2" cy="602.2" r="1.1" fill="#5a7232" opacity="0.37"/><circle cx="263" cy="610.2" r="1" fill="#6f8844" opacity="0.67"/><circle cx="210.9" cy="621.6" r="1.3" fill="#5a7232" opacity="0.53"/><circle cx="229.9" cy="615.2" r="0.8" fill="#4a6128" opacity="0.58"/><circle cx="278" cy="615.6" r="0.6" fill="#8da35e" opacity="0.77"/><circle cx="230.7" cy="620.6" r="0.9" fill="#8da35e" opacity="0.51"/><circle cx="211.7" cy="614.3" r="1.1" fill="#3f5622" opacity="0.53"/><circle cx="221.2" cy="630.7" r="0.7" fill="#6f8844" opacity="0.55"/><circle cx="251.5" cy="630.6" r="0.6" fill="#4a6128" opacity="0.60"/><circle cx="245.8" cy="632" r="0.7" fill="#8da35e" opacity="0.65"/><circle cx="239.1" cy="626.4" r="1.3" fill="#4a6128" opacity="0.63"/><circle cx="221.1" cy="614.3" r="1.3" fill="#6f8844" opacity="0.47"/><circle cx="256" cy="621.5" r="1.4" fill="#5a7232" opacity="0.66"/><circle cx="214.2" cy="603.2" r="1.3" fill="#4a6128" opacity="0.73"/><circle cx="252.2" cy="601.7" r="1.4" fill="#a5b87c" opacity="0.43"/><circle cx="232.3" cy="625.7" r="0.6" fill="#4a6128" opacity="0.75"/><circle cx="230.4" cy="609.8" r="0.8" fill="#a5b87c" opacity="0.38"/><circle cx="229.6" cy="606.1" r="1.3" fill="#3f5622" opacity="0.75"/><circle cx="246.1" cy="603.5" r="0.9" fill="#8da35e" opacity="0.54"/><circle cx="281" cy="618.2" r="1.1" fill="#3f5622" opacity="0.58"/><circle cx="280.5" cy="631.8" r="0.9" fill="#5a7232" opacity="0.43"/><circle cx="225.1" cy="620.7" r="0.6" fill="#3f5622" opacity="0.79"/><circle cx="249" cy="614.7" r="0.7" fill="#6f8844" opacity="0.55"/><circle cx="271.5" cy="601.3" r="1.3" fill="#8da35e" opacity="0.52"/><circle cx="256.4" cy="630.9" r="0.8" fill="#3f5622" opacity="0.59"/><circle cx="216.5" cy="601.8" r="1.3" fill="#a5b87c" opacity="0.49"/><circle cx="249.9" cy="626.8" r="1.1" fill="#4a6128" opacity="0.48"/><circle cx="265.3" cy="608.6" r="0.9" fill="#3f5622" opacity="0.62"/><circle cx="216.1" cy="606.8" r="1.1" fill="#3f5622" opacity="0.70"/><circle cx="241.2" cy="607.9" r="0.7" fill="#3f5622" opacity="0.39"/><circle cx="241.3" cy="620.8" r="1.3" fill="#8da35e" opacity="0.71"/><circle cx="244.1" cy="610" r="1.3" fill="#3f5622" opacity="0.51"/><circle cx="209.5" cy="624.2" r="0.6" fill="#5a7232" opacity="0.50"/><circle cx="253" cy="621.5" r="0.9" fill="#6f8844" opacity="0.76"/><circle cx="228" cy="611.2" r="1.3" fill="#8da35e" opacity="0.59"/><circle cx="229" cy="612.4" r="1.2" fill="#4a6128" opacity="0.64"/><circle cx="266.3" cy="624.5" r="0.5" fill="#8da35e" opacity="0.49"/><circle cx="274.1" cy="622.2" r="0.9" fill="#6f8844" opacity="0.65"/><circle cx="232.7" cy="624.6" r="1" fill="#3f5622" opacity="0.66"/><circle cx="268.9" cy="600.5" r="1" fill="#3f5622" opacity="0.35"/><circle cx="269" cy="625.9" r="1.3" fill="#5a7232" opacity="0.45"/><circle cx="205.5" cy="632.6" r="1.2" fill="#8da35e" opacity="0.79"/><circle cx="274" cy="608" r="1.2" fill="#3f5622" opacity="0.40"/><circle cx="239" cy="629" r="1.1" fill="#5a7232" opacity="0.44"/><circle cx="224.3" cy="602.2" r="1.3" fill="#4a6128" opacity="0.55"/><circle cx="230" cy="624.7" r="0.8" fill="#6f8844" opacity="0.60"/><circle cx="270.2" cy="626.4" r="1.2" fill="#4a6128" opacity="0.59"/><circle cx="205.5" cy="614.3" r="0.9" fill="#8da35e" opacity="0.69"/><circle cx="213.9" cy="615.4" r="0.9" fill="#a5b87c" opacity="0.56"/><circle cx="247.4" cy="600.8" r="1.2" fill="#6f8844" opacity="0.63"/><circle cx="272.6" cy="620.6" r="1.1" fill="#6f8844" opacity="0.44"/><circle cx="257.8" cy="614.9" r="1" fill="#5a7232" opacity="0.66"/><circle cx="221.5" cy="617.9" r="1.3" fill="#8da35e" opacity="0.45"/><circle cx="205.6" cy="614.4" r="0.8" fill="#3f5622" opacity="0.74"/><circle cx="236.9" cy="625.9" r="0.6" fill="#a5b87c" opacity="0.66"/><circle cx="222.8" cy="613.5" r="0.9" fill="#a5b87c" opacity="0.78"/><circle cx="227.4" cy="617.6" r="0.7" fill="#3f5622" opacity="0.74"/><circle cx="260.3" cy="625.6" r="1.3" fill="#a5b87c" opacity="0.71"/><circle cx="238.8" cy="622.2" r="1.1" fill="#3f5622" opacity="0.68"/><circle cx="264.3" cy="606.8" r="1" fill="#3f5622" opacity="0.66"/><circle cx="267.3" cy="606.5" r="1" fill="#8da35e" opacity="0.51"/><circle cx="212.9" cy="620.3" r="0.8" fill="#8da35e" opacity="0.63"/><circle cx="220" cy="618.3" r="1.1" fill="#5a7232" opacity="0.68"/><circle cx="261.8" cy="615.7" r="1.2" fill="#4a6128" opacity="0.68"/><circle cx="276.7" cy="616.4" r="0.8" fill="#5a7232" opacity="0.68"/><circle cx="235.1" cy="629.8" r="0.7" fill="#6f8844" opacity="0.55"/><circle cx="279.3" cy="620.4" r="1" fill="#8da35e" opacity="0.53"/><circle cx="250.3" cy="632.9" r="0.5" fill="#a5b87c" opacity="0.48"/><circle cx="271.1" cy="602.4" r="1" fill="#8da35e" opacity="0.39"/><circle cx="258.1" cy="610.5" r="0.6" fill="#4a6128" opacity="0.53"/><circle cx="231.1" cy="628.8" r="1.2" fill="#4a6128" opacity="0.63"/><circle cx="268.1" cy="631.1" r="1.3" fill="#3f5622" opacity="0.74"/><circle cx="260.2" cy="602.9" r="0.9" fill="#a5b87c" opacity="0.45"/><circle cx="229.8" cy="614.3" r="1.1" fill="#6f8844" opacity="0.38"/><circle cx="259.7" cy="608.2" r="0.8" fill="#5a7232" opacity="0.62"/><circle cx="211.2" cy="612.7" r="0.9" fill="#8da35e" opacity="0.51"/><circle cx="281.5" cy="603" r="0.8" fill="#8da35e" opacity="0.51"/><circle cx="213.7" cy="610.9" r="1.2" fill="#a5b87c" opacity="0.50"/><circle cx="260.6" cy="615.2" r="1.3" fill="#5a7232" opacity="0.62"/><circle cx="277" cy="610.4" r="0.9" fill="#6f8844" opacity="0.59"/><circle cx="246.7" cy="603.1" r="1" fill="#a5b87c" opacity="0.54"/><circle cx="221.1" cy="624.5" r="1.3" fill="#5a7232" opacity="0.41"/><circle cx="240.7" cy="629.5" r="0.8" fill="#4a6128" opacity="0.54"/><circle cx="281" cy="603.6" r="0.5" fill="#8da35e" opacity="0.68"/><circle cx="208.6" cy="603.7" r="1.2" fill="#5a7232" opacity="0.38"/><circle cx="211.9" cy="621.1" r="0.8" fill="#3f5622" opacity="0.45"/><circle cx="240.2" cy="610" r="1.1" fill="#6f8844" opacity="0.66"/><circle cx="246.4" cy="628.7" r="1.3" fill="#6f8844" opacity="0.56"/><circle cx="208.4" cy="612.3" r="1.4" fill="#6f8844" opacity="0.39"/><circle cx="240.6" cy="609.2" r="1.3" fill="#4a6128" opacity="0.77"/><circle cx="281.1" cy="613.1" r="1.3" fill="#4a6128" opacity="0.41"/><circle cx="265.5" cy="624.4" r="0.9" fill="#4a6128" opacity="0.43"/><circle cx="284.6" cy="600.3" r="1.1" fill="#4a6128" opacity="0.46"/><circle cx="255.2" cy="614.7" r="1.1" fill="#a5b87c" opacity="0.40"/><circle cx="235.8" cy="606.5" r="0.7" fill="#a5b87c" opacity="0.46"/><circle cx="245.5" cy="619.5" r="1" fill="#5a7232" opacity="0.70"/><circle cx="230" cy="611.4" r="1.1" fill="#8da35e" opacity="0.73"/><circle cx="206.3" cy="606.6" r="0.5" fill="#a5b87c" opacity="0.59"/><circle cx="209" cy="607.5" r="1.4" fill="#4a6128" opacity="0.45"/><circle cx="242.1" cy="601.1" r="0.6" fill="#8da35e" opacity="0.40"/><circle cx="261.2" cy="604" r="1.3" fill="#3f5622" opacity="0.40"/><circle cx="285.5" cy="624.9" r="1.3" fill="#4a6128" opacity="0.70"/><circle cx="225.9" cy="605.7" r="0.7" fill="#5a7232" opacity="0.53"/><circle cx="224.7" cy="632.4" r="1.3" fill="#4a6128" opacity="0.56"/><circle cx="224" cy="601.9" r="1.2" fill="#6f8844" opacity="0.45"/><circle cx="258.9" cy="603.3" r="0.9" fill="#3f5622" opacity="0.47"/><circle cx="242.2" cy="604" r="0.6" fill="#8da35e" opacity="0.49"/><circle cx="224.7" cy="620.6" r="0.5" fill="#3f5622" opacity="0.68"/><circle cx="253" cy="610.8" r="0.9" fill="#4a6128" opacity="0.47"/><circle cx="222.7" cy="628.2" r="1" fill="#a5b87c" opacity="0.42"/><circle cx="206" cy="619.6" r="0.7" fill="#5a7232" opacity="0.60"/><circle cx="212.5" cy="608" r="0.8" fill="#3f5622" opacity="0.61"/><circle cx="228" cy="624.5" r="0.7" fill="#8da35e" opacity="0.40"/></g>
<line x1="285.7" y1="634.6" x2="285.7" y2="577.1" stroke="#8c8a7c" stroke-width="2"/><g filter="url(#rough)"><use href="#trB" transform="translate(284.7 551) scale(0.560 0.580)"/></g>
<g><rect x="150" y="632.1" width="54.7" height="2.7" fill="#56673a"/><line x1="163" y1="633.8" x2="163.1" y2="632.3" stroke="#7d8f58" stroke-width="0.7"/><line x1="175.9" y1="633.8" x2="176" y2="632.6" stroke="#45552a" stroke-width="0.7"/><line x1="164.2" y1="633.8" x2="163.9" y2="633.2" stroke="#45552a" stroke-width="0.7"/><line x1="179.6" y1="633.8" x2="179.6" y2="632.4" stroke="#6b7d48" stroke-width="0.7"/><line x1="162.7" y1="633.8" x2="162.3" y2="633.1" stroke="#45552a" stroke-width="0.7"/><line x1="190.5" y1="633.8" x2="190.7" y2="631.9" stroke="#7d8f58" stroke-width="0.7"/><line x1="152.3" y1="633.8" x2="152.6" y2="633" stroke="#45552a" stroke-width="0.7"/><line x1="175.9" y1="633.8" x2="176.1" y2="633" stroke="#7d8f58" stroke-width="0.7"/><line x1="193.1" y1="633.8" x2="193" y2="632.8" stroke="#7d8f58" stroke-width="0.7"/><line x1="174.3" y1="633.8" x2="174.8" y2="633" stroke="#6b7d48" stroke-width="0.7"/><line x1="152" y1="633.8" x2="152" y2="632.2" stroke="#7d8f58" stroke-width="0.7"/><line x1="173.9" y1="633.8" x2="174" y2="632.2" stroke="#7d8f58" stroke-width="0.7"/><line x1="195.6" y1="633.8" x2="195.7" y2="632.5" stroke="#45552a" stroke-width="0.7"/><line x1="182" y1="633.8" x2="182.4" y2="632.8" stroke="#6b7d48" stroke-width="0.7"/><line x1="196.8" y1="633.8" x2="197.3" y2="632.7" stroke="#6b7d48" stroke-width="0.7"/><line x1="188.2" y1="633.8" x2="188" y2="632.6" stroke="#7d8f58" stroke-width="0.7"/><line x1="181.1" y1="633.8" x2="181.3" y2="632.1" stroke="#7d8f58" stroke-width="0.7"/><line x1="164.6" y1="633.8" x2="164.2" y2="632.5" stroke="#7d8f58" stroke-width="0.7"/><line x1="204.1" y1="633.8" x2="203.7" y2="632.9" stroke="#45552a" stroke-width="0.7"/><line x1="199.1" y1="633.8" x2="198.6" y2="632.4" stroke="#45552a" stroke-width="0.7"/><line x1="197.7" y1="633.8" x2="197.3" y2="632.7" stroke="#6b7d48" stroke-width="0.7"/><line x1="170.7" y1="633.8" x2="170.8" y2="632.6" stroke="#45552a" stroke-width="0.7"/><line x1="177.6" y1="633.8" x2="178.1" y2="632.2" stroke="#6b7d48" stroke-width="0.7"/><line x1="155.9" y1="633.8" x2="155.9" y2="633.1" stroke="#45552a" stroke-width="0.7"/><line x1="166" y1="633.8" x2="165.7" y2="632.8" stroke="#45552a" stroke-width="0.7"/><line x1="167.2" y1="633.8" x2="167.6" y2="633.1" stroke="#45552a" stroke-width="0.7"/><line x1="170.6" y1="633.8" x2="171" y2="632.3" stroke="#7d8f58" stroke-width="0.7"/><line x1="187.2" y1="633.8" x2="186.9" y2="633.2" stroke="#7d8f58" stroke-width="0.7"/><line x1="164.8" y1="633.8" x2="165" y2="632.8" stroke="#45552a" stroke-width="0.7"/><line x1="173.9" y1="633.8" x2="173.7" y2="632.2" stroke="#45552a" stroke-width="0.7"/><line x1="150.6" y1="633.8" x2="150.5" y2="632.6" stroke="#6b7d48" stroke-width="0.7"/><line x1="170.6" y1="633.8" x2="170.7" y2="632" stroke="#7d8f58" stroke-width="0.7"/><line x1="184.3" y1="633.8" x2="184.3" y2="632.8" stroke="#45552a" stroke-width="0.7"/><line x1="183.3" y1="633.8" x2="183.1" y2="632.5" stroke="#7d8f58" stroke-width="0.7"/><line x1="153.3" y1="633.8" x2="153.5" y2="633.1" stroke="#45552a" stroke-width="0.7"/><line x1="184.3" y1="633.8" x2="184.1" y2="632.6" stroke="#6b7d48" stroke-width="0.7"/><line x1="169.9" y1="633.8" x2="169.7" y2="632.3" stroke="#7d8f58" stroke-width="0.7"/><line x1="164.4" y1="633.8" x2="164.7" y2="631.9" stroke="#6b7d48" stroke-width="0.7"/><line x1="203.1" y1="633.8" x2="203.3" y2="632" stroke="#7d8f58" stroke-width="0.7"/><line x1="162.2" y1="633.8" x2="162.5" y2="632.1" stroke="#6b7d48" stroke-width="0.7"/><line x1="187.1" y1="633.8" x2="187.2" y2="631.9" stroke="#7d8f58" stroke-width="0.7"/><line x1="167.6" y1="633.8" x2="167.4" y2="633" stroke="#45552a" stroke-width="0.7"/><line x1="194.3" y1="633.8" x2="194.8" y2="631.9" stroke="#7d8f58" stroke-width="0.7"/></g>
<line x1="596.5" y1="633.4" x2="596.5" y2="571.8" stroke="#8c8a7c" stroke-width="2"/><g filter="url(#rough)"><use href="#trB" transform="translate(594.1 541.7) scale(-0.650 0.669)"/></g>
<line x1="702.4" y1="633.4" x2="702.4" y2="563.6" stroke="#8c8a7c" stroke-width="2"/><g filter="url(#rough)"><use href="#trA" transform="translate(699.4 529.8) scale(-0.720 0.752)"/></g>
<g><rect x="568.8" y="630.5" width="143.2" height="3.1" fill="#56673a"/><line x1="602.6" y1="632.6" x2="602.2" y2="630.8" stroke="#6b7d48" stroke-width="0.7"/><line x1="581.7" y1="632.6" x2="581.2" y2="631" stroke="#45552a" stroke-width="0.7"/><line x1="683.4" y1="632.6" x2="683.7" y2="630.5" stroke="#7d8f58" stroke-width="0.7"/><line x1="620.4" y1="632.6" x2="620.7" y2="631.4" stroke="#45552a" stroke-width="0.7"/><line x1="599.5" y1="632.6" x2="599.9" y2="631.4" stroke="#45552a" stroke-width="0.7"/><line x1="683.4" y1="632.6" x2="683.1" y2="630.6" stroke="#7d8f58" stroke-width="0.7"/><line x1="693" y1="632.6" x2="693.5" y2="631.4" stroke="#45552a" stroke-width="0.7"/><line x1="581.2" y1="632.6" x2="581.3" y2="631.1" stroke="#7d8f58" stroke-width="0.7"/><line x1="604.4" y1="632.6" x2="604.2" y2="630.6" stroke="#7d8f58" stroke-width="0.7"/><line x1="689.2" y1="632.6" x2="688.7" y2="630.6" stroke="#7d8f58" stroke-width="0.7"/><line x1="695.1" y1="632.6" x2="695.5" y2="630.9" stroke="#45552a" stroke-width="0.7"/><line x1="629.5" y1="632.6" x2="629.3" y2="630.8" stroke="#6b7d48" stroke-width="0.7"/><line x1="612.5" y1="632.6" x2="612.8" y2="630.3" stroke="#6b7d48" stroke-width="0.7"/><line x1="635.1" y1="632.6" x2="635.6" y2="630.9" stroke="#7d8f58" stroke-width="0.7"/><line x1="636.3" y1="632.6" x2="636.1" y2="631.6" stroke="#6b7d48" stroke-width="0.7"/><line x1="578.3" y1="632.6" x2="578.7" y2="631.1" stroke="#45552a" stroke-width="0.7"/><line x1="608.4" y1="632.6" x2="608.2" y2="631.2" stroke="#45552a" stroke-width="0.7"/><line x1="659.7" y1="632.6" x2="659.3" y2="630.7" stroke="#6b7d48" stroke-width="0.7"/><line x1="670.2" y1="632.6" x2="670" y2="631" stroke="#6b7d48" stroke-width="0.7"/><line x1="586.3" y1="632.6" x2="586.7" y2="630.6" stroke="#6b7d48" stroke-width="0.7"/><line x1="574.9" y1="632.6" x2="575.1" y2="631.5" stroke="#45552a" stroke-width="0.7"/><line x1="674" y1="632.6" x2="674.5" y2="630.2" stroke="#45552a" stroke-width="0.7"/><line x1="614.9" y1="632.6" x2="614.5" y2="631.1" stroke="#7d8f58" stroke-width="0.7"/><line x1="666.2" y1="632.6" x2="665.8" y2="631.1" stroke="#45552a" stroke-width="0.7"/><line x1="610.6" y1="632.6" x2="610.4" y2="631" stroke="#6b7d48" stroke-width="0.7"/><line x1="616.2" y1="632.6" x2="615.8" y2="630.3" stroke="#6b7d48" stroke-width="0.7"/><line x1="621.1" y1="632.6" x2="621.4" y2="631.6" stroke="#7d8f58" stroke-width="0.7"/><line x1="582.7" y1="632.6" x2="583.2" y2="630.8" stroke="#6b7d48" stroke-width="0.7"/><line x1="585.1" y1="632.6" x2="584.6" y2="631.2" stroke="#7d8f58" stroke-width="0.7"/><line x1="665.7" y1="632.6" x2="665.4" y2="630.3" stroke="#45552a" stroke-width="0.7"/><line x1="652.2" y1="632.6" x2="652.1" y2="630.2" stroke="#7d8f58" stroke-width="0.7"/><line x1="610.7" y1="632.6" x2="611.2" y2="631.1" stroke="#6b7d48" stroke-width="0.7"/><line x1="637.2" y1="632.6" x2="637" y2="630.8" stroke="#6b7d48" stroke-width="0.7"/><line x1="600.2" y1="632.6" x2="600.1" y2="631.1" stroke="#45552a" stroke-width="0.7"/><line x1="687.8" y1="632.6" x2="687.8" y2="630.2" stroke="#45552a" stroke-width="0.7"/><line x1="605.1" y1="632.6" x2="605.1" y2="631.3" stroke="#45552a" stroke-width="0.7"/><line x1="693.3" y1="632.6" x2="693" y2="630.3" stroke="#45552a" stroke-width="0.7"/><line x1="649.8" y1="632.6" x2="650.2" y2="630.8" stroke="#7d8f58" stroke-width="0.7"/><line x1="662.4" y1="632.6" x2="662.7" y2="631.2" stroke="#45552a" stroke-width="0.7"/><line x1="624.3" y1="632.6" x2="624.2" y2="631.5" stroke="#7d8f58" stroke-width="0.7"/><line x1="697.6" y1="632.6" x2="698.1" y2="630.7" stroke="#7d8f58" stroke-width="0.7"/><line x1="636.3" y1="632.6" x2="636.7" y2="630.6" stroke="#45552a" stroke-width="0.7"/><line x1="644.4" y1="632.6" x2="644.6" y2="631.2" stroke="#45552a" stroke-width="0.7"/><line x1="617.3" y1="632.6" x2="617.2" y2="630.9" stroke="#45552a" stroke-width="0.7"/><line x1="706.5" y1="632.6" x2="706.7" y2="630.3" stroke="#7d8f58" stroke-width="0.7"/><line x1="587.1" y1="632.6" x2="587.5" y2="631.1" stroke="#6b7d48" stroke-width="0.7"/><line x1="693.4" y1="632.6" x2="693.6" y2="630.9" stroke="#45552a" stroke-width="0.7"/><line x1="675.7" y1="632.6" x2="676.1" y2="630.5" stroke="#6b7d48" stroke-width="0.7"/><line x1="599" y1="632.6" x2="598.7" y2="631.1" stroke="#45552a" stroke-width="0.7"/><line x1="585.4" y1="632.6" x2="585.7" y2="631.3" stroke="#6b7d48" stroke-width="0.7"/><line x1="647.6" y1="632.6" x2="648" y2="630.5" stroke="#7d8f58" stroke-width="0.7"/><line x1="655.9" y1="632.6" x2="656.2" y2="631" stroke="#45552a" stroke-width="0.7"/><line x1="699.9" y1="632.6" x2="699.8" y2="630.3" stroke="#7d8f58" stroke-width="0.7"/><line x1="653.9" y1="632.6" x2="653.9" y2="631.4" stroke="#7d8f58" stroke-width="0.7"/><line x1="679.7" y1="632.6" x2="679.2" y2="630.3" stroke="#7d8f58" stroke-width="0.7"/><line x1="698.4" y1="632.6" x2="698.2" y2="630.7" stroke="#6b7d48" stroke-width="0.7"/><line x1="581" y1="632.6" x2="581" y2="630.7" stroke="#45552a" stroke-width="0.7"/><line x1="624.5" y1="632.6" x2="624.7" y2="631.4" stroke="#45552a" stroke-width="0.7"/><line x1="582.4" y1="632.6" x2="582" y2="631.1" stroke="#45552a" stroke-width="0.7"/><line x1="642.2" y1="632.6" x2="642.1" y2="631.4" stroke="#45552a" stroke-width="0.7"/><line x1="578.4" y1="632.6" x2="578.8" y2="630.5" stroke="#45552a" stroke-width="0.7"/><line x1="701.9" y1="632.6" x2="701.9" y2="630.4" stroke="#7d8f58" stroke-width="0.7"/><line x1="592.8" y1="632.6" x2="593.1" y2="630.4" stroke="#6b7d48" stroke-width="0.7"/><line x1="615.6" y1="632.6" x2="615.9" y2="630.6" stroke="#6b7d48" stroke-width="0.7"/><line x1="670.5" y1="632.6" x2="670.1" y2="630.6" stroke="#7d8f58" stroke-width="0.7"/><line x1="584.7" y1="632.6" x2="585" y2="631" stroke="#7d8f58" stroke-width="0.7"/><line x1="579.6" y1="632.6" x2="579.4" y2="631.4" stroke="#45552a" stroke-width="0.7"/><line x1="601.6" y1="632.6" x2="601.3" y2="631.4" stroke="#6b7d48" stroke-width="0.7"/><line x1="665.7" y1="632.6" x2="665.8" y2="630.6" stroke="#45552a" stroke-width="0.7"/><line x1="680.8" y1="632.6" x2="680.9" y2="631.5" stroke="#7d8f58" stroke-width="0.7"/><line x1="681.5" y1="632.6" x2="681.6" y2="630.8" stroke="#6b7d48" stroke-width="0.7"/><line x1="604.8" y1="632.6" x2="604.9" y2="631.6" stroke="#45552a" stroke-width="0.7"/><line x1="587.9" y1="632.6" x2="587.5" y2="630.4" stroke="#7d8f58" stroke-width="0.7"/><line x1="594.2" y1="632.6" x2="594.6" y2="630.7" stroke="#7d8f58" stroke-width="0.7"/><line x1="682.5" y1="632.6" x2="682.7" y2="631.4" stroke="#6b7d48" stroke-width="0.7"/><line x1="626.4" y1="632.6" x2="626.9" y2="630.5" stroke="#7d8f58" stroke-width="0.7"/><line x1="622.1" y1="632.6" x2="621.7" y2="631.4" stroke="#7d8f58" stroke-width="0.7"/><line x1="571.7" y1="632.6" x2="572.1" y2="631.4" stroke="#45552a" stroke-width="0.7"/><line x1="684.4" y1="632.6" x2="684.9" y2="630.4" stroke="#7d8f58" stroke-width="0.7"/><line x1="710.1" y1="632.6" x2="710.3" y2="631.6" stroke="#6b7d48" stroke-width="0.7"/><line x1="677.7" y1="632.6" x2="678.1" y2="630.4" stroke="#7d8f58" stroke-width="0.7"/><line x1="637.4" y1="632.6" x2="637.8" y2="630.5" stroke="#7d8f58" stroke-width="0.7"/><line x1="612.2" y1="632.6" x2="612.6" y2="630.8" stroke="#7d8f58" stroke-width="0.7"/><line x1="602.8" y1="632.6" x2="602.8" y2="630.5" stroke="#45552a" stroke-width="0.7"/><line x1="601.8" y1="632.6" x2="601.6" y2="631.1" stroke="#45552a" stroke-width="0.7"/><line x1="697.5" y1="632.6" x2="697.4" y2="630.8" stroke="#45552a" stroke-width="0.7"/><line x1="609.4" y1="632.6" x2="609.3" y2="630.2" stroke="#6b7d48" stroke-width="0.7"/><line x1="697.3" y1="632.6" x2="697.3" y2="631" stroke="#45552a" stroke-width="0.7"/><line x1="626.7" y1="632.6" x2="626.6" y2="630.2" stroke="#7d8f58" stroke-width="0.7"/><line x1="578.5" y1="632.6" x2="579" y2="631.6" stroke="#45552a" stroke-width="0.7"/><line x1="655.3" y1="632.6" x2="655.1" y2="630.3" stroke="#45552a" stroke-width="0.7"/><line x1="638" y1="632.6" x2="638.2" y2="630.9" stroke="#7d8f58" stroke-width="0.7"/><line x1="680.2" y1="632.6" x2="679.8" y2="630.5" stroke="#45552a" stroke-width="0.7"/><line x1="587.8" y1="632.6" x2="587.3" y2="630.8" stroke="#7d8f58" stroke-width="0.7"/><line x1="666.3" y1="632.6" x2="666.3" y2="631.5" stroke="#45552a" stroke-width="0.7"/><line x1="571.5" y1="632.6" x2="571.2" y2="631.3" stroke="#6b7d48" stroke-width="0.7"/><line x1="573.3" y1="632.6" x2="573.2" y2="630.4" stroke="#6b7d48" stroke-width="0.7"/><line x1="694.6" y1="632.6" x2="694.8" y2="631.1" stroke="#7d8f58" stroke-width="0.7"/><line x1="669.3" y1="632.6" x2="669.6" y2="631.1" stroke="#6b7d48" stroke-width="0.7"/><line x1="694.6" y1="632.6" x2="694.8" y2="631" stroke="#7d8f58" stroke-width="0.7"/><line x1="569.2" y1="632.6" x2="569.6" y2="630.4" stroke="#45552a" stroke-width="0.7"/><line x1="590.9" y1="632.6" x2="591.2" y2="630.9" stroke="#6b7d48" stroke-width="0.7"/><line x1="622.6" y1="632.6" x2="622.3" y2="631.4" stroke="#7d8f58" stroke-width="0.7"/><line x1="624.8" y1="632.6" x2="625" y2="631.4" stroke="#45552a" stroke-width="0.7"/><line x1="593.2" y1="632.6" x2="592.7" y2="631.6" stroke="#45552a" stroke-width="0.7"/><line x1="694.3" y1="632.6" x2="693.9" y2="631.5" stroke="#6b7d48" stroke-width="0.7"/><line x1="581.1" y1="632.6" x2="580.7" y2="631.1" stroke="#6b7d48" stroke-width="0.7"/><line x1="602" y1="632.6" x2="602.1" y2="630.9" stroke="#7d8f58" stroke-width="0.7"/><line x1="645" y1="632.6" x2="645.4" y2="630.8" stroke="#7d8f58" stroke-width="0.7"/><line x1="670" y1="632.6" x2="670.4" y2="631.5" stroke="#45552a" stroke-width="0.7"/><line x1="616.9" y1="632.6" x2="616.6" y2="630.9" stroke="#6b7d48" stroke-width="0.7"/><line x1="584.1" y1="632.6" x2="584.3" y2="631.5" stroke="#45552a" stroke-width="0.7"/><line x1="702" y1="632.6" x2="702.4" y2="630.8" stroke="#7d8f58" stroke-width="0.7"/><line x1="574.1" y1="632.6" x2="574.3" y2="630.6" stroke="#7d8f58" stroke-width="0.7"/></g>
<g transform="translate(129 634.6) scale(0.214 0.255)" fill="#111"><ellipse cx="0" cy="-92" rx="7" ry="7.8"/><path d="M-4 -85C-12 -84 -17 -80 -18 -71L-19.5 -50C-19.5 -45 -16 -43 -14.5 -46L-13 -38L-10.5 -3L-10 0L-1.5 0L0 -32L1.5 0L10 0L10.5 -3L13 -38L14.5 -46C16 -43 19.5 -45 19.5 -50L18 -71C17 -80 12 -84 4 -85Z"/></g>
<g transform="translate(135.6 634.6) scale(0.227 0.270)" fill="#111"><ellipse cx="0" cy="-92" rx="7" ry="7.8"/><path d="M-4 -85C-12 -84 -17 -80 -18 -71L-19.5 -50C-19.5 -45 -16 -43 -14.5 -46L-13 -38L-10.5 -3L-10 0L-1.5 0L0 -32L1.5 0L10 0L10.5 -3L13 -38L14.5 -46C16 -43 19.5 -45 19.5 -50L18 -71C17 -80 12 -84 4 -85Z"/></g>
<g transform="translate(306.2 633) scale(0.126 0.150)" fill="#111"><ellipse cx="0" cy="-92" rx="7" ry="7.8"/><path d="M-4 -85C-12 -84 -17 -80 -18 -71L-19.5 -50C-19.5 -45 -16 -43 -14.5 -46L-13 -38L-10.5 -3L-10 0L-1.5 0L0 -32L1.5 0L10 0L10.5 -3L13 -38L14.5 -46C16 -43 19.5 -45 19.5 -50L18 -71C17 -80 12 -84 4 -85Z"/></g>
<g transform="translate(315 633) scale(0.210 0.250)" fill="#111"><ellipse cx="0" cy="-92" rx="7" ry="7.8"/><path d="M-4 -85C-12 -84 -17 -80 -18 -71L-19.5 -50C-19.5 -45 -16 -43 -14.5 -46L-13 -38L-10.5 -3L-10 0L-1.5 0L0 -32L1.5 0L10 0L10.5 -3L13 -38L14.5 -46C16 -43 19.5 -45 19.5 -50L18 -71C17 -80 12 -84 4 -85Z"/></g>
<g transform="translate(553.6 632.4) scale(0.227 0.270)" fill="#111"><ellipse cx="0" cy="-92" rx="7" ry="7.8"/><path d="M-4 -85C-12 -84 -17 -80 -18 -71L-19.5 -50C-19.5 -45 -16 -43 -14.5 -46L-13 -38L-10.5 -3L-10 0L-1.5 0L0 -32L1.5 0L10 0L10.5 -3L13 -38L14.5 -46C16 -43 19.5 -45 19.5 -50L18 -71C17 -80 12 -84 4 -85Z"/></g>
<g transform="translate(734.6 633.2) scale(0.214 0.255)" fill="#111"><ellipse cx="0" cy="-92" rx="7" ry="7.8"/><path d="M-4 -85C-12 -84 -17 -80 -18 -71L-19.5 -50C-19.5 -45 -16 -43 -14.5 -46L-13 -38L-10.5 -3L-10 0L-1.5 0L0 -32L1.5 0L10 0L10.5 -3L13 -38L14.5 -46C16 -43 19.5 -45 19.5 -50L18 -71C17 -80 12 -84 4 -85Z"/></g>
<g transform="translate(741 633.2) scale(0.227 0.270)" fill="#111"><ellipse cx="0" cy="-92" rx="7" ry="7.8"/><path d="M-4 -85C-12 -84 -17 -80 -18 -71L-19.5 -50C-19.5 -45 -16 -43 -14.5 -46L-13 -38L-10.5 -3L-10 0L-1.5 0L0 -32L1.5 0L10 0L10.5 -3L13 -38L14.5 -46C16 -43 19.5 -45 19.5 -50L18 -71C17 -80 12 -84 4 -85Z"/></g></g>
<rect x="350.4" y="291.2" width="58" height="44.4" fill="#fde5e6"/>
<rect x="453.4" y="291.2" width="73.6" height="44.4" fill="#fde5e6"/>
<rect x="441.6" y="291.2" width="9.8" height="44.4" fill="#fdeff0"/>
<rect x="350" y="340.6" width="154.4" height="43.2" fill="#fde5e6"/>
<rect x="372.6" y="389" width="154.4" height="43" fill="#fde5e6"/>
<rect x="350" y="437.2" width="154.4" height="43.3" fill="#fde5e6"/>
<rect x="372.6" y="485.7" width="154.4" height="43.1" fill="#fde5e6"/>
<rect x="349.6" y="534" width="177.8" height="47.6" fill="#fde8e9"/>
<rect x="349.6" y="586" width="177.8" height="46.8" fill="#fde8e9"/>
<rect x="210.4" y="642.4" width="140.6" height="37.2" fill="#dce9f1"/>
<rect x="351" y="639.2" width="175.3" height="40.4" fill="#dce9f1"/>
<rect x="210.4" y="684.8" width="315.9" height="40.2" fill="#dce9f1"/>
<rect x="351" y="639.2" width="175.3" height="6.2" fill="#eef4f8"/>
<rect x="210.4" y="684.8" width="315.9" height="3.8" fill="#eef4f8"/>
<g id="thin"><line x1="346.6" y1="291" x2="346.6" y2="633" stroke="#8a8a8a" stroke-width="1"/>
<line x1="349.6" y1="294" x2="349.6" y2="633" stroke="#c4c4c4" stroke-width="0.8"/>
<line x1="530.4" y1="291" x2="530.4" y2="633" stroke="#8a8a8a" stroke-width="1"/>
<line x1="527.6" y1="294" x2="527.6" y2="633" stroke="#c4c4c4" stroke-width="0.8"/>
<line x1="326" y1="281" x2="326" y2="635" stroke="#c4c4c4" stroke-width="0.7"/>
<line x1="328.6" y1="281" x2="328.6" y2="635" stroke="#dcdcdc" stroke-width="0.7"/>
<line x1="534.4" y1="268" x2="534.4" y2="633" stroke="#dcdcdc" stroke-width="0.7"/>
<polyline points="345.4,284 345.4,268.4 411,268.4 411,284" fill="none" stroke="#c4c4c4" stroke-width="0.8"/>
<polyline points="346.5,273.2 406.2,273.2 406.2,284" fill="none" stroke="#8a8a8a" stroke-width="0.9"/>
<polyline points="441,284 441,268.4 534,268.4 534,284" fill="none" stroke="#c4c4c4" stroke-width="0.8"/>
<polyline points="445.6,284 445.6,273.2 530,273.2" fill="none" stroke="#c4c4c4" stroke-width="0.8"/>
<line x1="410.6" y1="282.4" x2="441" y2="282.4" stroke="#c4c4c4" stroke-width="0.8"/>
<line x1="410.6" y1="290.6" x2="441" y2="290.6" stroke="#c4c4c4" stroke-width="0.8"/>
<path d="M412 282.4L437.4 268.4V271.4L418 282.4Z" fill="#dcdcdc"/>
<line x1="439.6" y1="291" x2="439.6" y2="336" stroke="#8a8a8a" stroke-width="0.8"/>
<polyline points="411,305 439,305" fill="none" stroke="#c4c4c4" stroke-width="0.8"/>
<line x1="392.5" y1="291" x2="392.5" y2="336" stroke="#c4c4c4" stroke-width="0.7"/>
<line x1="398" y1="291" x2="398" y2="336" stroke="#c4c4c4" stroke-width="0.7"/>
<line x1="402" y1="291" x2="402" y2="336" stroke="#c4c4c4" stroke-width="0.7"/>
<line x1="470" y1="291" x2="470" y2="336" stroke="#c4c4c4" stroke-width="0.7"/>
<line x1="499" y1="291" x2="499" y2="336" stroke="#c4c4c4" stroke-width="0.7"/>
<line x1="395.5" y1="340" x2="395.5" y2="529" stroke="#c4c4c4" stroke-width="0.7"/>
<line x1="410.5" y1="340" x2="410.5" y2="529" stroke="#c4c4c4" stroke-width="0.7"/>
<line x1="417" y1="340" x2="417" y2="529" stroke="#c4c4c4" stroke-width="0.7"/>
<line x1="480.5" y1="340" x2="480.5" y2="529" stroke="#c4c4c4" stroke-width="0.7"/>
<line x1="440" y1="340" x2="440" y2="529" stroke="#c4c4c4" stroke-width="0.7"/>
<line x1="447" y1="340" x2="447" y2="529" stroke="#c4c4c4" stroke-width="0.7"/>
<rect x="368.6" y="391.8" width="4.6" height="40.2" fill="#f1f1f1"/>
<line x1="369" y1="391.8" x2="369" y2="432" stroke="#b0b0b0" stroke-width="1.3"/>
<rect x="504.4" y="343.4" width="4.6" height="40.4" fill="#f1f1f1"/>
<line x1="504.8" y1="343.4" x2="504.8" y2="383.8" stroke="#b0b0b0" stroke-width="1.3"/>
<rect x="504.4" y="440" width="4.6" height="40.5" fill="#f1f1f1"/>
<line x1="504.8" y1="440" x2="504.8" y2="480.5" stroke="#b0b0b0" stroke-width="1.3"/>
<rect x="368.6" y="488.5" width="4.6" height="40.3" fill="#f1f1f1"/>
<line x1="369" y1="488.5" x2="369" y2="528.8" stroke="#b0b0b0" stroke-width="1.3"/>
<polyline points="345,342 333.6,342 333.6,384.4 345,384.4" fill="none" stroke="#c4c4c4" stroke-width="0.8"/>
<polyline points="345,438.6 333.6,438.6 333.6,481 345,481" fill="none" stroke="#c4c4c4" stroke-width="0.8"/>
<polyline points="532,294 542.4,294 542.4,334 532,334" fill="none" stroke="#dcdcdc" stroke-width="0.8"/>
<line x1="283.2" y1="639" x2="283.2" y2="725" stroke="#9fb0ba" stroke-width="0.8"/>
<line x1="287.2" y1="639" x2="287.2" y2="725" stroke="#9fb0ba" stroke-width="0.8"/>
<line x1="345.3" y1="639" x2="345.3" y2="725" stroke="#9fb0ba" stroke-width="0.8"/>
<line x1="351.3" y1="639" x2="351.3" y2="725" stroke="#9fb0ba" stroke-width="0.8"/>
<line x1="395.2" y1="639" x2="395.2" y2="725" stroke="#9fb0ba" stroke-width="0.8"/>
<line x1="397.4" y1="639" x2="397.4" y2="725" stroke="#9fb0ba" stroke-width="0.8"/>
<line x1="442.6" y1="639" x2="442.6" y2="725" stroke="#9fb0ba" stroke-width="0.8"/>
<line x1="450" y1="639" x2="450" y2="725" stroke="#9fb0ba" stroke-width="0.8"/>
<line x1="462.2" y1="639" x2="462.2" y2="725" stroke="#9fb0ba" stroke-width="0.8"/>
<line x1="464.4" y1="639" x2="464.4" y2="725" stroke="#9fb0ba" stroke-width="0.8"/>
<line x1="210.4" y1="688.6" x2="526.3" y2="688.6" stroke="#c9d5dc" stroke-width="0.8"/>
<line x1="351" y1="645.6" x2="526.3" y2="645.6" stroke="#c9d5dc" stroke-width="0.8"/>
<line x1="395.5" y1="291" x2="395.5" y2="725" stroke="#b0b0b0" stroke-width="0.6"/></g>
<line x1="355" y1="534" x2="355" y2="633" stroke="#e6cfd2" stroke-width="0.8"/><line x1="367.5" y1="534" x2="367.5" y2="633" stroke="#e6cfd2" stroke-width="0.8"/><line x1="380" y1="534" x2="380" y2="633" stroke="#e6cfd2" stroke-width="0.8"/><line x1="392.5" y1="534" x2="392.5" y2="633" stroke="#e6cfd2" stroke-width="0.8"/><line x1="405" y1="534" x2="405" y2="633" stroke="#e6cfd2" stroke-width="0.8"/><line x1="417.5" y1="534" x2="417.5" y2="633" stroke="#e6cfd2" stroke-width="0.8"/><line x1="430" y1="534" x2="430" y2="633" stroke="#e6cfd2" stroke-width="0.8"/><line x1="452" y1="534" x2="452" y2="633" stroke="#e6cfd2" stroke-width="0.8"/><line x1="466" y1="534" x2="466" y2="633" stroke="#e6cfd2" stroke-width="0.8"/><line x1="480" y1="534" x2="480" y2="633" stroke="#e6cfd2" stroke-width="0.8"/><line x1="492.5" y1="534" x2="492.5" y2="633" stroke="#e6cfd2" stroke-width="0.8"/><line x1="505" y1="534" x2="505" y2="633" stroke="#e6cfd2" stroke-width="0.8"/><line x1="517.5" y1="534" x2="517.5" y2="633" stroke="#e6cfd2" stroke-width="0.8"/><line x1="395.5" y1="534" x2="395.5" y2="633" stroke="#bfb2b4" stroke-width="0.8"/><line x1="440" y1="534" x2="440" y2="633" stroke="#bfb2b4" stroke-width="0.8"/><line x1="444.6" y1="534" x2="444.6" y2="633" stroke="#bfb2b4" stroke-width="0.8"/><line x1="472.5" y1="534" x2="472.5" y2="633" stroke="#bfb2b4" stroke-width="0.8"/>
<rect x="352" y="330.4" width="175" height="5.2" fill="url(#sg)"/>
<rect x="352" y="377.6" width="152" height="2.6" fill="#e9e6f1"/>
<rect x="352" y="380.1" width="152" height="3.7" fill="url(#sg)"/>
<rect x="373" y="425.8" width="154" height="2.6" fill="#e9e6f1"/>
<rect x="373" y="428.3" width="154" height="3.7" fill="url(#sg)"/>
<rect x="352" y="474.3" width="152" height="2.6" fill="#e9e6f1"/>
<rect x="352" y="476.8" width="152" height="3.7" fill="url(#sg)"/>
<rect x="373" y="522.6" width="154" height="2.6" fill="#e9e6f1"/>
<rect x="373" y="525.1" width="154" height="3.7" fill="url(#sg)"/>
<rect x="351" y="533.6" width="175" height="3.4" fill="#e58a90"/>
<rect x="351" y="537" width="175" height="3.6" fill="#efeaf3"/>
<rect x="351" y="586" width="175" height="3.4" fill="#e58a90"/>
<rect x="351" y="589.4" width="175" height="3.6" fill="#efeaf3"/>
<line x1="353.4" y1="331" x2="353.4" y2="321" stroke="#e8636a" stroke-width="0.9"/><path d="M353.4 320l1.4 2.2h-2.8z" fill="#e8636a"/><line x1="357" y1="331" x2="357" y2="321" stroke="#e8636a" stroke-width="0.9"/><path d="M357 320l1.4 2.2h-2.8z" fill="#e8636a"/><line x1="360.6" y1="331" x2="360.6" y2="321" stroke="#e8636a" stroke-width="0.9"/><path d="M360.6 320l1.4 2.2h-2.8z" fill="#e8636a"/>
<line x1="364.8" y1="331" x2="364.8" y2="321" stroke="#b9c9e6" stroke-width="0.9"/><path d="M364.8 320l1.4 2.2h-2.8z" fill="#b9c9e6"/><line x1="368.4" y1="331" x2="368.4" y2="321" stroke="#b9c9e6" stroke-width="0.9"/><path d="M368.4 320l1.4 2.2h-2.8z" fill="#b9c9e6"/><line x1="372" y1="331" x2="372" y2="321" stroke="#b9c9e6" stroke-width="0.9"/><path d="M372 320l1.4 2.2h-2.8z" fill="#b9c9e6"/>
<line x1="516" y1="331" x2="516" y2="321" stroke="#e8636a" stroke-width="0.9"/><path d="M516 320l1.4 2.2h-2.8z" fill="#e8636a"/><line x1="519.6" y1="331" x2="519.6" y2="321" stroke="#e8636a" stroke-width="0.9"/><path d="M519.6 320l1.4 2.2h-2.8z" fill="#e8636a"/><line x1="523.2" y1="331" x2="523.2" y2="321" stroke="#e8636a" stroke-width="0.9"/><path d="M523.2 320l1.4 2.2h-2.8z" fill="#e8636a"/>
<line x1="502" y1="331" x2="502" y2="321" stroke="#b9c9e6" stroke-width="0.9"/><path d="M502 320l1.4 2.2h-2.8z" fill="#b9c9e6"/><line x1="505.6" y1="331" x2="505.6" y2="321" stroke="#b9c9e6" stroke-width="0.9"/><path d="M505.6 320l1.4 2.2h-2.8z" fill="#b9c9e6"/><line x1="509.2" y1="331" x2="509.2" y2="321" stroke="#b9c9e6" stroke-width="0.9"/><path d="M509.2 320l1.4 2.2h-2.8z" fill="#b9c9e6"/>
<line x1="354.6" y1="379.2" x2="354.6" y2="369.2" stroke="#e8636a" stroke-width="0.9"/><path d="M354.6 368.2l1.4 2.2h-2.8z" fill="#e8636a"/><line x1="358.2" y1="379.2" x2="358.2" y2="369.2" stroke="#e8636a" stroke-width="0.9"/><path d="M358.2 368.2l1.4 2.2h-2.8z" fill="#e8636a"/><line x1="361.8" y1="379.2" x2="361.8" y2="369.2" stroke="#e8636a" stroke-width="0.9"/><path d="M361.8 368.2l1.4 2.2h-2.8z" fill="#e8636a"/>
<line x1="368.2" y1="379.2" x2="368.2" y2="369.2" stroke="#b9c9e6" stroke-width="0.9"/><path d="M368.2 368.2l1.4 2.2h-2.8z" fill="#b9c9e6"/><line x1="371.8" y1="379.2" x2="371.8" y2="369.2" stroke="#b9c9e6" stroke-width="0.9"/><path d="M371.8 368.2l1.4 2.2h-2.8z" fill="#b9c9e6"/><line x1="375.4" y1="379.2" x2="375.4" y2="369.2" stroke="#b9c9e6" stroke-width="0.9"/><path d="M375.4 368.2l1.4 2.2h-2.8z" fill="#b9c9e6"/>
<line x1="492.2" y1="379.2" x2="492.2" y2="369.2" stroke="#e8636a" stroke-width="0.9"/><path d="M492.2 368.2l1.4 2.2h-2.8z" fill="#e8636a"/><line x1="495.8" y1="379.2" x2="495.8" y2="369.2" stroke="#e8636a" stroke-width="0.9"/><path d="M495.8 368.2l1.4 2.2h-2.8z" fill="#e8636a"/><line x1="499.4" y1="379.2" x2="499.4" y2="369.2" stroke="#e8636a" stroke-width="0.9"/><path d="M499.4 368.2l1.4 2.2h-2.8z" fill="#e8636a"/>
<line x1="478" y1="379.2" x2="478" y2="369.2" stroke="#b9c9e6" stroke-width="0.9"/><path d="M478 368.2l1.4 2.2h-2.8z" fill="#b9c9e6"/><line x1="481.6" y1="379.2" x2="481.6" y2="369.2" stroke="#b9c9e6" stroke-width="0.9"/><path d="M481.6 368.2l1.4 2.2h-2.8z" fill="#b9c9e6"/><line x1="485.2" y1="379.2" x2="485.2" y2="369.2" stroke="#b9c9e6" stroke-width="0.9"/><path d="M485.2 368.2l1.4 2.2h-2.8z" fill="#b9c9e6"/>
<line x1="375.6" y1="427.4" x2="375.6" y2="417.4" stroke="#e8636a" stroke-width="0.9"/><path d="M375.6 416.4l1.4 2.2h-2.8z" fill="#e8636a"/><line x1="379.2" y1="427.4" x2="379.2" y2="417.4" stroke="#e8636a" stroke-width="0.9"/><path d="M379.2 416.4l1.4 2.2h-2.8z" fill="#e8636a"/><line x1="382.8" y1="427.4" x2="382.8" y2="417.4" stroke="#e8636a" stroke-width="0.9"/><path d="M382.8 416.4l1.4 2.2h-2.8z" fill="#e8636a"/>
<line x1="397" y1="427.4" x2="397" y2="417.4" stroke="#b9c9e6" stroke-width="0.9"/><path d="M397 416.4l1.4 2.2h-2.8z" fill="#b9c9e6"/><line x1="400.6" y1="427.4" x2="400.6" y2="417.4" stroke="#b9c9e6" stroke-width="0.9"/><path d="M400.6 416.4l1.4 2.2h-2.8z" fill="#b9c9e6"/><line x1="404.2" y1="427.4" x2="404.2" y2="417.4" stroke="#b9c9e6" stroke-width="0.9"/><path d="M404.2 416.4l1.4 2.2h-2.8z" fill="#b9c9e6"/>
<line x1="514.6" y1="427.4" x2="514.6" y2="417.4" stroke="#e8636a" stroke-width="0.9"/><path d="M514.6 416.4l1.4 2.2h-2.8z" fill="#e8636a"/><line x1="518.2" y1="427.4" x2="518.2" y2="417.4" stroke="#e8636a" stroke-width="0.9"/><path d="M518.2 416.4l1.4 2.2h-2.8z" fill="#e8636a"/><line x1="521.8" y1="427.4" x2="521.8" y2="417.4" stroke="#e8636a" stroke-width="0.9"/><path d="M521.8 416.4l1.4 2.2h-2.8z" fill="#e8636a"/>
<line x1="497.4" y1="427.4" x2="497.4" y2="417.4" stroke="#b9c9e6" stroke-width="0.9"/><path d="M497.4 416.4l1.4 2.2h-2.8z" fill="#b9c9e6"/><line x1="501" y1="427.4" x2="501" y2="417.4" stroke="#b9c9e6" stroke-width="0.9"/><path d="M501 416.4l1.4 2.2h-2.8z" fill="#b9c9e6"/><line x1="504.6" y1="427.4" x2="504.6" y2="417.4" stroke="#b9c9e6" stroke-width="0.9"/><path d="M504.6 416.4l1.4 2.2h-2.8z" fill="#b9c9e6"/>
<line x1="354.6" y1="475.8" x2="354.6" y2="465.8" stroke="#e8636a" stroke-width="0.9"/><path d="M354.6 464.8l1.4 2.2h-2.8z" fill="#e8636a"/><line x1="358.2" y1="475.8" x2="358.2" y2="465.8" stroke="#e8636a" stroke-width="0.9"/><path d="M358.2 464.8l1.4 2.2h-2.8z" fill="#e8636a"/><line x1="361.8" y1="475.8" x2="361.8" y2="465.8" stroke="#e8636a" stroke-width="0.9"/><path d="M361.8 464.8l1.4 2.2h-2.8z" fill="#e8636a"/>
<line x1="368.2" y1="475.8" x2="368.2" y2="465.8" stroke="#b9c9e6" stroke-width="0.9"/><path d="M368.2 464.8l1.4 2.2h-2.8z" fill="#b9c9e6"/><line x1="371.8" y1="475.8" x2="371.8" y2="465.8" stroke="#b9c9e6" stroke-width="0.9"/><path d="M371.8 464.8l1.4 2.2h-2.8z" fill="#b9c9e6"/><line x1="375.4" y1="475.8" x2="375.4" y2="465.8" stroke="#b9c9e6" stroke-width="0.9"/><path d="M375.4 464.8l1.4 2.2h-2.8z" fill="#b9c9e6"/>
<line x1="492.2" y1="475.8" x2="492.2" y2="465.8" stroke="#e8636a" stroke-width="0.9"/><path d="M492.2 464.8l1.4 2.2h-2.8z" fill="#e8636a"/><line x1="495.8" y1="475.8" x2="495.8" y2="465.8" stroke="#e8636a" stroke-width="0.9"/><path d="M495.8 464.8l1.4 2.2h-2.8z" fill="#e8636a"/><line x1="499.4" y1="475.8" x2="499.4" y2="465.8" stroke="#e8636a" stroke-width="0.9"/><path d="M499.4 464.8l1.4 2.2h-2.8z" fill="#e8636a"/>
<line x1="478" y1="475.8" x2="478" y2="465.8" stroke="#b9c9e6" stroke-width="0.9"/><path d="M478 464.8l1.4 2.2h-2.8z" fill="#b9c9e6"/><line x1="481.6" y1="475.8" x2="481.6" y2="465.8" stroke="#b9c9e6" stroke-width="0.9"/><path d="M481.6 464.8l1.4 2.2h-2.8z" fill="#b9c9e6"/><line x1="485.2" y1="475.8" x2="485.2" y2="465.8" stroke="#b9c9e6" stroke-width="0.9"/><path d="M485.2 464.8l1.4 2.2h-2.8z" fill="#b9c9e6"/>
<line x1="375.6" y1="524.2" x2="375.6" y2="514.2" stroke="#e8636a" stroke-width="0.9"/><path d="M375.6 513.2l1.4 2.2h-2.8z" fill="#e8636a"/><line x1="379.2" y1="524.2" x2="379.2" y2="514.2" stroke="#e8636a" stroke-width="0.9"/><path d="M379.2 513.2l1.4 2.2h-2.8z" fill="#e8636a"/><line x1="382.8" y1="524.2" x2="382.8" y2="514.2" stroke="#e8636a" stroke-width="0.9"/><path d="M382.8 513.2l1.4 2.2h-2.8z" fill="#e8636a"/>
<line x1="397" y1="524.2" x2="397" y2="514.2" stroke="#b9c9e6" stroke-width="0.9"/><path d="M397 513.2l1.4 2.2h-2.8z" fill="#b9c9e6"/><line x1="400.6" y1="524.2" x2="400.6" y2="514.2" stroke="#b9c9e6" stroke-width="0.9"/><path d="M400.6 513.2l1.4 2.2h-2.8z" fill="#b9c9e6"/><line x1="404.2" y1="524.2" x2="404.2" y2="514.2" stroke="#b9c9e6" stroke-width="0.9"/><path d="M404.2 513.2l1.4 2.2h-2.8z" fill="#b9c9e6"/>
<line x1="514.6" y1="524.2" x2="514.6" y2="514.2" stroke="#e8636a" stroke-width="0.9"/><path d="M514.6 513.2l1.4 2.2h-2.8z" fill="#e8636a"/><line x1="518.2" y1="524.2" x2="518.2" y2="514.2" stroke="#e8636a" stroke-width="0.9"/><path d="M518.2 513.2l1.4 2.2h-2.8z" fill="#e8636a"/><line x1="521.8" y1="524.2" x2="521.8" y2="514.2" stroke="#e8636a" stroke-width="0.9"/><path d="M521.8 513.2l1.4 2.2h-2.8z" fill="#e8636a"/>
<line x1="492" y1="524.2" x2="492" y2="514.2" stroke="#b9c9e6" stroke-width="0.9"/><path d="M492 513.2l1.4 2.2h-2.8z" fill="#b9c9e6"/><line x1="495.6" y1="524.2" x2="495.6" y2="514.2" stroke="#b9c9e6" stroke-width="0.9"/><path d="M495.6 513.2l1.4 2.2h-2.8z" fill="#b9c9e6"/><line x1="499.2" y1="524.2" x2="499.2" y2="514.2" stroke="#b9c9e6" stroke-width="0.9"/><path d="M499.2 513.2l1.4 2.2h-2.8z" fill="#b9c9e6"/>
<line x1="354" y1="538.6" x2="354" y2="548.1" stroke="#e4454c" stroke-width="0.9"/><path d="M354 549.1l1.4 -2.2h-2.8z" fill="#e4454c"/><line x1="357.6" y1="538.6" x2="357.6" y2="548.1" stroke="#e4454c" stroke-width="0.9"/><path d="M357.6 549.1l1.4 -2.2h-2.8z" fill="#e4454c"/><line x1="361.2" y1="538.6" x2="361.2" y2="548.1" stroke="#e4454c" stroke-width="0.9"/><path d="M361.2 549.1l1.4 -2.2h-2.8z" fill="#e4454c"/>
<line x1="372" y1="538.6" x2="372" y2="550.6" stroke="#b9c9e6" stroke-width="0.9"/><path d="M372 551.6l1.4 -2.2h-2.8z" fill="#b9c9e6"/><line x1="375.6" y1="538.6" x2="375.6" y2="550.6" stroke="#b9c9e6" stroke-width="0.9"/><path d="M375.6 551.6l1.4 -2.2h-2.8z" fill="#b9c9e6"/><line x1="379.2" y1="538.6" x2="379.2" y2="550.6" stroke="#b9c9e6" stroke-width="0.9"/><path d="M379.2 551.6l1.4 -2.2h-2.8z" fill="#b9c9e6"/>
<line x1="511.6" y1="538.6" x2="511.6" y2="548.1" stroke="#e4454c" stroke-width="0.9"/><path d="M511.6 549.1l1.4 -2.2h-2.8z" fill="#e4454c"/><line x1="515.2" y1="538.6" x2="515.2" y2="548.1" stroke="#e4454c" stroke-width="0.9"/><path d="M515.2 549.1l1.4 -2.2h-2.8z" fill="#e4454c"/><line x1="518.8" y1="538.6" x2="518.8" y2="548.1" stroke="#e4454c" stroke-width="0.9"/><path d="M518.8 549.1l1.4 -2.2h-2.8z" fill="#e4454c"/>
<line x1="493.6" y1="538.6" x2="493.6" y2="550.6" stroke="#b9c9e6" stroke-width="0.9"/><path d="M493.6 551.6l1.4 -2.2h-2.8z" fill="#b9c9e6"/><line x1="497.2" y1="538.6" x2="497.2" y2="550.6" stroke="#b9c9e6" stroke-width="0.9"/><path d="M497.2 551.6l1.4 -2.2h-2.8z" fill="#b9c9e6"/><line x1="500.8" y1="538.6" x2="500.8" y2="550.6" stroke="#b9c9e6" stroke-width="0.9"/><path d="M500.8 551.6l1.4 -2.2h-2.8z" fill="#b9c9e6"/>
<line x1="354" y1="591" x2="354" y2="600.5" stroke="#e4454c" stroke-width="0.9"/><path d="M354 601.5l1.4 -2.2h-2.8z" fill="#e4454c"/><line x1="357.6" y1="591" x2="357.6" y2="600.5" stroke="#e4454c" stroke-width="0.9"/><path d="M357.6 601.5l1.4 -2.2h-2.8z" fill="#e4454c"/><line x1="361.2" y1="591" x2="361.2" y2="600.5" stroke="#e4454c" stroke-width="0.9"/><path d="M361.2 601.5l1.4 -2.2h-2.8z" fill="#e4454c"/>
<line x1="372" y1="591" x2="372" y2="603" stroke="#b9c9e6" stroke-width="0.9"/><path d="M372 604l1.4 -2.2h-2.8z" fill="#b9c9e6"/><line x1="375.6" y1="591" x2="375.6" y2="603" stroke="#b9c9e6" stroke-width="0.9"/><path d="M375.6 604l1.4 -2.2h-2.8z" fill="#b9c9e6"/><line x1="379.2" y1="591" x2="379.2" y2="603" stroke="#b9c9e6" stroke-width="0.9"/><path d="M379.2 604l1.4 -2.2h-2.8z" fill="#b9c9e6"/>
<line x1="511.6" y1="591" x2="511.6" y2="600.5" stroke="#e4454c" stroke-width="0.9"/><path d="M511.6 601.5l1.4 -2.2h-2.8z" fill="#e4454c"/><line x1="515.2" y1="591" x2="515.2" y2="600.5" stroke="#e4454c" stroke-width="0.9"/><path d="M515.2 601.5l1.4 -2.2h-2.8z" fill="#e4454c"/><line x1="518.8" y1="591" x2="518.8" y2="600.5" stroke="#e4454c" stroke-width="0.9"/><path d="M518.8 601.5l1.4 -2.2h-2.8z" fill="#e4454c"/>
<line x1="493.6" y1="591" x2="493.6" y2="603" stroke="#b9c9e6" stroke-width="0.9"/><path d="M493.6 604l1.4 -2.2h-2.8z" fill="#b9c9e6"/><line x1="497.2" y1="591" x2="497.2" y2="603" stroke="#b9c9e6" stroke-width="0.9"/><path d="M497.2 604l1.4 -2.2h-2.8z" fill="#b9c9e6"/><line x1="500.8" y1="591" x2="500.8" y2="603" stroke="#b9c9e6" stroke-width="0.9"/><path d="M500.8 604l1.4 -2.2h-2.8z" fill="#b9c9e6"/>
<line x1="457.4" y1="340" x2="457.4" y2="660" stroke="#b4c2e2" stroke-width="1.6"/>
<line x1="460.8" y1="340" x2="460.8" y2="658" stroke="#d9363c" stroke-width="2"/>
<rect x="455.6" y="656.6" width="7.6" height="16.6" rx="2.2" fill="#f4f7fa" stroke="#444" stroke-width="0.8"/>
<path d="M457.6 671.6l3-3.6 2.6 3.6z" fill="#222"/>
<line x1="463.2" y1="658.6" x2="526" y2="658.6" stroke="#b8c6ce" stroke-width="0.8"/>
<path d="M424.4 431V404q0-5.4 5-5.4q2.4 0 3.4 1.6" fill="none" stroke="#222" stroke-width="1.1"/>
<path d="M430.6 402.6l4.4-3.6 1.4 1.8z" fill="#222"/>
<g transform="translate(436.6 432)" fill="#111"><circle cx="0" cy="-19.6" r="2.6"/><path d="M-1.6 -17C-4.6 -16.4 -5.6 -12 -6 -8.4C-6.2 -6.6 -4 -6 -3.6 -8L-3.2 -5L-2.8 0H-0.4L0 -6L0.4 0H2.8L3.2 -5L3.6 -8C4 -6 6.2 -6.6 6 -8.4C5.6 -12 4.6 -16.4 1.6 -17Z"/></g>
<text x="482.4" y="498.6" font-size="8.6" fill="#e2646a" textLength="41.4" lengthAdjust="spacingAndGlyphs">ti = 25°C</text>
<text x="482.4" y="509" font-size="8.6" fill="#e2646a" textLength="38" lengthAdjust="spacingAndGlyphs">φ = 18%</text>
<g id="struct"><rect x="345.8" y="284.4" width="64.8" height="6.8" fill="#000"/>
<rect x="441" y="284.4" width="90.2" height="6.8" fill="#000"/>
<rect x="345.8" y="277.8" width="4.6" height="16.6" fill="#000"/>
<rect x="526.8" y="277.8" width="4.4" height="16.6" fill="#000"/>
<rect x="350.4" y="277.6" width="55.6" height="3" fill="#f1f5e6"/>
<rect x="445" y="277.6" width="81.8" height="3" fill="#f1f5e6"/>
<rect x="350.4" y="280.4" width="55.6" height="1.4" fill="#a9b98a"/>
<rect x="445" y="280.4" width="81.8" height="1.4" fill="#a9b98a"/>
<rect x="350.4" y="281.6" width="55.6" height="3" fill="#2c3a1c"/>
<rect x="445" y="281.6" width="81.8" height="3" fill="#2c3a1c"/>
<rect x="351.2" y="335.6" width="180" height="5" fill="#000"/>
<rect x="345.6" y="383.8" width="185.6" height="5.2" fill="#000"/>
<rect x="345.6" y="432" width="185.6" height="5.2" fill="#000"/>
<rect x="345.6" y="480.5" width="185.6" height="5.2" fill="#000"/>
<rect x="345.6" y="528.8" width="185.6" height="5.2" fill="#000"/>
<rect x="348" y="581.6" width="180.8" height="4.4" fill="#000"/>
<rect x="504" y="340.6" width="4.8" height="2.8" fill="#000"/>
<rect x="368.4" y="389" width="4.8" height="2.8" fill="#000"/>
<rect x="504" y="437.2" width="4.8" height="2.8" fill="#000"/>
<rect x="368.4" y="485.7" width="4.8" height="2.8" fill="#000"/>
<rect x="345.6" y="389" width="3.9" height="2.6" fill="#000"/>
<rect x="527.2" y="389" width="4" height="2.6" fill="#000"/>
<rect x="345.6" y="437.2" width="3.9" height="2.6" fill="#000"/>
<rect x="527.2" y="437.2" width="4" height="2.6" fill="#000"/>
<rect x="345.6" y="485.7" width="3.9" height="2.6" fill="#000"/>
<rect x="527.2" y="485.7" width="4" height="2.6" fill="#000"/>
<rect x="345.6" y="534" width="3.9" height="2.6" fill="#000"/>
<rect x="527.2" y="534" width="4" height="2.6" fill="#000"/>
<rect x="375" y="291" width="2.4" height="45" fill="#000"/>
<rect x="408.2" y="291" width="2.4" height="45" fill="#000"/>
<rect x="451.2" y="291" width="2.4" height="45" fill="#000"/>
<rect x="484.8" y="291" width="2.4" height="45" fill="#000"/>
<rect x="420.5" y="340" width="2.1" height="189" fill="#000"/>
<rect x="451.6" y="340" width="2.4" height="189" fill="#000"/>
<rect x="470.4" y="340" width="2.4" height="189" fill="#000"/>
<rect x="204" y="632.8" width="328" height="6.4" fill="#000"/>
<rect x="204" y="632.8" width="147" height="9.6" fill="#000"/>
<rect x="204" y="632.8" width="6.4" height="110.7" fill="#000"/>
<rect x="526.3" y="632.8" width="5.7" height="110.7" fill="#000"/>
<rect x="204" y="679.6" width="328" height="5.2" fill="#000"/>
<polygon points="204,725 532,725 532,743.6 507.4,743.6 503.6,738 465.3,738 461.5,743.6 421,743.6 417.2,738 373.8,738 370,743.6 328,743.6 324.2,738 306.8,738 303,743.6 261.6,743.6 257.8,738 231.8,738 228,743.6 204,743.6" fill="#000"/>
<rect x="119" y="634.6" width="86" height="1.8" fill="#1a1a1a"/>
<rect x="531" y="633.2" width="222.6" height="2" fill="#1a1a1a"/><g><ellipse cx="346" cy="415.6" rx="4.2" ry="3.6" fill="#4f6126"/><path d="M343.6 414.6q0.4 7.9 -0 15.8" fill="none" stroke="#6b7f3a" stroke-width="1.6" opacity="0.9"/><path d="M345.8 414.6q-0.9 9.3 0.1 18.6" fill="none" stroke="#4f6126" stroke-width="0.8" opacity="0.9"/><path d="M349.1 414.6q-1.1 6.5 0.5 13" fill="none" stroke="#6b7f3a" stroke-width="1.4" opacity="0.9"/><path d="M345.5 414.6q0.8 9.5 -0.2 19" fill="none" stroke="#7d9048" stroke-width="0.8" opacity="0.9"/><path d="M344.8 414.6q-1.2 6.9 0.9 13.7" fill="none" stroke="#3a4c1c" stroke-width="0.8" opacity="0.9"/><path d="M347.7 414.6q0.9 4.7 -1 9.5" fill="none" stroke="#6b7f3a" stroke-width="1.2" opacity="0.9"/><path d="M344.9 414.6q-0.9 6.8 -0.9 13.6" fill="none" stroke="#6b7f3a" stroke-width="0.9" opacity="0.9"/><path d="M343.8 414.6q0.9 7.8 0.3 15.6" fill="none" stroke="#4f6126" stroke-width="0.9" opacity="0.9"/><path d="M345.8 414.6q-0.9 8.6 0.8 17.2" fill="none" stroke="#7d9048" stroke-width="1" opacity="0.9"/></g>
<g><ellipse cx="532" cy="366" rx="4.2" ry="3.6" fill="#4f6126"/><path d="M535.3 365q-1.4 7.4 1 14.8" fill="none" stroke="#6b7f3a" stroke-width="1.4" opacity="0.9"/><path d="M533.7 365q0.9 13.1 -0.8 26.1" fill="none" stroke="#3a4c1c" stroke-width="1.6" opacity="0.9"/><path d="M530.7 365q1.3 10.9 0.4 21.9" fill="none" stroke="#7d9048" stroke-width="1.4" opacity="0.9"/><path d="M528.7 365q0.3 13.1 -0.4 26.2" fill="none" stroke="#6b7f3a" stroke-width="0.9" opacity="0.9"/><path d="M529.2 365q0.7 10.4 1 20.8" fill="none" stroke="#4f6126" stroke-width="1.4" opacity="0.9"/><path d="M532.8 365q1.4 8.3 -0.4 16.6" fill="none" stroke="#6b7f3a" stroke-width="1" opacity="0.9"/><path d="M530.3 365q-0.2 11.6 -0.3 23.3" fill="none" stroke="#4f6126" stroke-width="1.1" opacity="0.9"/><path d="M530.2 365q1.1 8.5 -0.2 17" fill="none" stroke="#6b7f3a" stroke-width="1" opacity="0.9"/><path d="M531.1 365q-0.6 10.8 0.2 21.6" fill="none" stroke="#7d9048" stroke-width="1.4" opacity="0.9"/></g>
<g><ellipse cx="530.6" cy="464.4" rx="4.2" ry="3.6" fill="#4f6126"/><path d="M533.7 463.4q1.2 10.2 -0.8 20.4" fill="none" stroke="#3a4c1c" stroke-width="1.1" opacity="0.9"/><path d="M530.8 463.4q-0.9 5.5 -0.1 11" fill="none" stroke="#6b7f3a" stroke-width="1.3" opacity="0.9"/><path d="M533.5 463.4q1.4 5.3 -0 10.7" fill="none" stroke="#4f6126" stroke-width="1.2" opacity="0.9"/><path d="M532.3 463.4q-1.3 6.8 0.6 13.6" fill="none" stroke="#3a4c1c" stroke-width="1.3" opacity="0.9"/><path d="M531.5 463.4q-0.4 10.3 0.5 20.7" fill="none" stroke="#3a4c1c" stroke-width="1.6" opacity="0.9"/><path d="M529 463.4q0.2 10.4 0.6 20.7" fill="none" stroke="#6b7f3a" stroke-width="1.4" opacity="0.9"/><path d="M531.3 463.4q0.4 7.3 -0.6 14.6" fill="none" stroke="#6b7f3a" stroke-width="1.2" opacity="0.9"/><path d="M531.8 463.4q0.2 7.7 -0.8 15.5" fill="none" stroke="#7d9048" stroke-width="0.8" opacity="0.9"/><path d="M529 463.4q1 8 -0.3 16.1" fill="none" stroke="#3a4c1c" stroke-width="1.5" opacity="0.9"/></g>
<g><ellipse cx="346" cy="512" rx="4.2" ry="3.6" fill="#4f6126"/><path d="M347.5 511q-1 10.5 1 21" fill="none" stroke="#6b7f3a" stroke-width="0.9" opacity="0.9"/><path d="M347.3 511q1.5 9.6 0.6 19.3" fill="none" stroke="#3a4c1c" stroke-width="1.4" opacity="0.9"/><path d="M347.9 511q1.1 8 1 15.9" fill="none" stroke="#4f6126" stroke-width="0.8" opacity="0.9"/><path d="M343.6 511q1 8.3 0.4 16.6" fill="none" stroke="#7d9048" stroke-width="1.6" opacity="0.9"/><path d="M343 511q1 10 -0.7 20" fill="none" stroke="#3a4c1c" stroke-width="1.6" opacity="0.9"/><path d="M342.9 511q0.5 9.3 -0.9 18.6" fill="none" stroke="#6b7f3a" stroke-width="1.1" opacity="0.9"/><path d="M348.8 511q-1.2 5.6 0.3 11.2" fill="none" stroke="#6b7f3a" stroke-width="1.5" opacity="0.9"/><path d="M349.5 511q-0.7 10.6 0.5 21.2" fill="none" stroke="#6b7f3a" stroke-width="0.9" opacity="0.9"/><path d="M346 511q-1.1 6.2 -0 12.3" fill="none" stroke="#6b7f3a" stroke-width="1.2" opacity="0.9"/></g><g transform="translate(433.4 335.8) scale(0.227 0.270)" fill="#111"><ellipse cx="0" cy="-92" rx="7" ry="7.8"/><path d="M-4 -85C-12 -84 -17 -80 -18 -71L-19.5 -50C-19.5 -45 -16 -43 -14.5 -46L-13 -38L-10.5 -3L-10 0L-1.5 0L0 -32L1.5 0L10 0L10.5 -3L13 -38L14.5 -46C16 -43 19.5 -45 19.5 -50L18 -71C17 -80 12 -84 4 -85Z"/></g>
<g transform="translate(521.6 383.8) scale(-0.270 0.270)" fill="#111"><ellipse cx="0.5" cy="-92" rx="5.8" ry="7.4"/><path d="M-3 -85C-8 -83 -9 -74 -9 -64L-8 -44L-7 -2L-6 0L6 0L5 -3L6 -44L8 -58L11 -62L8 -66C8 -76 6 -83 2 -85Z"/></g>
<g transform="translate(356 432) scale(0.274 0.274)" fill="#111"><ellipse cx="0.5" cy="-92" rx="5.8" ry="7.4"/><path d="M-3 -85C-8 -83 -9 -74 -9 -64L-8 -44L-7 -2L-6 0L6 0L5 -3L6 -44L8 -58L11 -62L8 -66C8 -76 6 -83 2 -85Z"/></g>
<g transform="translate(497.6 581.8) scale(0.218 0.260)" fill="#111"><ellipse cx="0" cy="-92" rx="7" ry="7.8"/><path d="M-4 -85C-12 -84 -17 -80 -18 -71L-19.5 -50C-19.5 -45 -16 -43 -14.5 -46L-13 -38L-10.5 -3L-10 0L-1.5 0L0 -32L1.5 0L10 0L10.5 -3L13 -38L14.5 -46C16 -43 19.5 -45 19.5 -50L18 -71C17 -80 12 -84 4 -85Z"/></g>
<g transform="translate(413.6 633) scale(0.260)" fill="#111"><ellipse cx="0.6" cy="-91" rx="6.4" ry="8"/><path d="M-5 -92C-8 -86 -9 -78 -6 -74L2 -80Z"/><path d="M-2 -85C-9 -82 -10 -70 -10 -62L-16 -36L13 -36L8 -60L14 -50L17 -52L9 -68C8 -78 6 -83 2 -85Z"/><path d="M-5 -37L-22 -1L-14 0L1 -30L12 0L19 -1L7 -37Z" opacity="0.8"/></g></g>
<g transform="translate(355.2 679.8) scale(0.265)"><path d="M4 0L4 -8C0 -12 0 -36 6 -42C10 -46 14 -48 18 -50C22 -62 28 -68 50 -68C72 -68 78 -62 82 -50C86 -48 90 -46 94 -42C100 -36 100 -12 96 -8L96 0L78 0L78 -6L22 -6L22 0Z" fill="#1f2e36"/><path d="M24 -50C27 -60 31 -63 50 -63C69 -63 73 -60 76 -50Z" fill="#fff" opacity="0.85"/><rect x="30" y="-20" width="40" height="8" rx="2" fill="#fff" opacity="0.85"/><path d="M8 -36L26 -32L26 -28L10 -30ZM92 -36L74 -32L74 -28L90 -30Z" fill="#fff" opacity="0.8"/></g>
<g transform="translate(427.6 679.8) scale(0.202 0.240)" fill="#1f2e36"><ellipse cx="0" cy="-92" rx="7" ry="7.8"/><path d="M-4 -85C-12 -84 -17 -80 -18 -71L-19.5 -50C-19.5 -45 -16 -43 -14.5 -46L-13 -38L-10.5 -3L-10 0L-1.5 0L0 -32L1.5 0L10 0L10.5 -3L13 -38L14.5 -46C16 -43 19.5 -45 19.5 -50L18 -71C17 -80 12 -84 4 -85Z"/></g>
<g transform="translate(466.4 679.8) scale(0.550 0.550)"><path d="M2 -6C0 -10 1 -16 6 -19C14 -22 24 -24 30 -26C38 -33 48 -37 60 -37C70 -37 78 -34 86 -27L92 -32L96 -34L95 -24C98 -20 99 -12 98 -6L90 -5A10 10 0 0 0 70 -5L31 -5A10 10 0 0 0 11 -5Z" fill="#1f2e36"/><path d="M36 -26C42 -31 50 -34 58 -34L58 -26ZM61 -34C68 -34 75 -31 80 -26L61 -26Z" fill="#fff" opacity="0.7"/><circle cx="21" cy="-7" r="7.6" fill="#1f2e36"/><circle cx="80" cy="-7" r="7.6" fill="#1f2e36"/><circle cx="21" cy="-7" r="3.4" fill="#fff"/><circle cx="80" cy="-7" r="3.4" fill="#fff"/></g>
<g transform="translate(232.6 725.2) scale(0.270)"><path d="M4 0L4 -8C0 -12 0 -36 6 -42C10 -46 14 -48 18 -50C22 -62 28 -68 50 -68C72 -68 78 -62 82 -50C86 -48 90 -46 94 -42C100 -36 100 -12 96 -8L96 0L78 0L78 -6L22 -6L22 0Z" fill="#1f2e36"/><path d="M24 -50C27 -60 31 -63 50 -63C69 -63 73 -60 76 -50Z" fill="#fff" opacity="0.85"/><rect x="30" y="-20" width="40" height="8" rx="2" fill="#fff" opacity="0.85"/><path d="M8 -36L26 -32L26 -28L10 -30ZM92 -36L74 -32L74 -28L90 -30Z" fill="#fff" opacity="0.8"/></g>
<g transform="translate(344.5 725.2) scale(-0.575 0.575)"><path d="M2 -6C0 -10 1 -16 6 -19C14 -22 24 -24 30 -26C38 -33 48 -37 60 -37C70 -37 78 -34 86 -27L92 -32L96 -34L95 -24C98 -20 99 -12 98 -6L90 -5A10 10 0 0 0 70 -5L31 -5A10 10 0 0 0 11 -5Z" fill="#1f2e36"/><path d="M36 -26C42 -31 50 -34 58 -34L58 -26ZM61 -34C68 -34 75 -31 80 -26L61 -26Z" fill="#fff" opacity="0.7"/><circle cx="21" cy="-7" r="7.6" fill="#1f2e36"/><circle cx="80" cy="-7" r="7.6" fill="#1f2e36"/><circle cx="21" cy="-7" r="3.4" fill="#fff"/><circle cx="80" cy="-7" r="3.4" fill="#fff"/></g>
<text transform="translate(389.6 314) rotate(-90)" font-size="7" font-weight="bold" fill="#4a4a4a" text-anchor="middle" textLength="16" lengthAdjust="spacingAndGlyphs">3400</text>
<text transform="translate(389.6 362) rotate(-90)" font-size="7" font-weight="bold" fill="#4a4a4a" text-anchor="middle" textLength="16" lengthAdjust="spacingAndGlyphs">3200</text>
<text transform="translate(389.6 410.5) rotate(-90)" font-size="7" font-weight="bold" fill="#4a4a4a" text-anchor="middle" textLength="16" lengthAdjust="spacingAndGlyphs">3200</text>
<text transform="translate(389.6 459) rotate(-90)" font-size="7" font-weight="bold" fill="#4a4a4a" text-anchor="middle" textLength="16" lengthAdjust="spacingAndGlyphs">3200</text>
<text transform="translate(389.6 507.5) rotate(-90)" font-size="7" font-weight="bold" fill="#4a4a4a" text-anchor="middle" textLength="16" lengthAdjust="spacingAndGlyphs">3200</text>
<text transform="translate(389.6 557) rotate(-90)" font-size="7" font-weight="bold" fill="#4a4a4a" text-anchor="middle" textLength="16" lengthAdjust="spacingAndGlyphs">3600</text>
<text transform="translate(389.6 608) rotate(-90)" font-size="7" font-weight="bold" fill="#4a4a4a" text-anchor="middle" textLength="16" lengthAdjust="spacingAndGlyphs">3600</text>
<text transform="translate(389.6 659) rotate(-90)" font-size="7" font-weight="bold" fill="#4a4a4a" text-anchor="middle" textLength="16" lengthAdjust="spacingAndGlyphs">3000</text>
<text transform="translate(389.6 704) rotate(-90)" font-size="7" font-weight="bold" fill="#4a4a4a" text-anchor="middle" textLength="16" lengthAdjust="spacingAndGlyphs">3000</text>
<text transform="translate(318.8 458) rotate(-90)" font-size="7.6" font-weight="bold" fill="#4a4a4a" text-anchor="middle" textLength="20" lengthAdjust="spacingAndGlyphs">23600</text>
<text x="347.6" y="261.4" font-size="6" fill="#222" textLength="26" lengthAdjust="spacingAndGlyphs" font-weight="bold">+23,800</text>
<text x="392" y="253.8" font-size="6" fill="#222" textLength="26" lengthAdjust="spacingAndGlyphs" font-weight="bold">+24,200</text>
<line x1="351" y1="264.6" x2="376" y2="264.6" stroke="#bbb" stroke-width="0.7"/>
<polyline points="419,256.8 393.6,256.8 393.6,268" fill="none" stroke="#bbb" stroke-width="0.7"/>
<polyline points="391,264.6 393.6,268 396.2,264.6" fill="none" stroke="#aaa" stroke-width="0.7"/>
<line x1="350.6" y1="264.6" x2="350.6" y2="278" stroke="#bbb" stroke-width="0.7"/>
<path d="M419.4 263.6l4.2-2.6v5.2z" fill="#333"/>
<line x1="423" y1="263.6" x2="429.4" y2="269" stroke="#555" stroke-width="0.8"/>
<text x="677.6" y="492.4" font-size="6" fill="#222" textLength="22.4" lengthAdjust="spacingAndGlyphs" font-weight="bold">+8,100</text>
<text x="718.4" y="510.8" font-size="6" fill="#222" textLength="23.2" lengthAdjust="spacingAndGlyphs" font-weight="bold">+7,000</text>
<polyline points="701.6,496.4 679.2,496.4 679.2,512" fill="none" stroke="#bbb" stroke-width="0.7"/>
<polyline points="676.8,508.6 679.2,512 681.6,508.6" fill="none" stroke="#aaa" stroke-width="0.7"/>
<polyline points="749,514 716,514 716,528.4" fill="none" stroke="#bbb" stroke-width="0.7"/>
<polyline points="713.6,525 716,528.4 718.4,525" fill="none" stroke="#aaa" stroke-width="0.7"/>
<line x1="322.7" y1="273" x2="329.3" y2="280" stroke="#bbb" stroke-width="0.7"/>
<line x1="318" y1="278.6" x2="345" y2="278.6" stroke="#ccc" stroke-width="0.7"/>
<text x="195.8" y="232.3" font-size="9.7" fill="#404040" textLength="83.7" lengthAdjust="spacingAndGlyphs">SOLAR SKYLIGHT</text>
<polyline points="195.8,235.4 427.2,235.4 427.2,282" fill="none" stroke="#666" stroke-width="1.15"/>
<circle cx="426.6" cy="282" r="1.6" fill="#000"/>
<text x="195.8" y="278.4" font-size="9.7" fill="#404040" textLength="55.8" lengthAdjust="spacingAndGlyphs">Green roof</text>
<line x1="195.8" y1="281.6" x2="346" y2="281.6" stroke="#666" stroke-width="1.15"/>
<text x="197.8" y="323.8" font-size="9.7" fill="#404040" textLength="127.7" lengthAdjust="spacingAndGlyphs">White plaster Weber BI00</text>
<line x1="195.8" y1="327.6" x2="346" y2="327.6" stroke="#666" stroke-width="1.15"/>
<circle cx="346" cy="327.6" r="1.6" fill="#000"/>
<text x="197.8" y="345" font-size="9.7" fill="#404040" textLength="94" lengthAdjust="spacingAndGlyphs">White sun Shading</text>
<line x1="195.8" y1="348.6" x2="342" y2="348.6" stroke="#666" stroke-width="1.15"/>
<circle cx="342" cy="348.6" r="1.5" fill="#000"/>
<text x="197.8" y="415.4" font-size="9.7" fill="#404040" textLength="124.6" lengthAdjust="spacingAndGlyphs">Greenery on the loggias</text>
<line x1="195.8" y1="418.6" x2="338" y2="418.6" stroke="#666" stroke-width="1.15"/>
<circle cx="338" cy="418.6" r="1.6" fill="#000"/>
<text x="197.8" y="458.4" font-size="9.7" fill="#404040" textLength="95" lengthAdjust="spacingAndGlyphs">SGG Triple Glazing</text>
<text x="197.8" y="471" font-size="9.7" fill="#404040" textLength="95.6" lengthAdjust="spacingAndGlyphs">Climatop Acoustic</text>
<text x="197.8" y="484" font-size="9.7" fill="#404040" textLength="113.8" lengthAdjust="spacingAndGlyphs">reduces heating costs</text>
<line x1="195.8" y1="474.6" x2="348" y2="474.6" stroke="#666" stroke-width="1.15"/>
<circle cx="348.6" cy="474.6" r="1.6" fill="#000"/>
<text x="195" y="526.6" font-size="9.7" fill="#404040" textLength="121.6" lengthAdjust="spacingAndGlyphs">SGG COOL-LITE XTREME</text>
<text x="195" y="539.6" font-size="9.7" fill="#404040" textLength="70" lengthAdjust="spacingAndGlyphs">70/33 A 70/33 II</text>
<text x="195" y="552.6" font-size="9.7" fill="#404040" textLength="113.8" lengthAdjust="spacingAndGlyphs">reduces heating costs</text>
<line x1="195" y1="541.8" x2="348" y2="541.8" stroke="#666" stroke-width="1.15"/>
<circle cx="348.6" cy="541.8" r="1.6" fill="#000"/>
<text x="196.4" y="572.6" font-size="9.7" fill="#404040" textLength="54" lengthAdjust="spacingAndGlyphs">Green roof</text>
<polyline points="196.4,575.4 252,575.4 254.6,578 254.6,599" fill="none" stroke="#666" stroke-width="1.15"/>
<circle cx="254.6" cy="599.4" r="1.6" fill="#000"/>
<text x="585" y="318" font-size="9.7" fill="#404040" textLength="96.3" lengthAdjust="spacingAndGlyphs">Underfloor heating</text>
<text x="585" y="330.4" font-size="9.7" fill="#404040" textLength="62" lengthAdjust="spacingAndGlyphs">and cooling</text>
<line x1="528" y1="333" x2="681.3" y2="333" stroke="#666" stroke-width="1.15"/>
<circle cx="526.4" cy="332.6" r="1.5" fill="#000"/>
<text x="574.4" y="392.4" font-size="9.7" fill="#404040" textLength="78" lengthAdjust="spacingAndGlyphs">Hot water used</text>
<text x="574.4" y="404.6" font-size="9.7" fill="#404040" textLength="107.6" lengthAdjust="spacingAndGlyphs">during daily activities</text>
<line x1="443" y1="407.4" x2="681.3" y2="407.4" stroke="#666" stroke-width="1.15"/>
<circle cx="442.6" cy="407.4" r="1.6" fill="#000"/>
<text x="602.8" y="436.2" font-size="9.7" fill="#404040" textLength="78.5" lengthAdjust="spacingAndGlyphs">Ceiling heating</text>
<text x="602.8" y="448.8" font-size="9.7" fill="#404040" textLength="62" lengthAdjust="spacingAndGlyphs">and cooling</text>
<polyline points="681.3,451.8 563.8,451.8 563.8,536.8 528,536.8" fill="none" stroke="#666" stroke-width="1.15"/>
<circle cx="527" cy="536.8" r="1.6" fill="#000"/>
<text x="625.6" y="471.6" font-size="9.7" fill="#404040" textLength="55.6" lengthAdjust="spacingAndGlyphs">Green roof</text>
<polyline points="681.3,475.3 601.4,475.3 601.4,527" fill="none" stroke="#666" stroke-width="1.15"/>
<circle cx="601.4" cy="527" r="1.6" fill="#000"/>
<rect x="585.6" y="635" width="4.2" height="108.6" fill="#fff"/>
<line x1="585.6" y1="635" x2="585.6" y2="743.6" stroke="#666" stroke-width="0.9"/>
<line x1="589.8" y1="635" x2="589.8" y2="743.6" stroke="#666" stroke-width="0.9"/>
<line x1="585.6" y1="743.6" x2="589.8" y2="743.6" stroke="#666" stroke-width="0.9"/>
<rect x="600.8" y="635" width="4.6" height="108.6" fill="#fff"/>
<line x1="600.8" y1="635" x2="600.8" y2="743.6" stroke="#666" stroke-width="0.9"/>
<line x1="605.4" y1="635" x2="605.4" y2="743.6" stroke="#666" stroke-width="0.9"/>
<line x1="600.8" y1="743.6" x2="605.4" y2="743.6" stroke="#666" stroke-width="0.9"/>
<rect x="617.4" y="635" width="5" height="108.6" fill="#fff"/>
<line x1="617.4" y1="635" x2="617.4" y2="743.6" stroke="#666" stroke-width="0.9"/>
<line x1="622.4" y1="635" x2="622.4" y2="743.6" stroke="#666" stroke-width="0.9"/>
<line x1="617.4" y1="743.6" x2="622.4" y2="743.6" stroke="#666" stroke-width="0.9"/>
<line x1="532" y1="657.2" x2="585.6" y2="657.2" stroke="#888" stroke-width="0.9"/>
<polyline points="532,670.5 564.2,670.5 564.2,760.2 681.6,760.2" fill="none" stroke="#888" stroke-width="0.9"/>
<text x="656" y="674.8" font-size="9.7" fill="#404040" textLength="96.8" lengthAdjust="spacingAndGlyphs">Geothermal probe</text>
<line x1="622.4" y1="677" x2="752.8" y2="677" stroke="#666" stroke-width="1.15"/>
<circle cx="622.6" cy="677" r="1.6" fill="#000"/>
<text x="574" y="757.2" font-size="9.7" fill="#404040" textLength="72" lengthAdjust="spacingAndGlyphs">Water storage</text>
</g>
<g id="right">
<use href="#scenery" x="772.5"/>
<g transform="translate(772.5 0)">
<path d="M316.6 345.8C386.6 351.2 479.8 353.8 549.7 348.4C479.8 362 386.6 359.4 316.6 345.8Z" fill="#c5d8e7" opacity="0.85"/>
<path d="M318.6 369.1C388.6 355.3 481.8 351.8 551.7 365.7C481.8 360.5 388.6 364 318.6 369.1Z" fill="#cbdce9" opacity="0.85"/>
<path d="M326.6 368.2C391.2 373.2 477.2 375.8 541.7 370.8C477.2 383.2 391.2 380.6 326.6 368.2Z" fill="#c5d8e7" opacity="0.85"/>
<path d="M313.4 394.2C385.8 399.5 482.3 402.1 554.7 396.7C482.3 410.3 385.8 407.7 313.4 394.2Z" fill="#c5d8e7" opacity="0.85"/>
<path d="M315.4 417.4C387.8 403.6 484.3 400.1 556.7 413.9C484.3 408.8 387.8 412.3 315.4 417.4Z" fill="#cbdce9" opacity="0.85"/>
<path d="M323.4 416.5C390.4 421.4 479.7 424 546.7 419.1C479.7 431.4 390.4 428.8 323.4 416.5Z" fill="#c5d8e7" opacity="0.85"/>
<path d="M312.1 442.4C383.8 447.8 479.3 450.4 551 445C479.3 458.6 383.8 456 312.1 442.4Z" fill="#c5d8e7" opacity="0.85"/>
<path d="M314.1 465.8C385.8 451.9 481.3 448.4 553 462.3C481.3 457.1 385.8 460.6 314.1 465.8Z" fill="#cbdce9" opacity="0.85"/>
<path d="M322.1 464.9C388.4 469.9 476.7 472.5 543 467.5C476.7 479.9 388.4 477.3 322.1 464.9Z" fill="#c5d8e7" opacity="0.85"/>
<path d="M321 490.9C388.7 496.3 479.1 498.8 546.8 493.5C479.1 507 388.7 504.4 321 490.9Z" fill="#c5d8e7" opacity="0.85"/>
<path d="M323 514.1C390.7 500.3 481.1 496.9 548.8 510.7C481.1 505.6 390.7 509 323 514.1Z" fill="#cbdce9" opacity="0.85"/>
<path d="M331 513.3C393.3 518.2 476.5 520.8 538.8 515.9C476.5 528.2 393.3 525.6 331 513.3Z" fill="#c5d8e7" opacity="0.85"/>
<path d="M317.5 539.7C387.9 546.1 481.8 548.9 552.2 542.6C481.8 557.1 387.9 554.3 317.5 539.7Z" fill="#c5d8e7" opacity="0.85"/>
<path d="M319.5 565.4C389.9 550.6 483.8 546.8 554.2 561.6C483.8 555.5 389.9 559.3 319.5 565.4Z" fill="#cbdce9" opacity="0.85"/>
<path d="M327.5 564.5C392.5 570.3 479.2 573.1 544.2 567.3C479.2 580.5 392.5 577.7 327.5 564.5Z" fill="#c5d8e7" opacity="0.85"/>
<path d="M312.4 591.6C383.6 597.8 478.6 600.6 549.8 594.4C478.6 608.8 383.6 606 312.4 591.6Z" fill="#c5d8e7" opacity="0.85"/>
<path d="M314.4 616.9C385.6 602.2 480.6 598.5 551.8 613.1C480.6 607.2 385.6 610.9 314.4 616.9Z" fill="#cbdce9" opacity="0.85"/>
<path d="M322.4 616C388.2 621.6 476 624.4 541.8 618.8C476 631.8 388.2 629 322.4 616Z" fill="#c5d8e7" opacity="0.85"/>
<use href="#thin"/>
<line x1="355" y1="534" x2="355" y2="633" stroke="#e2e2e2" stroke-width="0.8"/><line x1="367.5" y1="534" x2="367.5" y2="633" stroke="#e2e2e2" stroke-width="0.8"/><line x1="380" y1="534" x2="380" y2="633" stroke="#e2e2e2" stroke-width="0.8"/><line x1="392.5" y1="534" x2="392.5" y2="633" stroke="#e2e2e2" stroke-width="0.8"/><line x1="405" y1="534" x2="405" y2="633" stroke="#e2e2e2" stroke-width="0.8"/><line x1="417.5" y1="534" x2="417.5" y2="633" stroke="#e2e2e2" stroke-width="0.8"/><line x1="430" y1="534" x2="430" y2="633" stroke="#e2e2e2" stroke-width="0.8"/><line x1="452" y1="534" x2="452" y2="633" stroke="#e2e2e2" stroke-width="0.8"/><line x1="466" y1="534" x2="466" y2="633" stroke="#e2e2e2" stroke-width="0.8"/><line x1="480" y1="534" x2="480" y2="633" stroke="#e2e2e2" stroke-width="0.8"/><line x1="492.5" y1="534" x2="492.5" y2="633" stroke="#e2e2e2" stroke-width="0.8"/><line x1="505" y1="534" x2="505" y2="633" stroke="#e2e2e2" stroke-width="0.8"/><line x1="517.5" y1="534" x2="517.5" y2="633" stroke="#e2e2e2" stroke-width="0.8"/><line x1="395.5" y1="534" x2="395.5" y2="633" stroke="#bdbdbd" stroke-width="0.8"/><line x1="440" y1="534" x2="440" y2="633" stroke="#bdbdbd" stroke-width="0.8"/><line x1="444.6" y1="534" x2="444.6" y2="633" stroke="#bdbdbd" stroke-width="0.8"/><line x1="472.5" y1="534" x2="472.5" y2="633" stroke="#bdbdbd" stroke-width="0.8"/>
<line x1="388.8" y1="294" x2="477.6" y2="294" stroke="#e0232b" stroke-width="1.2"/><rect x="391.4" y="294" width="1.3" height="14" fill="url(#rd)"/><rect x="444.2" y="294" width="1.3" height="14" fill="url(#rd)"/><rect x="476.2" y="294" width="1.3" height="14" fill="url(#rd)"/>
<line x1="350.6" y1="293.4" x2="375" y2="293.4" stroke="#a9c4de" stroke-width="1.8"/>
<line x1="487.4" y1="293.4" x2="526.6" y2="293.4" stroke="#a9c4de" stroke-width="1.8"/>
<rect x="356.6" y="294" width="0.8" height="13" fill="url(#gd)"/><rect x="520.6" y="294" width="0.8" height="13" fill="url(#gd)"/>
<line x1="460.6" y1="341.6" x2="500.8" y2="341.6" stroke="#e0232b" stroke-width="1.2"/><rect x="497" y="341.6" width="1.3" height="14" fill="url(#rd)"/>
<line x1="350.4" y1="341.8" x2="451" y2="341.8" stroke="#a9c4de" stroke-width="1.8"/>
<line x1="374.4" y1="391.6" x2="460.6" y2="391.6" stroke="#e0232b" stroke-width="1.2"/><rect x="375.4" y="391.6" width="1.3" height="14" fill="url(#rd)"/>
<line x1="473" y1="391.4" x2="526.6" y2="391.4" stroke="#a9c4de" stroke-width="1.8"/>
<line x1="460.6" y1="438.2" x2="500.8" y2="438.2" stroke="#e0232b" stroke-width="1.2"/><rect x="497" y="438.2" width="1.3" height="14" fill="url(#rd)"/>
<line x1="350.4" y1="438.4" x2="451" y2="438.4" stroke="#a9c4de" stroke-width="1.8"/>
<line x1="374.4" y1="488.2" x2="460.6" y2="488.2" stroke="#e0232b" stroke-width="1.2"/><rect x="375.4" y="488.2" width="1.3" height="14" fill="url(#rd)"/>
<line x1="473" y1="487.4" x2="526.6" y2="487.4" stroke="#a9c4de" stroke-width="1.8"/>
<rect x="353.6" y="381.6" width="146.4" height="2.2" fill="#e8727a"/>
<rect x="376" y="524.4" width="147" height="4.6" rx="2" fill="#e9a3aa"/>
<line x1="460.6" y1="537.3" x2="522.8" y2="537.3" stroke="#e0232b" stroke-width="1.2"/><rect x="521.4" y="537.3" width="1.3" height="14" fill="url(#rd)"/>
<line x1="350.4" y1="537.3" x2="458" y2="537.3" stroke="#a9c4de" stroke-width="1.8"/>
<line x1="460.6" y1="589" x2="522.8" y2="589" stroke="#e0232b" stroke-width="1.2"/><rect x="521.4" y="589" width="1.3" height="14" fill="url(#rd)"/>
<line x1="288.2" y1="642.2" x2="522.8" y2="642.2" stroke="#e0232b" stroke-width="1.2"/><rect x="288.4" y="642.2" width="1.3" height="14" fill="url(#rd)"/><rect x="521.4" y="642.2" width="1.3" height="14" fill="url(#rd)"/>
<line x1="288.2" y1="686.7" x2="522.8" y2="686.7" stroke="#e0232b" stroke-width="1.2"/><rect x="288.4" y="686.7" width="1.3" height="14" fill="url(#rd)"/><rect x="521.4" y="686.7" width="1.3" height="14" fill="url(#rd)"/>
<line x1="457.9" y1="284" x2="457.9" y2="633" stroke="#7fa5d8" stroke-width="0.9"/>
<line x1="460.6" y1="277" x2="460.6" y2="688.4" stroke="#e0232b" stroke-width="1.6"/>
<line x1="456.8" y1="254" x2="456.8" y2="276" stroke="#e2555c" stroke-width="0.9" stroke-dasharray="2.2 1.2"/>
<line x1="462.8" y1="340" x2="462.8" y2="633" stroke="#f08a8f" stroke-width="0.8"/>
<circle cx="454.6" cy="269.3" r="1.7" fill="#111"/>
<circle cx="459.4" cy="276.4" r="1.8" fill="#fff" stroke="#333" stroke-width="0.7"/>
<path d="M462.1 255v19m-1.6-2.4l1.6 2.6 1.6-2.6" fill="none" stroke="#9cc0e0" stroke-width="0.8"/>
<use href="#struct"/>
<g transform="translate(355.2 679.8) scale(0.265)"><path d="M4 0L4 -8C0 -12 0 -36 6 -42C10 -46 14 -48 18 -50C22 -62 28 -68 50 -68C72 -68 78 -62 82 -50C86 -48 90 -46 94 -42C100 -36 100 -12 96 -8L96 0L78 0L78 -6L22 -6L22 0Z" fill="#0a0a0a"/><path d="M24 -50C27 -60 31 -63 50 -63C69 -63 73 -60 76 -50Z" fill="#fff" opacity="0.85"/><rect x="30" y="-20" width="40" height="8" rx="2" fill="#fff" opacity="0.85"/><path d="M8 -36L26 -32L26 -28L10 -30ZM92 -36L74 -32L74 -28L90 -30Z" fill="#fff" opacity="0.8"/></g>
<g transform="translate(427.6 679.8) scale(0.202 0.240)" fill="#0a0a0a"><ellipse cx="0" cy="-92" rx="7" ry="7.8"/><path d="M-4 -85C-12 -84 -17 -80 -18 -71L-19.5 -50C-19.5 -45 -16 -43 -14.5 -46L-13 -38L-10.5 -3L-10 0L-1.5 0L0 -32L1.5 0L10 0L10.5 -3L13 -38L14.5 -46C16 -43 19.5 -45 19.5 -50L18 -71C17 -80 12 -84 4 -85Z"/></g>
<g transform="translate(466.4 679.8) scale(0.550 0.550)"><path d="M2 -6C0 -10 1 -16 6 -19C14 -22 24 -24 30 -26C38 -33 48 -37 60 -37C70 -37 78 -34 86 -27L92 -32L96 -34L95 -24C98 -20 99 -12 98 -6L90 -5A10 10 0 0 0 70 -5L31 -5A10 10 0 0 0 11 -5Z" fill="#0a0a0a"/><path d="M36 -26C42 -31 50 -34 58 -34L58 -26ZM61 -34C68 -34 75 -31 80 -26L61 -26Z" fill="#fff" opacity="0.7"/><circle cx="21" cy="-7" r="7.6" fill="#0a0a0a"/><circle cx="80" cy="-7" r="7.6" fill="#0a0a0a"/><circle cx="21" cy="-7" r="3.4" fill="#fff"/><circle cx="80" cy="-7" r="3.4" fill="#fff"/></g>
<g transform="translate(232.6 725.2) scale(0.270)"><path d="M4 0L4 -8C0 -12 0 -36 6 -42C10 -46 14 -48 18 -50C22 -62 28 -68 50 -68C72 -68 78 -62 82 -50C86 -48 90 -46 94 -42C100 -36 100 -12 96 -8L96 0L78 0L78 -6L22 -6L22 0Z" fill="#0a0a0a"/><path d="M24 -50C27 -60 31 -63 50 -63C69 -63 73 -60 76 -50Z" fill="#fff" opacity="0.85"/><rect x="30" y="-20" width="40" height="8" rx="2" fill="#fff" opacity="0.85"/><path d="M8 -36L26 -32L26 -28L10 -30ZM92 -36L74 -32L74 -28L90 -30Z" fill="#fff" opacity="0.8"/></g>
<g transform="translate(344.5 725.2) scale(-0.575 0.575)"><path d="M2 -6C0 -10 1 -16 6 -19C14 -22 24 -24 30 -26C38 -33 48 -37 60 -37C70 -37 78 -34 86 -27L92 -32L96 -34L95 -24C98 -20 99 -12 98 -6L90 -5A10 10 0 0 0 70 -5L31 -5A10 10 0 0 0 11 -5Z" fill="#0a0a0a"/><path d="M36 -26C42 -31 50 -34 58 -34L58 -26ZM61 -34C68 -34 75 -31 80 -26L61 -26Z" fill="#fff" opacity="0.7"/><circle cx="21" cy="-7" r="7.6" fill="#0a0a0a"/><circle cx="80" cy="-7" r="7.6" fill="#0a0a0a"/><circle cx="21" cy="-7" r="3.4" fill="#fff"/><circle cx="80" cy="-7" r="3.4" fill="#fff"/></g>
<text transform="translate(389.6 314) rotate(-90)" font-size="7" font-weight="bold" fill="#4a4a4a" text-anchor="middle" textLength="16" lengthAdjust="spacingAndGlyphs">3400</text>
<text transform="translate(389.6 362) rotate(-90)" font-size="7" font-weight="bold" fill="#4a4a4a" text-anchor="middle" textLength="16" lengthAdjust="spacingAndGlyphs">3200</text>
<text transform="translate(389.6 410.5) rotate(-90)" font-size="7" font-weight="bold" fill="#4a4a4a" text-anchor="middle" textLength="16" lengthAdjust="spacingAndGlyphs">3200</text>
<text transform="translate(389.6 459) rotate(-90)" font-size="7" font-weight="bold" fill="#4a4a4a" text-anchor="middle" textLength="16" lengthAdjust="spacingAndGlyphs">3200</text>
<text transform="translate(389.6 507.5) rotate(-90)" font-size="7" font-weight="bold" fill="#4a4a4a" text-anchor="middle" textLength="16" lengthAdjust="spacingAndGlyphs">3200</text>
<text transform="translate(389.6 557) rotate(-90)" font-size="7" font-weight="bold" fill="#4a4a4a" text-anchor="middle" textLength="16" lengthAdjust="spacingAndGlyphs">3600</text>
<text transform="translate(389.6 608) rotate(-90)" font-size="7" font-weight="bold" fill="#4a4a4a" text-anchor="middle" textLength="16" lengthAdjust="spacingAndGlyphs">3600</text>
<text transform="translate(389.6 659) rotate(-90)" font-size="7" font-weight="bold" fill="#4a4a4a" text-anchor="middle" textLength="16" lengthAdjust="spacingAndGlyphs">3000</text>
<text transform="translate(389.6 704) rotate(-90)" font-size="7" font-weight="bold" fill="#4a4a4a" text-anchor="middle" textLength="16" lengthAdjust="spacingAndGlyphs">3000</text>
<text transform="translate(318.8 458) rotate(-90)" font-size="7.6" font-weight="bold" fill="#4a4a4a" text-anchor="middle" textLength="20" lengthAdjust="spacingAndGlyphs">23600</text>
<text x="347.6" y="261.4" font-size="6" fill="#222" textLength="26" lengthAdjust="spacingAndGlyphs" font-weight="bold">+23,800</text>
<text x="392" y="253.8" font-size="6" fill="#222" textLength="26" lengthAdjust="spacingAndGlyphs" font-weight="bold">+24,200</text>
<line x1="351" y1="264.6" x2="376" y2="264.6" stroke="#bbb" stroke-width="0.7"/>
<polyline points="419,256.8 393.6,256.8 393.6,268" fill="none" stroke="#bbb" stroke-width="0.7"/>
<polyline points="391,264.6 393.6,268 396.2,264.6" fill="none" stroke="#aaa" stroke-width="0.7"/>
<line x1="350.6" y1="264.6" x2="350.6" y2="278" stroke="#bbb" stroke-width="0.7"/>
<path d="M419.4 263.6l4.2-2.6v5.2z" fill="#333"/>
<line x1="423" y1="263.6" x2="429.4" y2="269" stroke="#555" stroke-width="0.8"/>
<text x="677.6" y="492.4" font-size="6" fill="#222" textLength="22.4" lengthAdjust="spacingAndGlyphs" font-weight="bold">+8,100</text>
<text x="718.4" y="510.8" font-size="6" fill="#222" textLength="23.2" lengthAdjust="spacingAndGlyphs" font-weight="bold">+7,000</text>
<polyline points="701.6,496.4 679.2,496.4 679.2,512" fill="none" stroke="#bbb" stroke-width="0.7"/>
<polyline points="676.8,508.6 679.2,512 681.6,508.6" fill="none" stroke="#aaa" stroke-width="0.7"/>
<polyline points="749,514 716,514 716,528.4" fill="none" stroke="#bbb" stroke-width="0.7"/>
<polyline points="713.6,525 716,528.4 718.4,525" fill="none" stroke="#aaa" stroke-width="0.7"/>
<line x1="322.7" y1="273" x2="329.3" y2="280" stroke="#bbb" stroke-width="0.7"/>
<line x1="318" y1="278.6" x2="345" y2="278.6" stroke="#ccc" stroke-width="0.7"/>
</g>
<text x="1147.2" y="430.2" font-size="9.6" fill="#555" textLength="38.2" lengthAdjust="spacingAndGlyphs">Kitchen</text>
<text x="1248.2" y="430.2" font-size="9.6" fill="#555" textLength="47.5" lengthAdjust="spacingAndGlyphs">Badroom</text>
<text x="1123.5" y="478.6" font-size="9.6" fill="#555" textLength="47.5" lengthAdjust="spacingAndGlyphs">Badroom</text>
<text x="1246.5" y="478.6" font-size="9.6" fill="#555" textLength="37.3" lengthAdjust="spacingAndGlyphs">Kitchen</text>
<text x="968.4" y="232.3" font-size="9.7" fill="#404040" textLength="46" lengthAdjust="spacingAndGlyphs">SKYLIGHT</text>
<text x="968.4" y="245.4" font-size="9.7" fill="#404040" textLength="94.6" lengthAdjust="spacingAndGlyphs">Natural ventilation</text>
<polyline points="968.4,235.4 1199,235.4 1199,282" fill="none" stroke="#666" stroke-width="1.15"/>
<circle cx="1198.6" cy="282" r="1.6" fill="#000"/>
<text x="968.4" y="278.4" font-size="9.7" fill="#404040" textLength="55.8" lengthAdjust="spacingAndGlyphs">Green roof</text>
<line x1="968.4" y1="281.6" x2="1118.6" y2="281.6" stroke="#666" stroke-width="1.15"/>
<text x="970.4" y="345" font-size="9.7" fill="#404040" textLength="94" lengthAdjust="spacingAndGlyphs">White sun Shading</text>
<line x1="968.4" y1="348.6" x2="1114.6" y2="348.6" stroke="#666" stroke-width="1.15"/>
<circle cx="1114.6" cy="348.6" r="1.5" fill="#000"/>
<text x="970.4" y="415.4" font-size="9.7" fill="#404040" textLength="124.6" lengthAdjust="spacingAndGlyphs">Greenery on the loggias</text>
<line x1="968.4" y1="418.6" x2="1110.6" y2="418.6" stroke="#666" stroke-width="1.15"/>
<circle cx="1110.6" cy="418.6" r="1.6" fill="#000"/>
<text x="970.4" y="458.4" font-size="9.7" fill="#404040" textLength="95" lengthAdjust="spacingAndGlyphs">SGG Triple Glazing</text>
<text x="970.4" y="471" font-size="9.7" fill="#404040" textLength="95.6" lengthAdjust="spacingAndGlyphs">Climatop Acoustic</text>
<text x="970.4" y="484" font-size="9.7" fill="#404040" textLength="118.6" lengthAdjust="spacingAndGlyphs">reduces CO2 emissions</text>
<line x1="968.4" y1="474.6" x2="1120.6" y2="474.6" stroke="#666" stroke-width="1.15"/>
<circle cx="1121.2" cy="474.6" r="1.6" fill="#000"/>
<text x="967.6" y="526.6" font-size="9.7" fill="#404040" textLength="121.6" lengthAdjust="spacingAndGlyphs">SGG COOL-LITE XTREME</text>
<text x="967.6" y="539.6" font-size="9.7" fill="#404040" textLength="70" lengthAdjust="spacingAndGlyphs">70/33 A 70/33 II</text>
<text x="967.6" y="552.6" font-size="9.7" fill="#404040" textLength="118.6" lengthAdjust="spacingAndGlyphs">reduces CO2 emissions</text>
<line x1="967.6" y1="541.8" x2="1120.6" y2="541.8" stroke="#666" stroke-width="1.15"/>
<circle cx="1121.2" cy="541.8" r="1.6" fill="#000"/>
<text x="969" y="572.6" font-size="9.7" fill="#404040" textLength="54" lengthAdjust="spacingAndGlyphs">Green roof</text>
<polyline points="969,575.4 1024.6,575.4 1027.2,578 1027.2,599" fill="none" stroke="#666" stroke-width="1.15"/>
<circle cx="1027.2" cy="599.4" r="1.6" fill="#000"/>
<text x="1334.4" y="236" font-size="9.7" fill="#404040" textLength="119" lengthAdjust="spacingAndGlyphs">Mechanical ventilation</text>
<text x="1334.4" y="248.6" font-size="9.7" fill="#404040" textLength="102.4" lengthAdjust="spacingAndGlyphs">with RECUPERATION</text>
<text x="1334.4" y="261.6" font-size="9.7" fill="#404040" textLength="84" lengthAdjust="spacingAndGlyphs">Heat exchanger</text>
<polyline points="1226.8,269 1226.8,251.6 1454,251.6" fill="none" stroke="#666" stroke-width="1.15"/>
<text x="1360.4" y="363.6" font-size="9.7" fill="#404040" textLength="94.6" lengthAdjust="spacingAndGlyphs">Natural ventilation</text>
<text x="1360.4" y="376.4" font-size="9.7" fill="#404040" textLength="68" lengthAdjust="spacingAndGlyphs">Double sided</text>
<text x="1360.4" y="389.2" font-size="9.7" fill="#404040" textLength="55.6" lengthAdjust="spacingAndGlyphs">Apartment</text>
<line x1="1214" y1="366.2" x2="1454.6" y2="366.2" stroke="#666" stroke-width="1.15"/>
<circle cx="1213.4" cy="366.2" r="1.6" fill="#000"/>
<text x="1404.6" y="450.6" font-size="9.7" fill="#404040" textLength="48.6" lengthAdjust="spacingAndGlyphs">FRESH AIR</text>
<line x1="1336" y1="451.6" x2="1453.4" y2="451.6" stroke="#666" stroke-width="1.15"/>
<circle cx="1335.6" cy="451.6" r="1.6" fill="#000"/>
<text x="1398" y="471.6" font-size="9.7" fill="#404040" textLength="55.6" lengthAdjust="spacingAndGlyphs">Green roof</text>
<polyline points="1453.8,475.3 1373.6,475.3 1373.6,527" fill="none" stroke="#666" stroke-width="1.15"/>
<circle cx="1373.6" cy="527" r="1.6" fill="#000"/>
</g>
<text x="122.6" y="816.3" font-size="24.6" fill="#0d0d0d" textLength="231" lengthAdjust="spacingAndGlyphs" font-weight="bold">THERMAL COMFORT</text>
<text x="122.9" y="839.8" font-size="18.5" fill="#404040" textLength="552" lengthAdjust="spacingAndGlyphs">Heating and cooling are provided by heat pumps with</text>
<text x="122.9" y="861.8" font-size="18.5" fill="#404040" textLength="618" lengthAdjust="spacingAndGlyphs">geothermal probes. The facade shading system of perforated</text>
<text x="122.9" y="884.3" font-size="18.5" fill="#404040" textLength="635.6" lengthAdjust="spacingAndGlyphs">panels, green roofs, and a white facade color reduces building</text>
<text x="122.9" y="906.5" font-size="18.5" fill="#404040" textLength="644.4" lengthAdjust="spacingAndGlyphs">overheating and lowers heating and cooling costs by up to 70%.</text>
<text x="916.4" y="827.6" font-size="24.6" fill="#0d0d0d" textLength="247.2" lengthAdjust="spacingAndGlyphs" font-weight="bold">INDOOR  AIR QUALITY</text>
<text x="916.4" y="850.3" font-size="18.5" fill="#404040" textLength="574" lengthAdjust="spacingAndGlyphs">The apartments achieve natural cross-ventilation and are</text>
<text x="916.4" y="872.4" font-size="18.5" fill="#404040" textLength="585" lengthAdjust="spacingAndGlyphs">equipped with a heat recovery system with a minimum air</text>
<text x="916.4" y="894.8" font-size="18.5" fill="#404040" textLength="376" lengthAdjust="spacingAndGlyphs">exchange rate of 30 m3/h per person.</text>
</svg></body></html>
